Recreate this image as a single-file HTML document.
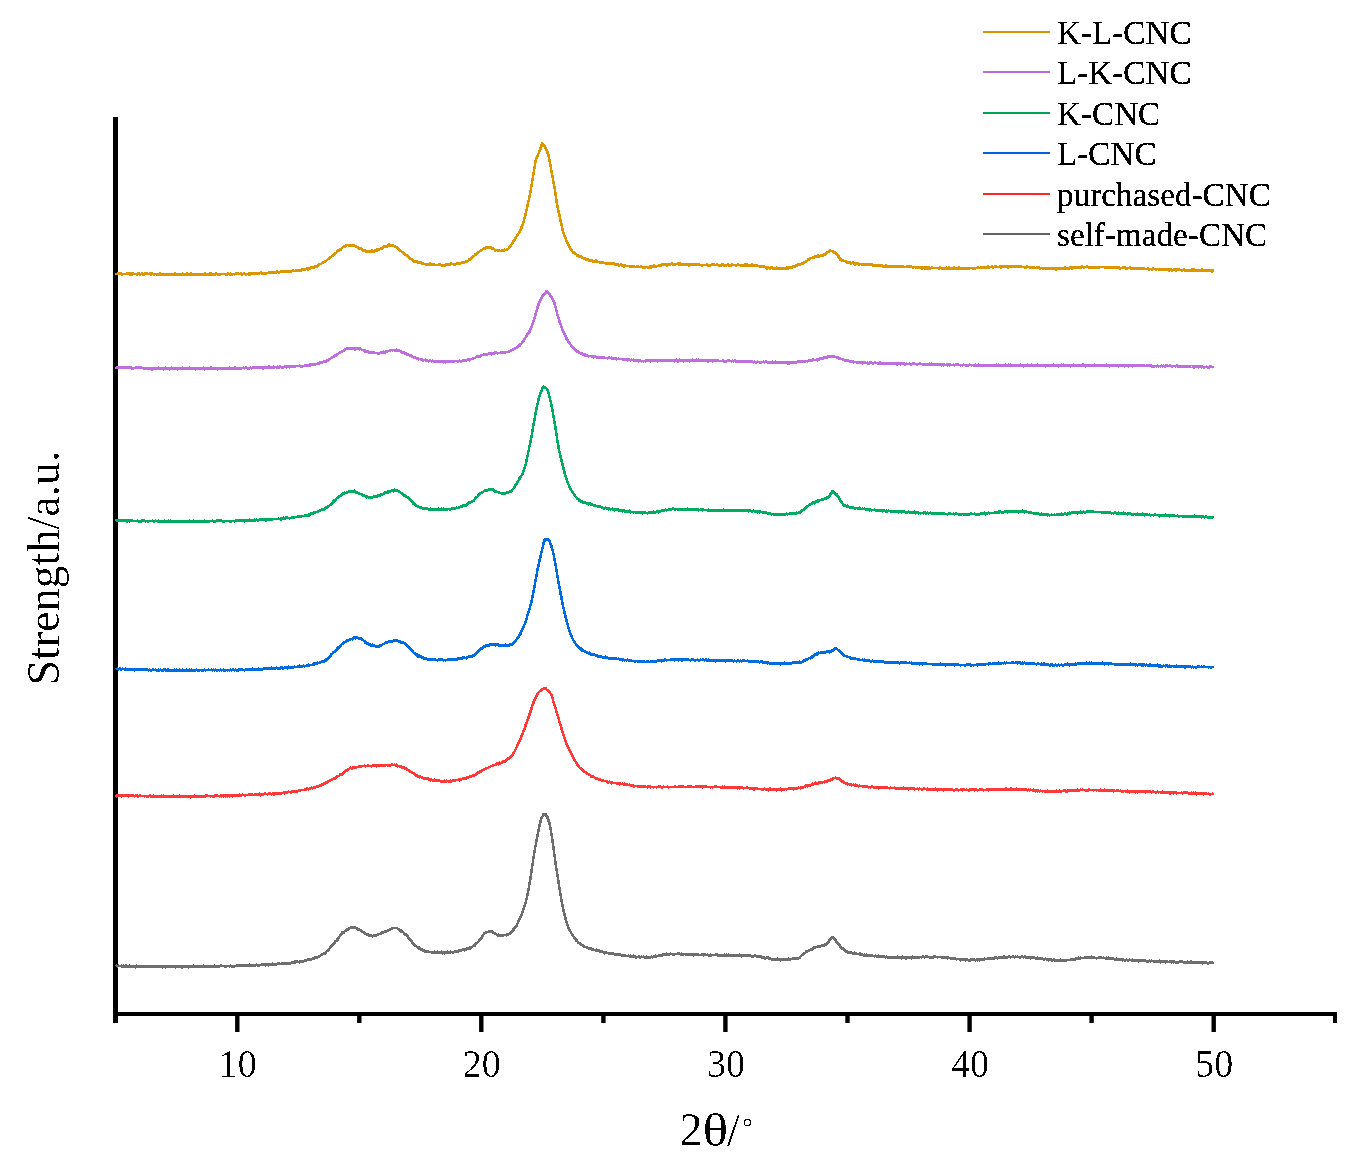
<!DOCTYPE html>
<html><head><meta charset="utf-8"><style>
html,body{margin:0;padding:0;background:#fff;}
svg{display:block;}
</style></head><body>
<svg width="1367" height="1174" viewBox="0 0 1367 1174">
<style>
text { font-family: "Liberation Serif", serif; fill:#000; }
.tl { font-size: 39.5px; }
.lg { font-size: 33.2px; }
.ax { font-size: 46px; }
</style>
<defs><filter id="crisp" x="-5%" y="-5%" width="110%" height="110%"><feComponentTransfer><feFuncA type="discrete" tableValues="0 1 1"/></feComponentTransfer></filter><filter id="crisp2" x="-5%" y="-5%" width="110%" height="110%"><feComponentTransfer><feFuncA type="discrete" tableValues="0 0 1"/></feComponentTransfer></filter></defs>
<rect width="1367" height="1174" fill="#fff"/>
<rect x="113" y="117" width="5" height="906" fill="#000"/><rect x="113" y="1012" width="1224" height="4" fill="#000"/><rect x="235.1" y="1014" width="4.4" height="18" fill="#000"/><rect x="479.1" y="1014" width="4.4" height="18" fill="#000"/><rect x="723.2" y="1014" width="4.4" height="18" fill="#000"/><rect x="967.4" y="1014" width="4.4" height="18" fill="#000"/><rect x="1211.5" y="1014" width="4.4" height="18" fill="#000"/><rect x="357.1" y="1014" width="4.4" height="9" fill="#000"/><rect x="601.2" y="1014" width="4.4" height="9" fill="#000"/><rect x="845.3" y="1014" width="4.4" height="9" fill="#000"/><rect x="1089.4" y="1014" width="4.4" height="9" fill="#000"/><rect x="1333" y="1014" width="4" height="9" fill="#000"/>
<path d="M115.5 966.2 L117.5 966.2 L119.5 966.2 L121.5 966.3 L123.5 966.3 L125.5 966.3 L127.5 966.3 L129.5 966.3 L131.5 966.4 L133.5 966.4 L135.5 966.4 L137.5 966.4 L139.5 966.5 L141.5 966.5 L143.5 966.5 L145.5 966.5 L147.5 966.6 L149.5 966.6 L151.5 966.6 L153.5 966.6 L155.5 966.6 L157.5 966.6 L159.5 966.7 L161.5 966.7 L163.5 966.7 L165.5 966.7 L167.5 966.7 L169.5 966.7 L171.5 966.7 L173.5 966.7 L175.5 966.7 L177.5 966.7 L179.5 966.7 L181.5 966.7 L183.5 966.7 L185.5 966.7 L187.5 966.6 L189.5 966.6 L191.5 966.6 L193.5 966.6 L195.5 966.6 L197.5 966.6 L199.5 966.5 L201.5 966.5 L203.5 966.5 L205.5 966.5 L207.5 966.4 L209.5 966.4 L211.5 966.4 L213.5 966.4 L215.5 966.3 L217.5 966.3 L219.5 966.3 L221.5 966.2 L223.5 966.2 L225.5 966.2 L227.5 966.1 L229.5 966.1 L231.5 966.1 L233.5 966.0 L235.5 966.0 L237.5 965.9 L239.5 965.9 L241.5 965.8 L243.5 965.8 L245.5 965.7 L247.5 965.6 L249.5 965.6 L251.5 965.5 L253.5 965.4 L255.5 965.3 L257.5 965.2 L259.5 965.1 L261.5 965.0 L263.5 964.9 L265.5 964.8 L267.5 964.7 L269.5 964.5 L271.5 964.4 L273.5 964.3 L275.5 964.1 L277.5 964.0 L279.5 963.9 L281.5 963.7 L283.5 963.5 L285.5 963.4 L287.5 963.2 L289.5 963.0 L291.5 962.8 L293.5 962.5 L295.5 962.3 L297.5 962.0 L299.5 961.7 L301.5 961.3 L303.5 961.0 L305.5 960.6 L307.5 960.1 L309.5 959.7 L311.5 959.1 L313.5 958.5 L315.5 957.8 L317.5 956.9 L319.5 955.9 L321.5 954.9 L323.5 953.7 L325.5 952.4 L327.5 950.5 L329.5 948.4 L331.5 946.2 L333.5 943.9 L335.5 941.6 L337.5 939.0 L339.5 936.4 L341.5 934.0 L343.5 932.1 L345.5 930.7 L347.5 929.3 L349.5 928.2 L351.5 927.5 L353.5 927.5 L355.5 928.0 L357.5 928.9 L359.5 929.9 L361.5 930.8 L363.5 932.0 L365.5 933.5 L367.5 934.8 L369.5 935.8 L371.5 936.1 L373.5 935.9 L375.5 935.4 L377.5 934.7 L379.5 934.0 L381.5 933.2 L383.5 932.4 L385.5 931.6 L387.5 930.6 L389.5 929.5 L391.5 928.6 L393.5 928.0 L395.5 927.9 L397.5 928.5 L399.5 929.6 L401.5 931.0 L403.5 932.4 L405.5 934.2 L407.5 936.5 L409.5 939.1 L411.5 941.7 L413.5 944.1 L415.5 945.8 L417.5 947.1 L419.5 948.3 L421.5 949.4 L423.5 950.3 L425.5 951.2 L427.5 951.8 L429.5 952.2 L431.5 952.3 L433.5 952.4 L435.5 952.5 L437.5 952.5 L439.5 952.6 L441.5 952.6 L443.5 952.6 L445.5 952.6 L447.5 952.5 L449.5 952.4 L451.5 952.1 L453.5 951.8 L455.5 951.5 L457.5 951.1 L459.5 950.8 L461.5 950.4 L463.5 949.9 L465.5 949.4 L467.5 948.7 L469.5 948.0 L471.5 947.1 L473.5 945.9 L475.5 944.4 L477.5 942.6 L479.5 940.5 L481.5 938.2 L483.5 934.6 L485.5 932.7 L487.5 932.2 L489.5 931.9 L491.5 932.0 L493.5 932.8 L495.5 933.9 L497.5 935.0 L499.5 935.6 L501.5 935.5 L503.5 935.3 L505.5 934.9 L507.5 934.4 L509.5 933.6 L511.5 932.0 L513.5 929.8 L515.5 927.3 L517.5 923.7 L519.5 919.3 L521.5 914.6 L523.5 909.5 L525.5 903.3 L527.5 894.8 L529.5 884.1 L531.5 871.4 L533.5 857.6 L535.5 846.0 L537.5 835.6 L539.5 825.4 L541.5 817.7 L543.5 815.0 L545.5 814.5 L547.5 817.9 L549.5 823.5 L551.5 834.2 L553.5 848.1 L555.5 862.7 L557.5 875.6 L559.5 888.1 L561.5 900.6 L563.5 910.4 L565.5 918.6 L567.5 925.2 L569.5 929.8 L571.5 933.4 L573.5 936.3 L575.5 939.0 L577.5 941.4 L579.5 943.5 L581.5 945.0 L583.5 946.1 L585.5 947.0 L587.5 947.8 L589.5 948.6 L591.5 949.2 L593.5 949.8 L595.5 950.3 L597.5 950.8 L599.5 951.3 L601.5 951.8 L603.5 952.2 L605.5 952.7 L607.5 953.1 L609.5 953.4 L611.5 953.8 L613.5 954.2 L615.5 954.5 L617.5 954.8 L619.5 955.0 L621.5 955.3 L623.5 955.5 L625.5 955.7 L627.5 955.9 L629.5 956.1 L631.5 956.3 L633.5 956.5 L635.5 956.7 L637.5 956.9 L639.5 957.0 L641.5 957.1 L643.5 957.2 L645.5 957.3 L647.5 957.3 L649.5 957.3 L651.5 957.1 L653.5 956.9 L655.5 956.6 L657.5 956.2 L659.5 955.8 L661.5 955.4 L663.5 955.0 L665.5 954.7 L667.5 954.4 L669.5 954.1 L671.5 954.0 L673.5 954.0 L675.5 954.0 L677.5 954.0 L679.5 954.1 L681.5 954.1 L683.5 954.2 L685.5 954.3 L687.5 954.3 L689.5 954.4 L691.5 954.5 L693.5 954.6 L695.5 954.6 L697.5 954.7 L699.5 954.8 L701.5 954.9 L703.5 954.9 L705.5 955.0 L707.5 955.0 L709.5 955.1 L711.5 955.1 L713.5 955.2 L715.5 955.2 L717.5 955.2 L719.5 955.3 L721.5 955.3 L723.5 955.3 L725.5 955.3 L727.5 955.3 L729.5 955.4 L731.5 955.4 L733.5 955.4 L735.5 955.4 L737.5 955.5 L739.5 955.5 L741.5 955.5 L743.5 955.6 L745.5 955.6 L747.5 955.7 L749.5 955.7 L751.5 955.8 L753.5 956.0 L755.5 956.2 L757.5 956.5 L759.5 956.8 L761.5 957.1 L763.5 957.4 L765.5 957.8 L767.5 958.1 L769.5 958.5 L771.5 958.8 L773.5 959.1 L775.5 959.3 L777.5 959.5 L779.5 959.6 L781.5 959.7 L783.5 959.7 L785.5 959.6 L787.5 959.5 L789.5 959.4 L791.5 959.2 L793.5 959.0 L795.5 958.7 L797.5 958.4 L799.5 957.4 L801.5 955.7 L803.5 953.9 L805.5 952.6 L807.5 951.4 L809.5 950.2 L811.5 949.2 L813.5 948.2 L815.5 947.4 L817.5 946.8 L819.5 946.3 L821.5 945.9 L823.5 945.3 L825.5 944.5 L827.5 943.0 L829.5 940.2 L831.5 937.9 L833.5 937.8 L835.5 940.0 L837.5 943.0 L839.5 945.4 L841.5 948.0 L843.5 949.7 L845.5 950.7 L847.5 951.5 L849.5 952.2 L851.5 952.8 L853.5 953.3 L855.5 953.7 L857.5 954.0 L859.5 954.3 L861.5 954.6 L863.5 954.8 L865.5 955.1 L867.5 955.3 L869.5 955.5 L871.5 955.8 L873.5 956.0 L875.5 956.2 L877.5 956.4 L879.5 956.6 L881.5 956.7 L883.5 956.9 L885.5 957.0 L887.5 957.1 L889.5 957.2 L891.5 957.3 L893.5 957.4 L895.5 957.5 L897.5 957.5 L899.5 957.5 L901.5 957.5 L903.5 957.5 L905.5 957.5 L907.5 957.5 L909.5 957.4 L911.5 957.4 L913.5 957.4 L915.5 957.3 L917.5 957.3 L919.5 957.3 L921.5 957.2 L923.5 957.2 L925.5 957.2 L927.5 957.1 L929.5 957.1 L931.5 957.1 L933.5 957.1 L935.5 957.1 L937.5 957.1 L939.5 957.2 L941.5 957.3 L943.5 957.5 L945.5 957.7 L947.5 957.9 L949.5 958.1 L951.5 958.4 L953.5 958.6 L955.5 958.8 L957.5 959.1 L959.5 959.3 L961.5 959.5 L963.5 959.6 L965.5 959.8 L967.5 959.9 L969.5 959.9 L971.5 959.9 L973.5 959.9 L975.5 959.8 L977.5 959.7 L979.5 959.6 L981.5 959.5 L983.5 959.3 L985.5 959.1 L987.5 959.0 L989.5 958.8 L991.5 958.6 L993.5 958.4 L995.5 958.2 L997.5 958.0 L999.5 957.8 L1001.5 957.7 L1003.5 957.5 L1005.5 957.4 L1007.5 957.2 L1009.5 957.1 L1011.5 957.0 L1013.5 956.9 L1015.5 956.9 L1017.5 956.9 L1019.5 956.9 L1021.5 957.0 L1023.5 957.1 L1025.5 957.2 L1027.5 957.3 L1029.5 957.5 L1031.5 957.7 L1033.5 957.9 L1035.5 958.1 L1037.5 958.3 L1039.5 958.5 L1041.5 958.8 L1043.5 959.0 L1045.5 959.2 L1047.5 959.4 L1049.5 959.6 L1051.5 959.8 L1053.5 960.0 L1055.5 960.1 L1057.5 960.2 L1059.5 960.3 L1061.5 960.4 L1063.5 960.4 L1065.5 960.4 L1067.5 960.2 L1069.5 960.0 L1071.5 959.7 L1073.5 959.4 L1075.5 959.0 L1077.5 958.7 L1079.5 958.3 L1081.5 958.0 L1083.5 957.8 L1085.5 957.6 L1087.5 957.6 L1089.5 957.6 L1091.5 957.6 L1093.5 957.7 L1095.5 957.8 L1097.5 957.9 L1099.5 958.0 L1101.5 958.1 L1103.5 958.2 L1105.5 958.3 L1107.5 958.5 L1109.5 958.6 L1111.5 958.8 L1113.5 958.9 L1115.5 959.1 L1117.5 959.3 L1119.5 959.4 L1121.5 959.6 L1123.5 959.7 L1125.5 959.9 L1127.5 960.0 L1129.5 960.1 L1131.5 960.3 L1133.5 960.4 L1135.5 960.5 L1137.5 960.6 L1139.5 960.6 L1141.5 960.7 L1143.5 960.8 L1145.5 960.9 L1147.5 961.0 L1149.5 961.1 L1151.5 961.2 L1153.5 961.3 L1155.5 961.3 L1157.5 961.4 L1159.5 961.5 L1161.5 961.6 L1163.5 961.6 L1165.5 961.7 L1167.5 961.8 L1169.5 961.9 L1171.5 961.9 L1173.5 962.0 L1175.5 962.0 L1177.5 962.1 L1179.5 962.2 L1181.5 962.2 L1183.5 962.3 L1185.5 962.3 L1187.5 962.4 L1189.5 962.4 L1191.5 962.5 L1193.5 962.5 L1195.5 962.5 L1197.5 962.6 L1199.5 962.6 L1201.5 962.7 L1203.5 962.7 L1205.5 962.7 L1207.5 962.8 L1209.5 962.8 L1211.5 962.9 L1213.5 962.9" fill="none" stroke="#6E6E6E" stroke-width="2.5" stroke-linejoin="round" shape-rendering="crispEdges"/><path d="M115.5 965.8 L116.5 965.5 L117.5 966.5 L118.5 965.4 L119.5 966.3 L120.5 966.0 L121.5 965.4 L122.5 966.3 L123.5 965.4 L124.5 966.2 L125.5 965.4 L126.5 965.5 L127.5 966.2 L128.5 967.0 L129.5 965.6 L130.5 965.8 L131.5 966.6 L132.5 967.3 L133.5 966.5 L134.5 966.2 L135.5 967.4 L136.5 965.5 L137.5 967.2 L138.5 966.0 L139.5 965.8 L140.5 965.7 L141.5 966.1 L142.5 967.1 L143.5 965.9 L144.5 966.7 L145.5 966.8 L146.5 966.3 L147.5 966.6 L148.5 965.7 L149.5 965.7 L150.5 966.0 L151.5 967.0 L152.5 966.5 L153.5 966.2 L154.5 966.8 L155.5 966.5 L156.5 966.2 L157.5 967.2 L158.5 967.0 L159.5 966.1 L160.5 966.8 L161.5 966.7 L162.5 967.4 L163.5 967.1 L164.5 966.3 L165.5 967.6 L166.5 965.9 L167.5 966.5 L168.5 967.2 L169.5 966.0 L170.5 966.7 L171.5 965.8 L172.5 967.0 L173.5 967.2 L174.5 966.8 L175.5 967.4 L176.5 966.3 L177.5 967.1 L178.5 966.9 L179.5 966.8 L180.5 966.6 L181.5 967.4 L182.5 967.6 L183.5 966.6 L184.5 967.0 L185.5 965.8 L186.5 967.1 L187.5 966.9 L188.5 967.6 L189.5 967.3 L190.5 966.2 L191.5 966.4 L192.5 966.9 L193.5 965.6 L194.5 966.5 L195.5 965.9 L196.5 965.8 L197.5 965.7 L198.5 967.1 L199.5 965.8 L200.5 966.0 L201.5 966.3 L202.5 967.2 L203.5 965.7 L204.5 966.4 L205.5 966.6 L206.5 967.2 L207.5 967.1 L208.5 967.2 L209.5 966.0 L210.5 966.2 L211.5 966.1 L212.5 967.1 L213.5 967.3 L214.5 965.6 L215.5 965.7 L216.5 965.8 L217.5 965.8 L218.5 966.2 L219.5 966.4 L220.5 965.8 L221.5 965.2 L222.5 966.1 L223.5 965.9 L224.5 966.3 L225.5 967.1 L226.5 966.5 L227.5 966.2 L228.5 966.3 L229.5 966.4 L230.5 965.2 L231.5 966.9 L232.5 966.6 L233.5 966.8 L234.5 966.6 L235.5 965.8 L236.5 965.8 L237.5 965.1 L238.5 966.2 L239.5 965.0 L240.5 965.0 L241.5 965.2 L242.5 965.1 L243.5 965.5 L244.5 964.8 L245.5 964.7 L246.5 965.0 L247.5 964.8 L248.5 965.3 L249.5 964.6 L250.5 966.3 L251.5 965.7 L252.5 964.7 L253.5 964.9 L254.5 965.0 L255.5 965.0 L256.5 964.5 L257.5 965.9 L258.5 966.1 L259.5 965.0 L260.5 965.0 L261.5 964.2 L262.5 964.2 L263.5 964.6 L264.5 964.4 L265.5 965.4 L266.5 964.0 L267.5 963.7 L268.5 965.5 L269.5 964.6 L270.5 963.8 L271.5 964.5 L272.5 963.4 L273.5 964.3 L274.5 965.2 L275.5 964.9 L276.5 964.5 L277.5 963.5 L278.5 963.7 L279.5 963.2 L280.5 964.3 L281.5 963.8 L282.5 964.2 L283.5 963.2 L284.5 962.9 L285.5 964.0 L286.5 964.3 L287.5 963.9 L288.5 963.7 L289.5 963.6 L290.5 963.4 L291.5 962.2 L292.5 962.7 L293.5 962.2 L294.5 961.5 L295.5 961.3 L296.5 961.7 L297.5 961.5 L298.5 962.2 L299.5 962.6 L300.5 961.4 L301.5 962.2 L302.5 962.1 L303.5 961.9 L304.5 960.5 L305.5 960.0 L306.5 959.8 L307.5 959.5 L308.5 959.3 L309.5 959.9 L310.5 960.2 L311.5 959.8 L312.5 958.8 L313.5 958.8 L314.5 958.7 L315.5 956.9 L316.5 957.7 L317.5 957.7 L318.5 957.0 L319.5 956.4 L320.5 955.4 L321.5 954.3 L322.5 954.9 L323.5 953.4 L324.5 953.7 L325.5 953.3 L326.5 951.3 L327.5 950.3 L328.5 950.4 L329.5 948.9 L330.5 946.6 L331.5 945.4 L332.5 944.3 L333.5 944.7 L334.5 943.4 L335.5 940.9 L336.5 941.0 L337.5 940.0 L338.5 938.0 L339.5 936.1 L340.5 935.2 L341.5 933.3 L342.5 932.0 L343.5 933.1 L344.5 931.7 L345.5 930.7 L346.5 930.8 L347.5 929.1 L348.5 929.4 L349.5 928.8 L350.5 927.2 L351.5 927.0 L352.5 927.0 L353.5 927.0 L354.5 927.9 L355.5 927.5 L356.5 928.2 L357.5 928.1 L358.5 930.2 L359.5 929.6 L360.5 930.3 L361.5 931.0 L362.5 932.2 L363.5 931.9 L364.5 933.6 L365.5 933.5 L366.5 934.3 L367.5 934.9 L368.5 934.4 L369.5 935.7 L370.5 935.4 L371.5 935.1 L372.5 936.6 L373.5 935.2 L374.5 935.6 L375.5 935.8 L376.5 935.2 L377.5 934.4 L378.5 934.4 L379.5 934.1 L380.5 934.1 L381.5 932.4 L382.5 932.9 L383.5 931.9 L384.5 931.6 L385.5 932.2 L386.5 931.1 L387.5 930.7 L388.5 930.6 L389.5 930.3 L390.5 928.9 L391.5 928.8 L392.5 928.3 L393.5 928.0 L394.5 928.3 L395.5 927.9 L396.5 928.2 L397.5 928.5 L398.5 929.9 L399.5 930.0 L400.5 931.0 L401.5 931.9 L402.5 931.2 L403.5 932.5 L404.5 934.1 L405.5 934.8 L406.5 934.5 L407.5 935.7 L408.5 937.7 L409.5 938.2 L410.5 939.9 L411.5 940.9 L412.5 943.3 L413.5 944.6 L414.5 945.8 L415.5 945.1 L416.5 946.9 L417.5 947.4 L418.5 947.0 L419.5 949.0 L420.5 949.8 L421.5 948.8 L422.5 950.8 L423.5 950.1 L424.5 950.7 L425.5 952.1 L426.5 952.2 L427.5 951.1 L428.5 951.9 L429.5 952.2 L430.5 952.0 L431.5 951.7 L432.5 952.0 L433.5 952.8 L434.5 951.5 L435.5 952.6 L436.5 952.4 L437.5 951.5 L438.5 952.2 L439.5 952.8 L440.5 952.6 L441.5 951.7 L442.5 953.6 L443.5 953.2 L444.5 953.5 L445.5 951.8 L446.5 952.1 L447.5 951.6 L448.5 953.0 L449.5 951.9 L450.5 951.5 L451.5 952.0 L452.5 952.8 L453.5 952.5 L454.5 951.2 L455.5 950.8 L456.5 952.2 L457.5 951.3 L458.5 951.4 L459.5 949.9 L460.5 949.7 L461.5 950.8 L462.5 950.0 L463.5 949.1 L464.5 950.5 L465.5 949.6 L466.5 949.7 L467.5 947.9 L468.5 949.1 L469.5 947.1 L470.5 948.3 L471.5 947.0 L472.5 946.2 L473.5 946.0 L474.5 946.1 L475.5 944.0 L476.5 942.8 L477.5 942.6 L478.5 941.1 L479.5 939.8 L480.5 938.8 L481.5 937.3 L482.5 935.8 L483.5 934.2 L484.5 932.8 L485.5 933.3 L486.5 932.0 L487.5 932.2 L488.5 931.4 L489.5 931.6 L490.5 930.9 L491.5 931.5 L492.5 931.4 L493.5 933.3 L494.5 933.5 L495.5 933.3 L496.5 934.4 L497.5 935.8 L498.5 934.6 L499.5 936.2 L500.5 935.5 L501.5 935.5 L502.5 936.1 L503.5 935.1 L504.5 935.1 L505.5 935.3 L506.5 935.6 L507.5 934.1 L508.5 934.7 L509.5 934.0 L510.5 933.1 L511.5 931.8 L512.5 930.6 L513.5 928.9 L514.5 927.9 L515.5 926.4 L516.5 926.1 L517.5 923.2 L518.5 920.9 L519.5 918.5 L520.5 917.7 L521.5 915.4 L522.5 912.5 L523.5 909.0 L524.5 906.0 L525.5 902.8 L526.5 899.4 L527.5 894.1 L528.5 889.5 L529.5 883.6 L530.5 879.1 L531.5 872.4 L532.5 864.5 L533.5 857.1 L534.5 852.5 L535.5 845.6 L536.5 840.4 L537.5 834.6 L538.5 830.5 L539.5 825.3 L540.5 820.6 L541.5 817.1 L542.5 816.2 L543.5 814.0 L544.5 813.9 L545.5 813.7 L546.5 815.6 L547.5 816.9 L548.5 819.5 L549.5 823.1 L550.5 827.8 L551.5 834.4 L552.5 840.7 L553.5 848.6 L554.5 856.0 L555.5 863.1 L556.5 870.0 L557.5 875.4 L558.5 881.5 L559.5 889.1 L560.5 893.8 L561.5 901.0 L562.5 906.1 L563.5 909.5 L564.5 915.3 L565.5 919.4 L566.5 922.4 L567.5 925.6 L568.5 928.3 L569.5 929.1 L570.5 931.7 L571.5 933.4 L572.5 935.6 L573.5 936.9 L574.5 938.3 L575.5 939.1 L576.5 941.0 L577.5 941.8 L578.5 942.9 L579.5 942.9 L580.5 943.4 L581.5 944.2 L582.5 945.3 L583.5 945.3 L584.5 947.2 L585.5 947.1 L586.5 947.7 L587.5 948.1 L588.5 948.6 L589.5 948.5 L590.5 947.9 L591.5 949.8 L592.5 950.0 L593.5 949.8 L594.5 950.1 L595.5 950.6 L596.5 949.7 L597.5 951.3 L598.5 950.6 L599.5 950.4 L600.5 951.1 L601.5 952.2 L602.5 951.4 L603.5 952.7 L604.5 953.4 L605.5 952.6 L606.5 952.6 L607.5 953.0 L608.5 953.6 L609.5 954.0 L610.5 953.9 L611.5 954.1 L612.5 953.1 L613.5 953.4 L614.5 953.8 L615.5 955.0 L616.5 954.2 L617.5 954.9 L618.5 953.9 L619.5 954.1 L620.5 954.7 L621.5 955.6 L622.5 955.7 L623.5 955.8 L624.5 955.2 L625.5 955.7 L626.5 955.7 L627.5 955.8 L628.5 955.3 L629.5 956.9 L630.5 955.6 L631.5 957.3 L632.5 957.3 L633.5 955.5 L634.5 956.5 L635.5 957.3 L636.5 957.7 L637.5 956.8 L638.5 956.5 L639.5 956.4 L640.5 957.9 L641.5 956.5 L642.5 957.3 L643.5 956.5 L644.5 957.3 L645.5 958.2 L646.5 956.6 L647.5 957.9 L648.5 957.3 L649.5 958.0 L650.5 957.6 L651.5 956.6 L652.5 957.8 L653.5 956.9 L654.5 955.8 L655.5 955.6 L656.5 956.4 L657.5 956.1 L658.5 955.6 L659.5 955.1 L660.5 955.3 L661.5 955.0 L662.5 955.9 L663.5 954.0 L664.5 955.3 L665.5 955.3 L666.5 953.7 L667.5 955.2 L668.5 954.7 L669.5 954.9 L670.5 953.6 L671.5 953.8 L672.5 953.8 L673.5 955.0 L674.5 954.2 L675.5 953.7 L676.5 953.9 L677.5 953.6 L678.5 953.2 L679.5 953.3 L680.5 954.8 L681.5 953.7 L682.5 955.0 L683.5 953.7 L684.5 953.8 L685.5 954.3 L686.5 953.7 L687.5 954.1 L688.5 955.3 L689.5 955.2 L690.5 955.1 L691.5 954.7 L692.5 955.3 L693.5 955.4 L694.5 954.7 L695.5 955.1 L696.5 953.8 L697.5 955.2 L698.5 954.7 L699.5 955.3 L700.5 955.1 L701.5 954.4 L702.5 954.0 L703.5 955.8 L704.5 954.2 L705.5 954.9 L706.5 954.7 L707.5 954.6 L708.5 955.6 L709.5 956.0 L710.5 954.6 L711.5 955.4 L712.5 954.8 L713.5 955.3 L714.5 955.0 L715.5 954.5 L716.5 954.5 L717.5 954.6 L718.5 956.1 L719.5 955.2 L720.5 954.7 L721.5 956.1 L722.5 956.3 L723.5 955.2 L724.5 954.6 L725.5 954.7 L726.5 954.5 L727.5 955.0 L728.5 954.5 L729.5 954.8 L730.5 954.9 L731.5 955.5 L732.5 956.2 L733.5 955.9 L734.5 955.2 L735.5 955.3 L736.5 955.5 L737.5 955.2 L738.5 955.2 L739.5 954.6 L740.5 955.1 L741.5 956.5 L742.5 954.8 L743.5 955.6 L744.5 955.8 L745.5 956.3 L746.5 955.1 L747.5 955.2 L748.5 955.2 L749.5 955.5 L750.5 955.6 L751.5 956.7 L752.5 956.6 L753.5 956.7 L754.5 955.1 L755.5 955.3 L756.5 956.7 L757.5 957.3 L758.5 956.6 L759.5 956.9 L760.5 955.9 L761.5 956.9 L762.5 958.1 L763.5 958.1 L764.5 958.3 L765.5 958.7 L766.5 957.5 L767.5 957.4 L768.5 957.6 L769.5 958.5 L770.5 959.0 L771.5 959.7 L772.5 959.4 L773.5 959.4 L774.5 959.7 L775.5 959.2 L776.5 959.5 L777.5 958.6 L778.5 960.1 L779.5 959.1 L780.5 960.5 L781.5 960.0 L782.5 959.3 L783.5 958.9 L784.5 959.2 L785.5 959.9 L786.5 960.0 L787.5 958.8 L788.5 958.6 L789.5 959.5 L790.5 959.5 L791.5 959.0 L792.5 958.6 L793.5 959.2 L794.5 957.9 L795.5 958.3 L796.5 958.5 L797.5 959.3 L798.5 958.3 L799.5 958.2 L800.5 956.6 L801.5 955.2 L802.5 954.3 L803.5 954.8 L804.5 953.7 L805.5 952.2 L806.5 951.0 L807.5 951.4 L808.5 951.2 L809.5 950.1 L810.5 949.2 L811.5 949.5 L812.5 949.5 L813.5 947.7 L814.5 946.9 L815.5 947.1 L816.5 946.9 L817.5 947.2 L818.5 945.9 L819.5 946.9 L820.5 946.6 L821.5 945.9 L822.5 945.0 L823.5 946.2 L824.5 944.6 L825.5 945.2 L826.5 943.4 L827.5 942.4 L828.5 942.2 L829.5 939.8 L830.5 939.8 L831.5 937.9 L832.5 936.9 L833.5 937.3 L834.5 938.6 L835.5 940.4 L836.5 942.4 L837.5 942.3 L838.5 944.0 L839.5 944.8 L840.5 947.7 L841.5 947.2 L842.5 948.1 L843.5 948.9 L844.5 950.0 L845.5 951.5 L846.5 951.9 L847.5 952.0 L848.5 952.9 L849.5 953.1 L850.5 952.1 L851.5 952.1 L852.5 953.9 L853.5 953.7 L854.5 952.5 L855.5 954.0 L856.5 953.6 L857.5 953.7 L858.5 953.8 L859.5 953.6 L860.5 953.4 L861.5 954.1 L862.5 954.4 L863.5 955.7 L864.5 954.2 L865.5 956.0 L866.5 954.6 L867.5 955.0 L868.5 956.1 L869.5 956.2 L870.5 955.5 L871.5 954.9 L872.5 955.8 L873.5 955.7 L874.5 956.9 L875.5 955.6 L876.5 956.0 L877.5 957.2 L878.5 955.5 L879.5 956.4 L880.5 957.3 L881.5 957.3 L882.5 955.9 L883.5 955.9 L884.5 956.1 L885.5 957.9 L886.5 956.6 L887.5 957.6 L888.5 958.0 L889.5 956.9 L890.5 956.8 L891.5 958.2 L892.5 957.6 L893.5 956.9 L894.5 957.9 L895.5 957.1 L896.5 957.0 L897.5 956.5 L898.5 958.0 L899.5 958.3 L900.5 957.8 L901.5 958.4 L902.5 956.5 L903.5 957.0 L904.5 957.4 L905.5 958.4 L906.5 958.4 L907.5 957.2 L908.5 956.9 L909.5 957.3 L910.5 957.4 L911.5 958.3 L912.5 956.7 L913.5 958.0 L914.5 957.8 L915.5 958.0 L916.5 957.9 L917.5 957.5 L918.5 956.9 L919.5 956.9 L920.5 957.0 L921.5 957.8 L922.5 956.4 L923.5 956.6 L924.5 957.7 L925.5 956.7 L926.5 956.3 L927.5 956.2 L928.5 957.2 L929.5 956.8 L930.5 958.1 L931.5 957.9 L932.5 958.1 L933.5 956.6 L934.5 956.3 L935.5 956.3 L936.5 957.1 L937.5 957.6 L938.5 957.1 L939.5 956.7 L940.5 957.1 L941.5 957.6 L942.5 957.8 L943.5 958.0 L944.5 958.3 L945.5 958.0 L946.5 957.0 L947.5 958.6 L948.5 957.6 L949.5 958.3 L950.5 958.0 L951.5 958.8 L952.5 957.9 L953.5 958.1 L954.5 958.2 L955.5 958.1 L956.5 959.7 L957.5 959.2 L958.5 958.8 L959.5 959.1 L960.5 960.4 L961.5 959.5 L962.5 959.0 L963.5 960.2 L964.5 960.0 L965.5 960.7 L966.5 959.0 L967.5 959.8 L968.5 960.5 L969.5 960.6 L970.5 960.7 L971.5 959.0 L972.5 959.5 L973.5 959.1 L974.5 959.2 L975.5 960.7 L976.5 959.9 L977.5 960.6 L978.5 959.4 L979.5 960.3 L980.5 959.4 L981.5 959.0 L982.5 959.9 L983.5 960.2 L984.5 958.4 L985.5 959.3 L986.5 959.3 L987.5 958.4 L988.5 958.6 L989.5 958.1 L990.5 958.1 L991.5 958.1 L992.5 958.7 L993.5 958.7 L994.5 957.7 L995.5 957.2 L996.5 957.8 L997.5 958.4 L998.5 957.3 L999.5 957.5 L1000.5 957.2 L1001.5 958.3 L1002.5 957.7 L1003.5 956.6 L1004.5 956.6 L1005.5 957.1 L1006.5 957.4 L1007.5 957.5 L1008.5 956.3 L1009.5 956.4 L1010.5 957.4 L1011.5 956.8 L1012.5 956.5 L1013.5 956.6 L1014.5 957.8 L1015.5 956.5 L1016.5 957.0 L1017.5 956.6 L1018.5 956.7 L1019.5 957.7 L1020.5 957.9 L1021.5 956.7 L1022.5 956.4 L1023.5 957.5 L1024.5 956.5 L1025.5 956.2 L1026.5 958.1 L1027.5 957.2 L1028.5 958.1 L1029.5 957.3 L1030.5 958.4 L1031.5 957.6 L1032.5 957.1 L1033.5 956.9 L1034.5 958.1 L1035.5 958.4 L1036.5 959.0 L1037.5 957.5 L1038.5 958.7 L1039.5 958.3 L1040.5 958.7 L1041.5 958.1 L1042.5 958.4 L1043.5 959.0 L1044.5 959.9 L1045.5 958.4 L1046.5 959.3 L1047.5 960.0 L1048.5 960.4 L1049.5 959.0 L1050.5 959.0 L1051.5 960.7 L1052.5 960.8 L1053.5 959.9 L1054.5 959.1 L1055.5 961.0 L1056.5 959.9 L1057.5 961.0 L1058.5 960.5 L1059.5 961.0 L1060.5 959.7 L1061.5 960.9 L1062.5 959.8 L1063.5 960.2 L1064.5 961.1 L1065.5 961.0 L1066.5 959.7 L1067.5 959.7 L1068.5 959.9 L1069.5 960.0 L1070.5 959.6 L1071.5 959.0 L1072.5 959.0 L1073.5 959.8 L1074.5 960.0 L1075.5 958.1 L1076.5 959.0 L1077.5 959.2 L1078.5 957.6 L1079.5 959.0 L1080.5 957.4 L1081.5 958.2 L1082.5 958.0 L1083.5 958.1 L1084.5 957.3 L1085.5 957.5 L1086.5 957.8 L1087.5 957.5 L1088.5 957.9 L1089.5 957.5 L1090.5 957.5 L1091.5 956.7 L1092.5 957.9 L1093.5 957.7 L1094.5 957.2 L1095.5 958.3 L1096.5 958.4 L1097.5 957.8 L1098.5 957.3 L1099.5 957.9 L1100.5 957.2 L1101.5 957.3 L1102.5 958.0 L1103.5 957.4 L1104.5 958.2 L1105.5 958.4 L1106.5 957.5 L1107.5 958.8 L1108.5 957.7 L1109.5 959.1 L1110.5 959.3 L1111.5 958.8 L1112.5 958.0 L1113.5 959.0 L1114.5 958.8 L1115.5 960.0 L1116.5 958.5 L1117.5 960.0 L1118.5 960.3 L1119.5 959.9 L1120.5 960.1 L1121.5 959.0 L1122.5 960.6 L1123.5 959.7 L1124.5 960.7 L1125.5 960.7 L1126.5 959.3 L1127.5 960.6 L1128.5 960.9 L1129.5 959.3 L1130.5 959.9 L1131.5 960.8 L1132.5 959.6 L1133.5 961.2 L1134.5 960.0 L1135.5 961.1 L1136.5 959.8 L1137.5 960.6 L1138.5 961.4 L1139.5 960.1 L1140.5 960.2 L1141.5 960.8 L1142.5 960.4 L1143.5 959.9 L1144.5 960.2 L1145.5 960.2 L1146.5 961.8 L1147.5 961.4 L1148.5 961.8 L1149.5 960.4 L1150.5 961.7 L1151.5 960.4 L1152.5 961.3 L1153.5 961.5 L1154.5 961.0 L1155.5 962.1 L1156.5 961.5 L1157.5 961.6 L1158.5 962.2 L1159.5 960.7 L1160.5 962.5 L1161.5 961.8 L1162.5 961.4 L1163.5 962.2 L1164.5 961.2 L1165.5 962.7 L1166.5 961.9 L1167.5 961.5 L1168.5 962.3 L1169.5 961.7 L1170.5 961.2 L1171.5 962.4 L1172.5 961.0 L1173.5 962.6 L1174.5 961.5 L1175.5 962.3 L1176.5 963.0 L1177.5 962.3 L1178.5 962.5 L1179.5 961.8 L1180.5 961.2 L1181.5 961.3 L1182.5 961.5 L1183.5 962.5 L1184.5 962.2 L1185.5 962.3 L1186.5 963.1 L1187.5 961.6 L1188.5 961.8 L1189.5 962.7 L1190.5 961.5 L1191.5 961.5 L1192.5 962.2 L1193.5 961.7 L1194.5 962.2 L1195.5 962.0 L1196.5 962.7 L1197.5 962.8 L1198.5 962.0 L1199.5 962.9 L1200.5 962.6 L1201.5 961.9 L1202.5 963.6 L1203.5 962.2 L1204.5 962.0 L1205.5 961.9 L1206.5 963.0 L1207.5 963.5 L1208.5 963.4 L1209.5 962.6 L1210.5 962.4 L1211.5 961.9 L1212.5 963.2 L1213.5 963.0" fill="none" stroke="#6E6E6E" stroke-width="2.3" stroke-linejoin="round" shape-rendering="crispEdges"/><path d="M115.5 795.5 L117.5 795.5 L119.5 795.6 L121.5 795.6 L123.5 795.6 L125.5 795.7 L127.5 795.7 L129.5 795.7 L131.5 795.8 L133.5 795.8 L135.5 795.8 L137.5 795.9 L139.5 795.9 L141.5 796.0 L143.5 796.0 L145.5 796.0 L147.5 796.1 L149.5 796.1 L151.5 796.2 L153.5 796.2 L155.5 796.2 L157.5 796.3 L159.5 796.3 L161.5 796.3 L163.5 796.3 L165.5 796.4 L167.5 796.4 L169.5 796.4 L171.5 796.4 L173.5 796.5 L175.5 796.5 L177.5 796.5 L179.5 796.5 L181.5 796.5 L183.5 796.5 L185.5 796.5 L187.5 796.5 L189.5 796.5 L191.5 796.5 L193.5 796.5 L195.5 796.4 L197.5 796.4 L199.5 796.4 L201.5 796.3 L203.5 796.3 L205.5 796.3 L207.5 796.2 L209.5 796.2 L211.5 796.1 L213.5 796.1 L215.5 796.0 L217.5 796.0 L219.5 795.9 L221.5 795.9 L223.5 795.8 L225.5 795.8 L227.5 795.7 L229.5 795.6 L231.5 795.6 L233.5 795.5 L235.5 795.5 L237.5 795.4 L239.5 795.3 L241.5 795.3 L243.5 795.2 L245.5 795.1 L247.5 795.1 L249.5 795.0 L251.5 794.9 L253.5 794.8 L255.5 794.7 L257.5 794.6 L259.5 794.5 L261.5 794.4 L263.5 794.3 L265.5 794.2 L267.5 794.1 L269.5 793.9 L271.5 793.8 L273.5 793.7 L275.5 793.5 L277.5 793.3 L279.5 793.1 L281.5 792.9 L283.5 792.7 L285.5 792.5 L287.5 792.2 L289.5 792.0 L291.5 791.7 L293.5 791.4 L295.5 791.1 L297.5 790.8 L299.5 790.5 L301.5 790.2 L303.5 789.8 L305.5 789.5 L307.5 789.1 L309.5 788.6 L311.5 788.1 L313.5 787.6 L315.5 787.1 L317.5 786.4 L319.5 785.7 L321.5 784.8 L323.5 783.8 L325.5 782.8 L327.5 781.8 L329.5 780.8 L331.5 779.7 L333.5 778.7 L335.5 777.7 L337.5 776.6 L339.5 775.4 L341.5 774.3 L343.5 772.9 L345.5 771.3 L347.5 769.8 L349.5 768.5 L351.5 767.8 L353.5 767.4 L355.5 767.1 L357.5 766.8 L359.5 766.5 L361.5 766.3 L363.5 766.2 L365.5 766.1 L367.5 766.0 L369.5 766.0 L371.5 765.9 L373.5 765.9 L375.5 765.8 L377.5 765.7 L379.5 765.7 L381.5 765.5 L383.5 765.3 L385.5 765.2 L387.5 765.0 L389.5 764.9 L391.5 764.9 L393.5 765.0 L395.5 765.3 L397.5 765.7 L399.5 766.2 L401.5 766.8 L403.5 767.4 L405.5 768.2 L407.5 769.4 L409.5 770.8 L411.5 772.2 L413.5 773.6 L415.5 774.7 L417.5 775.6 L419.5 776.5 L421.5 777.3 L423.5 778.0 L425.5 778.7 L427.5 779.1 L429.5 779.5 L431.5 779.9 L433.5 780.2 L435.5 780.5 L437.5 780.7 L439.5 780.9 L441.5 781.1 L443.5 781.2 L445.5 781.2 L447.5 781.1 L449.5 781.0 L451.5 780.8 L453.5 780.6 L455.5 780.3 L457.5 780.0 L459.5 779.7 L461.5 779.4 L463.5 778.9 L465.5 778.4 L467.5 777.7 L469.5 777.0 L471.5 776.3 L473.5 775.4 L475.5 774.4 L477.5 773.2 L479.5 772.0 L481.5 770.8 L483.5 769.8 L485.5 768.8 L487.5 767.9 L489.5 766.9 L491.5 766.1 L493.5 765.3 L495.5 764.6 L497.5 763.9 L499.5 763.3 L501.5 762.6 L503.5 761.8 L505.5 760.8 L507.5 759.7 L509.5 758.1 L511.5 755.8 L513.5 753.0 L515.5 749.6 L517.5 745.5 L519.5 741.1 L521.5 736.3 L523.5 731.1 L525.5 725.8 L527.5 720.2 L529.5 714.5 L531.5 708.4 L533.5 702.7 L535.5 697.9 L537.5 693.8 L539.5 691.5 L541.5 690.0 L543.5 689.0 L545.5 688.9 L547.5 690.0 L549.5 692.0 L551.5 695.1 L553.5 701.5 L555.5 708.2 L557.5 715.1 L559.5 721.8 L561.5 728.4 L563.5 734.8 L565.5 741.1 L567.5 746.0 L569.5 749.9 L571.5 753.6 L573.5 757.5 L575.5 761.5 L577.5 764.8 L579.5 767.3 L581.5 769.3 L583.5 771.0 L585.5 772.5 L587.5 773.8 L589.5 775.0 L591.5 776.1 L593.5 777.1 L595.5 778.0 L597.5 778.8 L599.5 779.5 L601.5 780.2 L603.5 780.7 L605.5 781.2 L607.5 781.6 L609.5 782.1 L611.5 782.5 L613.5 782.8 L615.5 783.2 L617.5 783.5 L619.5 783.8 L621.5 784.0 L623.5 784.3 L625.5 784.6 L627.5 784.9 L629.5 785.2 L631.5 785.4 L633.5 785.7 L635.5 785.9 L637.5 786.2 L639.5 786.4 L641.5 786.5 L643.5 786.7 L645.5 786.8 L647.5 786.8 L649.5 786.8 L651.5 786.8 L653.5 786.8 L655.5 786.8 L657.5 786.8 L659.5 786.8 L661.5 786.8 L663.5 786.8 L665.5 786.8 L667.5 786.8 L669.5 786.8 L671.5 786.8 L673.5 786.8 L675.5 786.8 L677.5 786.8 L679.5 786.8 L681.5 786.8 L683.5 786.8 L685.5 786.8 L687.5 786.8 L689.5 786.8 L691.5 786.8 L693.5 786.8 L695.5 786.8 L697.5 786.8 L699.5 786.9 L701.5 786.9 L703.5 786.9 L705.5 786.9 L707.5 786.9 L709.5 787.0 L711.5 787.0 L713.5 787.0 L715.5 787.1 L717.5 787.1 L719.5 787.2 L721.5 787.2 L723.5 787.2 L725.5 787.3 L727.5 787.3 L729.5 787.4 L731.5 787.4 L733.5 787.4 L735.5 787.5 L737.5 787.6 L739.5 787.7 L741.5 787.8 L743.5 787.9 L745.5 788.1 L747.5 788.2 L749.5 788.3 L751.5 788.5 L753.5 788.6 L755.5 788.7 L757.5 788.9 L759.5 789.0 L761.5 789.1 L763.5 789.2 L765.5 789.3 L767.5 789.4 L769.5 789.5 L771.5 789.6 L773.5 789.6 L775.5 789.6 L777.5 789.6 L779.5 789.5 L781.5 789.5 L783.5 789.4 L785.5 789.2 L787.5 789.1 L789.5 788.9 L791.5 788.7 L793.5 788.5 L795.5 788.3 L797.5 788.1 L799.5 787.8 L801.5 787.4 L803.5 786.9 L805.5 786.4 L807.5 785.8 L809.5 785.2 L811.5 784.6 L813.5 784.1 L815.5 783.6 L817.5 783.2 L819.5 782.8 L821.5 782.4 L823.5 782.0 L825.5 781.5 L827.5 781.0 L829.5 780.3 L831.5 779.2 L833.5 778.2 L835.5 777.6 L837.5 778.0 L839.5 779.5 L841.5 781.1 L843.5 782.4 L845.5 783.0 L847.5 783.7 L849.5 784.2 L851.5 784.7 L853.5 785.1 L855.5 785.4 L857.5 785.7 L859.5 786.0 L861.5 786.2 L863.5 786.4 L865.5 786.5 L867.5 786.7 L869.5 786.9 L871.5 787.0 L873.5 787.2 L875.5 787.3 L877.5 787.4 L879.5 787.5 L881.5 787.6 L883.5 787.7 L885.5 787.8 L887.5 787.9 L889.5 788.0 L891.5 788.1 L893.5 788.2 L895.5 788.2 L897.5 788.3 L899.5 788.4 L901.5 788.4 L903.5 788.5 L905.5 788.6 L907.5 788.6 L909.5 788.7 L911.5 788.8 L913.5 788.8 L915.5 788.9 L917.5 789.0 L919.5 789.0 L921.5 789.1 L923.5 789.1 L925.5 789.2 L927.5 789.2 L929.5 789.3 L931.5 789.4 L933.5 789.4 L935.5 789.4 L937.5 789.5 L939.5 789.5 L941.5 789.6 L943.5 789.6 L945.5 789.7 L947.5 789.7 L949.5 789.7 L951.5 789.8 L953.5 789.8 L955.5 789.8 L957.5 789.8 L959.5 789.9 L961.5 789.9 L963.5 789.9 L965.5 789.9 L967.5 789.9 L969.5 789.9 L971.5 789.9 L973.5 789.9 L975.5 789.9 L977.5 789.9 L979.5 789.8 L981.5 789.8 L983.5 789.8 L985.5 789.8 L987.5 789.7 L989.5 789.7 L991.5 789.7 L993.5 789.7 L995.5 789.6 L997.5 789.6 L999.5 789.6 L1001.5 789.5 L1003.5 789.5 L1005.5 789.5 L1007.5 789.5 L1009.5 789.4 L1011.5 789.4 L1013.5 789.4 L1015.5 789.4 L1017.5 789.4 L1019.5 789.4 L1021.5 789.5 L1023.5 789.6 L1025.5 789.7 L1027.5 789.8 L1029.5 790.0 L1031.5 790.2 L1033.5 790.4 L1035.5 790.5 L1037.5 790.7 L1039.5 790.9 L1041.5 791.0 L1043.5 791.2 L1045.5 791.3 L1047.5 791.4 L1049.5 791.5 L1051.5 791.5 L1053.5 791.5 L1055.5 791.5 L1057.5 791.4 L1059.5 791.3 L1061.5 791.3 L1063.5 791.2 L1065.5 791.0 L1067.5 790.9 L1069.5 790.8 L1071.5 790.7 L1073.5 790.6 L1075.5 790.5 L1077.5 790.4 L1079.5 790.3 L1081.5 790.2 L1083.5 790.1 L1085.5 790.1 L1087.5 790.1 L1089.5 790.1 L1091.5 790.1 L1093.5 790.1 L1095.5 790.2 L1097.5 790.2 L1099.5 790.3 L1101.5 790.3 L1103.5 790.4 L1105.5 790.4 L1107.5 790.5 L1109.5 790.6 L1111.5 790.7 L1113.5 790.7 L1115.5 790.8 L1117.5 790.9 L1119.5 791.0 L1121.5 791.0 L1123.5 791.1 L1125.5 791.2 L1127.5 791.3 L1129.5 791.4 L1131.5 791.4 L1133.5 791.5 L1135.5 791.5 L1137.5 791.6 L1139.5 791.7 L1141.5 791.7 L1143.5 791.8 L1145.5 791.8 L1147.5 791.9 L1149.5 791.9 L1151.5 792.0 L1153.5 792.1 L1155.5 792.1 L1157.5 792.2 L1159.5 792.2 L1161.5 792.3 L1163.5 792.4 L1165.5 792.4 L1167.5 792.5 L1169.5 792.5 L1171.5 792.6 L1173.5 792.7 L1175.5 792.7 L1177.5 792.8 L1179.5 792.9 L1181.5 792.9 L1183.5 793.0 L1185.5 793.1 L1187.5 793.1 L1189.5 793.2 L1191.5 793.3 L1193.5 793.3 L1195.5 793.4 L1197.5 793.5 L1199.5 793.6 L1201.5 793.6 L1203.5 793.7 L1205.5 793.8 L1207.5 793.9 L1209.5 794.0 L1211.5 794.0 L1213.5 794.1" fill="none" stroke="#FF3838" stroke-width="2.5" stroke-linejoin="round" shape-rendering="crispEdges"/><path d="M115.5 795.0 L116.5 796.4 L117.5 794.8 L118.5 796.0 L119.5 794.7 L120.5 795.1 L121.5 796.6 L122.5 795.0 L123.5 795.9 L124.5 795.6 L125.5 795.6 L126.5 795.7 L127.5 795.1 L128.5 796.4 L129.5 794.9 L130.5 795.2 L131.5 794.8 L132.5 795.3 L133.5 795.6 L134.5 796.6 L135.5 795.6 L136.5 795.1 L137.5 795.4 L138.5 796.9 L139.5 795.1 L140.5 796.2 L141.5 795.7 L142.5 796.3 L143.5 795.7 L144.5 796.4 L145.5 796.0 L146.5 796.4 L147.5 796.9 L148.5 796.3 L149.5 795.4 L150.5 795.3 L151.5 797.0 L152.5 796.1 L153.5 795.6 L154.5 797.1 L155.5 796.4 L156.5 796.7 L157.5 797.0 L158.5 795.8 L159.5 796.0 L160.5 797.1 L161.5 795.6 L162.5 796.9 L163.5 795.5 L164.5 796.7 L165.5 796.8 L166.5 797.3 L167.5 797.1 L168.5 796.4 L169.5 795.8 L170.5 795.7 L171.5 796.5 L172.5 796.5 L173.5 795.6 L174.5 797.3 L175.5 796.5 L176.5 796.9 L177.5 795.9 L178.5 796.0 L179.5 795.5 L180.5 796.2 L181.5 796.0 L182.5 796.3 L183.5 796.3 L184.5 797.2 L185.5 797.3 L186.5 795.8 L187.5 796.3 L188.5 795.8 L189.5 796.8 L190.5 797.4 L191.5 795.9 L192.5 797.0 L193.5 796.1 L194.5 795.5 L195.5 797.0 L196.5 796.1 L197.5 795.7 L198.5 796.3 L199.5 795.8 L200.5 796.2 L201.5 796.2 L202.5 796.2 L203.5 796.5 L204.5 795.9 L205.5 795.5 L206.5 795.4 L207.5 795.4 L208.5 796.2 L209.5 795.9 L210.5 796.8 L211.5 796.1 L212.5 796.5 L213.5 797.0 L214.5 795.2 L215.5 795.1 L216.5 795.3 L217.5 795.7 L218.5 796.1 L219.5 796.4 L220.5 795.6 L221.5 796.8 L222.5 794.8 L223.5 796.5 L224.5 795.2 L225.5 796.5 L226.5 794.8 L227.5 796.6 L228.5 796.2 L229.5 796.6 L230.5 795.8 L231.5 794.9 L232.5 796.5 L233.5 795.4 L234.5 794.7 L235.5 795.7 L236.5 795.4 L237.5 795.4 L238.5 794.7 L239.5 794.6 L240.5 795.5 L241.5 795.2 L242.5 794.5 L243.5 795.1 L244.5 795.6 L245.5 795.6 L246.5 795.0 L247.5 794.8 L248.5 794.7 L249.5 794.4 L250.5 794.3 L251.5 794.8 L252.5 794.1 L253.5 795.3 L254.5 795.2 L255.5 794.9 L256.5 793.7 L257.5 794.3 L258.5 794.4 L259.5 793.7 L260.5 795.4 L261.5 794.9 L262.5 794.4 L263.5 794.7 L264.5 793.6 L265.5 793.6 L266.5 794.2 L267.5 794.6 L268.5 794.3 L269.5 793.0 L270.5 794.1 L271.5 794.6 L272.5 794.2 L273.5 794.5 L274.5 794.6 L275.5 793.0 L276.5 793.0 L277.5 793.4 L278.5 794.2 L279.5 792.9 L280.5 793.9 L281.5 793.6 L282.5 792.9 L283.5 793.0 L284.5 793.5 L285.5 793.1 L286.5 792.0 L287.5 792.9 L288.5 791.5 L289.5 791.7 L290.5 792.8 L291.5 792.4 L292.5 791.2 L293.5 791.0 L294.5 791.5 L295.5 791.8 L296.5 791.4 L297.5 791.7 L298.5 791.2 L299.5 791.2 L300.5 790.6 L301.5 789.9 L302.5 789.9 L303.5 789.8 L304.5 789.7 L305.5 790.1 L306.5 788.8 L307.5 788.2 L308.5 789.3 L309.5 788.2 L310.5 788.2 L311.5 787.4 L312.5 788.5 L313.5 787.2 L314.5 786.9 L315.5 787.7 L316.5 786.8 L317.5 786.0 L318.5 786.9 L319.5 785.5 L320.5 785.0 L321.5 785.7 L322.5 784.9 L323.5 784.3 L324.5 782.8 L325.5 783.4 L326.5 782.5 L327.5 782.4 L328.5 781.0 L329.5 781.3 L330.5 780.8 L331.5 779.5 L332.5 779.5 L333.5 779.3 L334.5 779.2 L335.5 778.5 L336.5 777.7 L337.5 775.8 L338.5 776.2 L339.5 775.8 L340.5 774.0 L341.5 774.2 L342.5 774.4 L343.5 773.7 L344.5 772.9 L345.5 770.5 L346.5 770.7 L347.5 770.5 L348.5 769.4 L349.5 768.2 L350.5 767.2 L351.5 768.7 L352.5 768.3 L353.5 767.7 L354.5 767.0 L355.5 767.7 L356.5 767.5 L357.5 767.2 L358.5 766.8 L359.5 766.2 L360.5 766.0 L361.5 766.1 L362.5 765.9 L363.5 766.3 L364.5 765.4 L365.5 766.6 L366.5 765.8 L367.5 765.4 L368.5 765.5 L369.5 765.8 L370.5 765.8 L371.5 766.5 L372.5 765.1 L373.5 765.3 L374.5 765.4 L375.5 765.2 L376.5 766.3 L377.5 765.0 L378.5 764.8 L379.5 765.8 L380.5 766.1 L381.5 766.2 L382.5 765.5 L383.5 765.0 L384.5 766.0 L385.5 765.6 L386.5 765.1 L387.5 765.1 L388.5 765.8 L389.5 765.9 L390.5 765.8 L391.5 764.2 L392.5 764.6 L393.5 764.9 L394.5 764.5 L395.5 765.9 L396.5 764.6 L397.5 766.5 L398.5 766.1 L399.5 766.5 L400.5 766.3 L401.5 767.7 L402.5 767.3 L403.5 768.2 L404.5 768.6 L405.5 768.6 L406.5 769.7 L407.5 769.4 L408.5 769.8 L409.5 771.5 L410.5 771.6 L411.5 771.8 L412.5 773.3 L413.5 773.5 L414.5 773.4 L415.5 775.4 L416.5 775.2 L417.5 776.6 L418.5 776.1 L419.5 777.4 L420.5 776.5 L421.5 776.7 L422.5 777.7 L423.5 778.6 L424.5 779.0 L425.5 778.9 L426.5 778.2 L427.5 778.9 L428.5 778.4 L429.5 779.3 L430.5 780.6 L431.5 779.5 L432.5 780.4 L433.5 780.4 L434.5 779.6 L435.5 780.8 L436.5 779.8 L437.5 780.1 L438.5 781.0 L439.5 780.2 L440.5 781.9 L441.5 780.9 L442.5 781.4 L443.5 782.1 L444.5 780.4 L445.5 782.2 L446.5 780.3 L447.5 781.3 L448.5 781.4 L449.5 782.0 L450.5 780.6 L451.5 781.7 L452.5 781.0 L453.5 780.6 L454.5 779.8 L455.5 779.8 L456.5 779.9 L457.5 779.7 L458.5 779.6 L459.5 780.4 L460.5 779.3 L461.5 779.7 L462.5 778.3 L463.5 778.2 L464.5 779.1 L465.5 779.2 L466.5 777.7 L467.5 776.8 L468.5 776.8 L469.5 776.7 L470.5 776.4 L471.5 776.4 L472.5 775.5 L473.5 775.7 L474.5 775.5 L475.5 775.0 L476.5 774.3 L477.5 773.4 L478.5 772.1 L479.5 772.7 L480.5 771.0 L481.5 771.5 L482.5 770.2 L483.5 770.1 L484.5 769.3 L485.5 769.1 L486.5 768.0 L487.5 768.0 L488.5 767.9 L489.5 766.7 L490.5 766.7 L491.5 766.0 L492.5 765.6 L493.5 765.1 L494.5 765.0 L495.5 765.0 L496.5 763.6 L497.5 763.2 L498.5 764.3 L499.5 762.5 L500.5 763.5 L501.5 763.1 L502.5 761.6 L503.5 762.0 L504.5 760.8 L505.5 761.6 L506.5 759.7 L507.5 758.9 L508.5 758.1 L509.5 758.6 L510.5 756.5 L511.5 755.5 L512.5 755.4 L513.5 753.5 L514.5 751.9 L515.5 749.8 L516.5 747.9 L517.5 744.5 L518.5 743.9 L519.5 740.7 L520.5 739.4 L521.5 736.1 L522.5 734.5 L523.5 730.1 L524.5 729.4 L525.5 725.0 L526.5 723.0 L527.5 720.2 L528.5 718.3 L529.5 714.9 L530.5 712.5 L531.5 709.2 L532.5 705.2 L533.5 702.0 L534.5 699.6 L535.5 698.3 L536.5 696.6 L537.5 694.1 L538.5 692.1 L539.5 691.7 L540.5 691.0 L541.5 689.5 L542.5 689.8 L543.5 688.4 L544.5 687.9 L545.5 688.0 L546.5 689.3 L547.5 690.4 L548.5 690.4 L549.5 691.8 L550.5 693.7 L551.5 694.7 L552.5 698.1 L553.5 701.8 L554.5 704.8 L555.5 707.7 L556.5 712.0 L557.5 715.5 L558.5 717.9 L559.5 722.4 L560.5 725.4 L561.5 729.1 L562.5 732.2 L563.5 734.8 L564.5 738.5 L565.5 740.7 L566.5 744.0 L567.5 745.2 L568.5 747.7 L569.5 750.0 L570.5 752.6 L571.5 754.0 L572.5 756.4 L573.5 758.3 L574.5 760.5 L575.5 761.7 L576.5 763.5 L577.5 764.8 L578.5 765.6 L579.5 767.9 L580.5 768.5 L581.5 768.6 L582.5 769.7 L583.5 770.5 L584.5 772.2 L585.5 772.7 L586.5 772.6 L587.5 774.2 L588.5 774.5 L589.5 774.5 L590.5 775.4 L591.5 777.0 L592.5 775.9 L593.5 776.5 L594.5 777.7 L595.5 778.7 L596.5 779.2 L597.5 778.6 L598.5 779.7 L599.5 778.8 L600.5 779.6 L601.5 780.9 L602.5 780.8 L603.5 780.6 L604.5 781.1 L605.5 781.2 L606.5 781.5 L607.5 782.4 L608.5 782.8 L609.5 781.5 L610.5 782.8 L611.5 783.4 L612.5 782.9 L613.5 782.8 L614.5 782.7 L615.5 783.1 L616.5 783.5 L617.5 783.7 L618.5 782.8 L619.5 784.8 L620.5 783.5 L621.5 784.1 L622.5 783.6 L623.5 784.6 L624.5 783.6 L625.5 784.3 L626.5 784.5 L627.5 784.5 L628.5 785.0 L629.5 784.5 L630.5 785.3 L631.5 786.0 L632.5 785.8 L633.5 786.6 L634.5 786.7 L635.5 785.9 L636.5 786.0 L637.5 786.7 L638.5 787.0 L639.5 786.4 L640.5 786.8 L641.5 786.9 L642.5 786.6 L643.5 786.7 L644.5 786.5 L645.5 786.6 L646.5 786.7 L647.5 787.4 L648.5 786.1 L649.5 786.0 L650.5 787.6 L651.5 786.8 L652.5 787.2 L653.5 787.6 L654.5 787.3 L655.5 786.9 L656.5 787.7 L657.5 787.0 L658.5 786.7 L659.5 786.2 L660.5 786.1 L661.5 787.4 L662.5 787.6 L663.5 786.5 L664.5 786.9 L665.5 787.2 L666.5 787.0 L667.5 786.4 L668.5 787.6 L669.5 786.9 L670.5 787.2 L671.5 787.2 L672.5 786.7 L673.5 787.2 L674.5 786.2 L675.5 786.9 L676.5 787.1 L677.5 787.1 L678.5 786.4 L679.5 786.2 L680.5 786.0 L681.5 786.0 L682.5 786.2 L683.5 786.8 L684.5 786.9 L685.5 787.2 L686.5 786.7 L687.5 787.3 L688.5 785.9 L689.5 786.5 L690.5 786.0 L691.5 786.8 L692.5 787.0 L693.5 787.0 L694.5 786.7 L695.5 786.6 L696.5 786.5 L697.5 786.1 L698.5 786.2 L699.5 786.8 L700.5 787.0 L701.5 786.1 L702.5 787.6 L703.5 786.0 L704.5 786.2 L705.5 786.8 L706.5 786.6 L707.5 787.0 L708.5 787.3 L709.5 787.2 L710.5 787.6 L711.5 786.9 L712.5 787.4 L713.5 786.9 L714.5 786.3 L715.5 786.2 L716.5 786.5 L717.5 787.0 L718.5 786.7 L719.5 787.3 L720.5 787.5 L721.5 788.0 L722.5 786.5 L723.5 788.1 L724.5 786.3 L725.5 788.0 L726.5 788.3 L727.5 787.0 L728.5 787.9 L729.5 787.4 L730.5 787.5 L731.5 788.1 L732.5 788.3 L733.5 787.0 L734.5 786.9 L735.5 788.3 L736.5 787.7 L737.5 788.4 L738.5 787.1 L739.5 788.4 L740.5 787.1 L741.5 787.1 L742.5 787.4 L743.5 788.8 L744.5 787.8 L745.5 787.9 L746.5 787.7 L747.5 787.3 L748.5 788.1 L749.5 788.3 L750.5 788.1 L751.5 788.9 L752.5 788.2 L753.5 789.6 L754.5 789.5 L755.5 788.9 L756.5 788.0 L757.5 789.0 L758.5 789.2 L759.5 789.3 L760.5 788.9 L761.5 789.6 L762.5 790.2 L763.5 789.6 L764.5 788.4 L765.5 789.6 L766.5 789.6 L767.5 789.5 L768.5 790.3 L769.5 788.6 L770.5 788.6 L771.5 790.0 L772.5 788.8 L773.5 788.9 L774.5 790.2 L775.5 789.3 L776.5 790.4 L777.5 790.2 L778.5 789.9 L779.5 789.3 L780.5 788.7 L781.5 790.4 L782.5 790.2 L783.5 790.2 L784.5 789.3 L785.5 788.8 L786.5 789.4 L787.5 788.9 L788.5 788.4 L789.5 788.1 L790.5 788.6 L791.5 788.0 L792.5 788.2 L793.5 789.5 L794.5 789.3 L795.5 789.1 L796.5 788.2 L797.5 788.6 L798.5 787.3 L799.5 788.1 L800.5 788.6 L801.5 788.0 L802.5 788.2 L803.5 787.2 L804.5 786.3 L805.5 785.4 L806.5 785.6 L807.5 786.5 L808.5 785.6 L809.5 785.5 L810.5 785.5 L811.5 784.2 L812.5 783.6 L813.5 784.8 L814.5 784.0 L815.5 782.6 L816.5 783.8 L817.5 783.6 L818.5 783.5 L819.5 782.0 L820.5 782.1 L821.5 782.8 L822.5 782.5 L823.5 781.7 L824.5 782.7 L825.5 781.1 L826.5 782.1 L827.5 780.3 L828.5 780.6 L829.5 781.3 L830.5 780.2 L831.5 779.7 L832.5 779.4 L833.5 778.4 L834.5 777.9 L835.5 778.3 L836.5 777.7 L837.5 779.0 L838.5 779.2 L839.5 778.5 L840.5 779.9 L841.5 781.9 L842.5 781.1 L843.5 781.4 L844.5 782.9 L845.5 783.4 L846.5 784.3 L847.5 784.6 L848.5 784.2 L849.5 784.6 L850.5 784.5 L851.5 785.4 L852.5 785.3 L853.5 784.4 L854.5 785.5 L855.5 784.5 L856.5 785.3 L857.5 785.4 L858.5 786.7 L859.5 785.4 L860.5 785.8 L861.5 786.3 L862.5 785.7 L863.5 786.3 L864.5 786.0 L865.5 787.0 L866.5 787.2 L867.5 786.9 L868.5 787.5 L869.5 786.8 L870.5 787.4 L871.5 786.2 L872.5 786.9 L873.5 786.8 L874.5 788.0 L875.5 787.3 L876.5 787.1 L877.5 787.7 L878.5 788.4 L879.5 788.2 L880.5 788.2 L881.5 788.0 L882.5 788.3 L883.5 787.9 L884.5 787.6 L885.5 787.5 L886.5 787.4 L887.5 787.6 L888.5 788.0 L889.5 788.7 L890.5 787.5 L891.5 787.9 L892.5 787.7 L893.5 788.1 L894.5 787.3 L895.5 788.5 L896.5 789.0 L897.5 789.1 L898.5 788.1 L899.5 787.7 L900.5 788.9 L901.5 789.0 L902.5 787.9 L903.5 787.6 L904.5 788.9 L905.5 788.3 L906.5 788.7 L907.5 788.8 L908.5 789.4 L909.5 788.0 L910.5 788.3 L911.5 787.8 L912.5 789.2 L913.5 788.0 L914.5 789.6 L915.5 789.1 L916.5 789.0 L917.5 788.5 L918.5 789.7 L919.5 788.2 L920.5 789.2 L921.5 789.7 L922.5 789.4 L923.5 788.2 L924.5 788.4 L925.5 788.8 L926.5 789.7 L927.5 788.5 L928.5 790.2 L929.5 790.1 L930.5 789.5 L931.5 790.1 L932.5 789.6 L933.5 788.7 L934.5 789.2 L935.5 788.5 L936.5 789.3 L937.5 790.5 L938.5 789.3 L939.5 789.9 L940.5 789.3 L941.5 789.9 L942.5 789.3 L943.5 790.4 L944.5 789.5 L945.5 789.2 L946.5 789.5 L947.5 788.8 L948.5 789.4 L949.5 790.2 L950.5 789.6 L951.5 789.7 L952.5 789.2 L953.5 790.4 L954.5 790.6 L955.5 789.6 L956.5 788.8 L957.5 789.7 L958.5 790.6 L959.5 790.2 L960.5 789.3 L961.5 789.1 L962.5 790.6 L963.5 789.0 L964.5 790.1 L965.5 790.1 L966.5 789.3 L967.5 789.8 L968.5 790.6 L969.5 790.9 L970.5 789.0 L971.5 789.0 L972.5 789.4 L973.5 789.0 L974.5 790.7 L975.5 789.0 L976.5 789.6 L977.5 790.6 L978.5 789.8 L979.5 789.3 L980.5 789.0 L981.5 789.3 L982.5 789.4 L983.5 790.5 L984.5 789.7 L985.5 789.9 L986.5 789.3 L987.5 789.6 L988.5 790.6 L989.5 788.9 L990.5 790.1 L991.5 789.3 L992.5 789.5 L993.5 790.1 L994.5 789.3 L995.5 789.6 L996.5 789.6 L997.5 789.6 L998.5 788.7 L999.5 789.3 L1000.5 789.3 L1001.5 789.4 L1002.5 789.1 L1003.5 789.4 L1004.5 790.0 L1005.5 788.6 L1006.5 788.6 L1007.5 789.5 L1008.5 789.6 L1009.5 790.0 L1010.5 788.5 L1011.5 788.4 L1012.5 789.6 L1013.5 788.8 L1014.5 789.4 L1015.5 789.0 L1016.5 788.6 L1017.5 789.5 L1018.5 789.0 L1019.5 789.4 L1020.5 790.2 L1021.5 789.4 L1022.5 790.2 L1023.5 789.2 L1024.5 789.0 L1025.5 789.5 L1026.5 789.4 L1027.5 790.3 L1028.5 789.2 L1029.5 790.5 L1030.5 789.5 L1031.5 790.0 L1032.5 789.7 L1033.5 789.6 L1034.5 789.7 L1035.5 791.5 L1036.5 789.8 L1037.5 791.6 L1038.5 790.7 L1039.5 791.6 L1040.5 790.3 L1041.5 791.2 L1042.5 791.5 L1043.5 790.8 L1044.5 791.5 L1045.5 792.1 L1046.5 791.2 L1047.5 790.5 L1048.5 791.7 L1049.5 792.0 L1050.5 791.4 L1051.5 792.2 L1052.5 791.2 L1053.5 791.4 L1054.5 791.3 L1055.5 790.7 L1056.5 790.6 L1057.5 791.7 L1058.5 792.2 L1059.5 790.7 L1060.5 792.1 L1061.5 790.9 L1062.5 791.0 L1063.5 790.2 L1064.5 790.1 L1065.5 791.2 L1066.5 791.8 L1067.5 791.2 L1068.5 790.1 L1069.5 791.1 L1070.5 790.0 L1071.5 790.6 L1072.5 791.1 L1073.5 790.4 L1074.5 790.2 L1075.5 790.1 L1076.5 790.0 L1077.5 789.4 L1078.5 790.8 L1079.5 790.1 L1080.5 789.6 L1081.5 789.8 L1082.5 789.3 L1083.5 790.1 L1084.5 790.3 L1085.5 790.4 L1086.5 790.0 L1087.5 791.1 L1088.5 789.4 L1089.5 789.5 L1090.5 790.2 L1091.5 789.9 L1092.5 789.7 L1093.5 790.6 L1094.5 790.2 L1095.5 790.3 L1096.5 790.6 L1097.5 790.1 L1098.5 790.3 L1099.5 791.2 L1100.5 789.6 L1101.5 790.2 L1102.5 790.6 L1103.5 790.9 L1104.5 789.6 L1105.5 789.7 L1106.5 790.0 L1107.5 790.8 L1108.5 790.0 L1109.5 789.7 L1110.5 790.5 L1111.5 790.0 L1112.5 791.1 L1113.5 791.6 L1114.5 791.3 L1115.5 790.9 L1116.5 790.7 L1117.5 789.9 L1118.5 790.8 L1119.5 791.0 L1120.5 790.6 L1121.5 790.9 L1122.5 792.0 L1123.5 790.9 L1124.5 790.7 L1125.5 791.1 L1126.5 792.1 L1127.5 790.4 L1128.5 791.2 L1129.5 792.3 L1130.5 791.4 L1131.5 791.1 L1132.5 791.1 L1133.5 791.9 L1134.5 790.8 L1135.5 792.4 L1136.5 792.0 L1137.5 792.4 L1138.5 791.0 L1139.5 790.7 L1140.5 791.3 L1141.5 791.7 L1142.5 791.8 L1143.5 792.0 L1144.5 790.9 L1145.5 792.7 L1146.5 791.2 L1147.5 791.3 L1148.5 791.2 L1149.5 791.7 L1150.5 791.3 L1151.5 792.4 L1152.5 791.7 L1153.5 791.3 L1154.5 791.8 L1155.5 792.8 L1156.5 792.2 L1157.5 791.3 L1158.5 792.4 L1159.5 792.2 L1160.5 792.3 L1161.5 792.8 L1162.5 791.6 L1163.5 792.8 L1164.5 792.9 L1165.5 793.2 L1166.5 792.2 L1167.5 791.9 L1168.5 792.9 L1169.5 793.5 L1170.5 793.5 L1171.5 792.8 L1172.5 792.3 L1173.5 793.5 L1174.5 792.0 L1175.5 793.0 L1176.5 793.5 L1177.5 792.9 L1178.5 793.3 L1179.5 792.7 L1180.5 793.3 L1181.5 792.3 L1182.5 793.3 L1183.5 792.3 L1184.5 792.4 L1185.5 792.3 L1186.5 792.7 L1187.5 792.1 L1188.5 793.6 L1189.5 794.0 L1190.5 793.9 L1191.5 792.4 L1192.5 793.3 L1193.5 792.6 L1194.5 793.5 L1195.5 792.4 L1196.5 794.4 L1197.5 793.4 L1198.5 792.9 L1199.5 793.4 L1200.5 793.2 L1201.5 793.6 L1202.5 793.5 L1203.5 794.7 L1204.5 793.4 L1205.5 792.9 L1206.5 793.9 L1207.5 793.8 L1208.5 793.6 L1209.5 794.9 L1210.5 794.7 L1211.5 793.8 L1212.5 793.3 L1213.5 794.9" fill="none" stroke="#FF3838" stroke-width="2.3" stroke-linejoin="round" shape-rendering="crispEdges"/><path d="M115.5 669.0 L117.5 669.0 L119.5 669.1 L121.5 669.2 L123.5 669.2 L125.5 669.3 L127.5 669.3 L129.5 669.4 L131.5 669.4 L133.5 669.5 L135.5 669.6 L137.5 669.6 L139.5 669.7 L141.5 669.7 L143.5 669.8 L145.5 669.9 L147.5 669.9 L149.5 670.0 L151.5 670.0 L153.5 670.1 L155.5 670.1 L157.5 670.1 L159.5 670.2 L161.5 670.2 L163.5 670.2 L165.5 670.3 L167.5 670.3 L169.5 670.3 L171.5 670.3 L173.5 670.3 L175.5 670.3 L177.5 670.3 L179.5 670.3 L181.5 670.3 L183.5 670.3 L185.5 670.3 L187.5 670.3 L189.5 670.3 L191.5 670.3 L193.5 670.3 L195.5 670.3 L197.5 670.2 L199.5 670.2 L201.5 670.2 L203.5 670.2 L205.5 670.2 L207.5 670.2 L209.5 670.2 L211.5 670.2 L213.5 670.2 L215.5 670.1 L217.5 670.1 L219.5 670.1 L221.5 670.1 L223.5 670.1 L225.5 670.1 L227.5 670.1 L229.5 670.0 L231.5 670.0 L233.5 670.0 L235.5 670.0 L237.5 670.0 L239.5 669.9 L241.5 669.9 L243.5 669.8 L245.5 669.8 L247.5 669.7 L249.5 669.7 L251.5 669.6 L253.5 669.5 L255.5 669.4 L257.5 669.3 L259.5 669.2 L261.5 669.1 L263.5 669.0 L265.5 668.9 L267.5 668.8 L269.5 668.7 L271.5 668.6 L273.5 668.5 L275.5 668.3 L277.5 668.2 L279.5 668.1 L281.5 668.0 L283.5 667.8 L285.5 667.7 L287.5 667.6 L289.5 667.4 L291.5 667.3 L293.5 667.1 L295.5 666.9 L297.5 666.7 L299.5 666.5 L301.5 666.3 L303.5 666.1 L305.5 665.8 L307.5 665.5 L309.5 665.2 L311.5 664.9 L313.5 664.5 L315.5 664.0 L317.5 663.4 L319.5 662.8 L321.5 662.1 L323.5 661.3 L325.5 660.2 L327.5 658.6 L329.5 656.7 L331.5 654.6 L333.5 652.7 L335.5 650.8 L337.5 648.8 L339.5 646.7 L341.5 644.7 L343.5 642.9 L345.5 641.6 L347.5 640.7 L349.5 639.8 L351.5 639.1 L353.5 638.4 L355.5 638.0 L357.5 637.9 L359.5 638.3 L361.5 639.3 L363.5 640.6 L365.5 642.0 L367.5 643.2 L369.5 644.1 L371.5 645.0 L373.5 645.8 L375.5 646.4 L377.5 646.6 L379.5 646.1 L381.5 645.2 L383.5 644.0 L385.5 643.1 L387.5 642.4 L389.5 641.8 L391.5 641.3 L393.5 640.9 L395.5 640.7 L397.5 640.8 L399.5 641.3 L401.5 642.1 L403.5 642.9 L405.5 644.1 L407.5 645.8 L409.5 647.9 L411.5 650.2 L413.5 652.4 L415.5 654.3 L417.5 655.7 L419.5 656.5 L421.5 657.3 L423.5 658.0 L425.5 658.6 L427.5 659.1 L429.5 659.5 L431.5 659.7 L433.5 659.8 L435.5 659.8 L437.5 659.8 L439.5 659.8 L441.5 659.8 L443.5 659.8 L445.5 659.8 L447.5 659.8 L449.5 659.7 L451.5 659.6 L453.5 659.4 L455.5 659.2 L457.5 659.0 L459.5 658.7 L461.5 658.5 L463.5 658.2 L465.5 657.8 L467.5 657.4 L469.5 656.8 L471.5 656.0 L473.5 655.1 L475.5 653.8 L477.5 652.0 L479.5 650.0 L481.5 648.1 L483.5 646.8 L485.5 646.0 L487.5 645.2 L489.5 644.6 L491.5 644.3 L493.5 644.2 L495.5 644.5 L497.5 644.9 L499.5 645.3 L501.5 645.5 L503.5 645.5 L505.5 645.4 L507.5 645.2 L509.5 645.0 L511.5 644.7 L513.5 643.4 L515.5 640.9 L517.5 637.9 L519.5 634.8 L521.5 631.3 L523.5 627.0 L525.5 621.9 L527.5 615.5 L529.5 608.9 L531.5 601.7 L533.5 591.8 L535.5 580.5 L537.5 570.0 L539.5 560.6 L541.5 552.3 L543.5 543.6 L545.5 539.5 L547.5 539.5 L549.5 541.1 L551.5 546.3 L553.5 553.7 L555.5 564.3 L557.5 576.7 L559.5 587.9 L561.5 598.3 L563.5 607.9 L565.5 616.7 L567.5 624.4 L569.5 631.0 L571.5 636.5 L573.5 640.4 L575.5 643.7 L577.5 646.0 L579.5 647.9 L581.5 649.4 L583.5 650.7 L585.5 651.7 L587.5 652.6 L589.5 653.4 L591.5 654.2 L593.5 654.8 L595.5 655.4 L597.5 655.9 L599.5 656.3 L601.5 656.7 L603.5 657.1 L605.5 657.4 L607.5 657.8 L609.5 658.1 L611.5 658.4 L613.5 658.6 L615.5 658.9 L617.5 659.1 L619.5 659.3 L621.5 659.6 L623.5 659.8 L625.5 660.0 L627.5 660.2 L629.5 660.5 L631.5 660.7 L633.5 660.9 L635.5 661.1 L637.5 661.3 L639.5 661.4 L641.5 661.6 L643.5 661.7 L645.5 661.8 L647.5 661.8 L649.5 661.8 L651.5 661.7 L653.5 661.6 L655.5 661.4 L657.5 661.2 L659.5 660.9 L661.5 660.7 L663.5 660.4 L665.5 660.2 L667.5 660.0 L669.5 659.8 L671.5 659.7 L673.5 659.6 L675.5 659.6 L677.5 659.6 L679.5 659.6 L681.5 659.6 L683.5 659.7 L685.5 659.7 L687.5 659.8 L689.5 659.8 L691.5 659.8 L693.5 659.9 L695.5 659.9 L697.5 660.0 L699.5 660.0 L701.5 660.1 L703.5 660.2 L705.5 660.2 L707.5 660.3 L709.5 660.3 L711.5 660.3 L713.5 660.4 L715.5 660.4 L717.5 660.5 L719.5 660.5 L721.5 660.5 L723.5 660.6 L725.5 660.6 L727.5 660.6 L729.5 660.7 L731.5 660.7 L733.5 660.8 L735.5 660.8 L737.5 660.9 L739.5 660.9 L741.5 661.0 L743.5 661.0 L745.5 661.1 L747.5 661.1 L749.5 661.2 L751.5 661.3 L753.5 661.4 L755.5 661.6 L757.5 661.8 L759.5 662.0 L761.5 662.2 L763.5 662.4 L765.5 662.6 L767.5 662.8 L769.5 663.0 L771.5 663.2 L773.5 663.4 L775.5 663.5 L777.5 663.6 L779.5 663.6 L781.5 663.6 L783.5 663.6 L785.5 663.5 L787.5 663.5 L789.5 663.4 L791.5 663.3 L793.5 663.2 L795.5 663.0 L797.5 662.9 L799.5 662.6 L801.5 661.9 L803.5 661.1 L805.5 660.1 L807.5 659.0 L809.5 658.0 L811.5 657.0 L813.5 655.9 L815.5 654.7 L817.5 653.6 L819.5 653.0 L821.5 652.6 L823.5 652.4 L825.5 652.2 L827.5 652.0 L829.5 651.7 L831.5 651.0 L833.5 649.7 L835.5 648.7 L837.5 649.3 L839.5 651.2 L841.5 653.5 L843.5 655.2 L845.5 656.0 L847.5 656.8 L849.5 657.5 L851.5 658.1 L853.5 658.6 L855.5 659.0 L857.5 659.4 L859.5 659.7 L861.5 659.9 L863.5 660.2 L865.5 660.4 L867.5 660.6 L869.5 660.8 L871.5 661.0 L873.5 661.2 L875.5 661.4 L877.5 661.5 L879.5 661.7 L881.5 661.8 L883.5 661.9 L885.5 662.1 L887.5 662.2 L889.5 662.3 L891.5 662.4 L893.5 662.5 L895.5 662.6 L897.5 662.7 L899.5 662.8 L901.5 662.9 L903.5 663.0 L905.5 663.0 L907.5 663.1 L909.5 663.2 L911.5 663.3 L913.5 663.4 L915.5 663.5 L917.5 663.6 L919.5 663.7 L921.5 663.7 L923.5 663.8 L925.5 663.9 L927.5 664.0 L929.5 664.0 L931.5 664.1 L933.5 664.2 L935.5 664.3 L937.5 664.3 L939.5 664.4 L941.5 664.4 L943.5 664.5 L945.5 664.6 L947.5 664.6 L949.5 664.7 L951.5 664.7 L953.5 664.7 L955.5 664.8 L957.5 664.8 L959.5 664.8 L961.5 664.9 L963.5 664.9 L965.5 664.9 L967.5 664.9 L969.5 664.9 L971.5 664.9 L973.5 664.9 L975.5 664.8 L977.5 664.7 L979.5 664.6 L981.5 664.5 L983.5 664.4 L985.5 664.3 L987.5 664.1 L989.5 664.0 L991.5 663.8 L993.5 663.7 L995.5 663.5 L997.5 663.4 L999.5 663.3 L1001.5 663.1 L1003.5 663.0 L1005.5 663.0 L1007.5 662.9 L1009.5 662.8 L1011.5 662.8 L1013.5 662.8 L1015.5 662.8 L1017.5 662.9 L1019.5 662.9 L1021.5 663.0 L1023.5 663.1 L1025.5 663.2 L1027.5 663.4 L1029.5 663.5 L1031.5 663.6 L1033.5 663.8 L1035.5 663.9 L1037.5 664.1 L1039.5 664.2 L1041.5 664.4 L1043.5 664.5 L1045.5 664.6 L1047.5 664.7 L1049.5 664.8 L1051.5 664.9 L1053.5 665.0 L1055.5 665.1 L1057.5 665.1 L1059.5 665.1 L1061.5 665.1 L1063.5 665.0 L1065.5 664.9 L1067.5 664.7 L1069.5 664.6 L1071.5 664.4 L1073.5 664.2 L1075.5 664.0 L1077.5 663.8 L1079.5 663.6 L1081.5 663.5 L1083.5 663.4 L1085.5 663.3 L1087.5 663.3 L1089.5 663.3 L1091.5 663.3 L1093.5 663.3 L1095.5 663.4 L1097.5 663.4 L1099.5 663.5 L1101.5 663.5 L1103.5 663.6 L1105.5 663.6 L1107.5 663.7 L1109.5 663.8 L1111.5 663.8 L1113.5 663.9 L1115.5 664.0 L1117.5 664.1 L1119.5 664.1 L1121.5 664.2 L1123.5 664.3 L1125.5 664.4 L1127.5 664.5 L1129.5 664.5 L1131.5 664.6 L1133.5 664.7 L1135.5 664.7 L1137.5 664.8 L1139.5 664.9 L1141.5 665.0 L1143.5 665.0 L1145.5 665.1 L1147.5 665.2 L1149.5 665.3 L1151.5 665.4 L1153.5 665.5 L1155.5 665.6 L1157.5 665.6 L1159.5 665.7 L1161.5 665.8 L1163.5 665.9 L1165.5 666.0 L1167.5 666.0 L1169.5 666.1 L1171.5 666.2 L1173.5 666.3 L1175.5 666.3 L1177.5 666.4 L1179.5 666.5 L1181.5 666.5 L1183.5 666.6 L1185.5 666.6 L1187.5 666.7 L1189.5 666.7 L1191.5 666.8 L1193.5 666.8 L1195.5 666.8 L1197.5 666.9 L1199.5 666.9 L1201.5 667.0 L1203.5 667.0 L1205.5 667.0 L1207.5 667.1 L1209.5 667.1 L1211.5 667.2 L1213.5 667.2" fill="none" stroke="#006CE0" stroke-width="2.5" stroke-linejoin="round" shape-rendering="crispEdges"/><path d="M115.5 668.9 L116.5 668.8 L117.5 668.3 L118.5 669.8 L119.5 668.1 L120.5 669.1 L121.5 669.9 L122.5 668.3 L123.5 669.3 L124.5 669.5 L125.5 668.3 L126.5 669.0 L127.5 669.7 L128.5 669.3 L129.5 669.8 L130.5 668.7 L131.5 668.9 L132.5 668.7 L133.5 669.5 L134.5 670.4 L135.5 669.7 L136.5 670.1 L137.5 669.4 L138.5 670.1 L139.5 668.9 L140.5 669.3 L141.5 670.1 L142.5 670.2 L143.5 669.6 L144.5 669.0 L145.5 669.4 L146.5 669.3 L147.5 669.5 L148.5 670.6 L149.5 669.4 L150.5 670.8 L151.5 670.8 L152.5 669.2 L153.5 669.8 L154.5 670.1 L155.5 669.2 L156.5 670.0 L157.5 671.0 L158.5 669.4 L159.5 670.4 L160.5 669.4 L161.5 670.4 L162.5 671.0 L163.5 669.6 L164.5 669.3 L165.5 669.4 L166.5 670.4 L167.5 669.3 L168.5 669.5 L169.5 670.3 L170.5 671.1 L171.5 670.1 L172.5 670.1 L173.5 670.6 L174.5 669.5 L175.5 670.5 L176.5 669.6 L177.5 670.5 L178.5 671.2 L179.5 669.4 L180.5 670.4 L181.5 670.5 L182.5 669.6 L183.5 669.8 L184.5 671.3 L185.5 671.3 L186.5 669.5 L187.5 670.7 L188.5 671.2 L189.5 669.7 L190.5 670.5 L191.5 669.4 L192.5 670.0 L193.5 670.6 L194.5 670.4 L195.5 670.8 L196.5 669.4 L197.5 669.9 L198.5 671.0 L199.5 670.4 L200.5 670.1 L201.5 670.0 L202.5 671.2 L203.5 670.4 L204.5 669.3 L205.5 670.8 L206.5 669.9 L207.5 670.1 L208.5 669.6 L209.5 670.1 L210.5 669.8 L211.5 669.4 L212.5 670.4 L213.5 669.4 L214.5 670.7 L215.5 669.2 L216.5 670.7 L217.5 670.7 L218.5 670.1 L219.5 670.5 L220.5 669.6 L221.5 670.6 L222.5 669.9 L223.5 669.6 L224.5 671.0 L225.5 669.9 L226.5 669.8 L227.5 670.8 L228.5 669.8 L229.5 670.4 L230.5 669.4 L231.5 670.7 L232.5 669.5 L233.5 669.1 L234.5 670.9 L235.5 669.3 L236.5 670.9 L237.5 670.9 L238.5 670.2 L239.5 669.0 L240.5 669.0 L241.5 669.3 L242.5 669.6 L243.5 670.1 L244.5 670.7 L245.5 669.5 L246.5 669.0 L247.5 669.8 L248.5 669.0 L249.5 668.8 L250.5 669.7 L251.5 670.0 L252.5 668.7 L253.5 669.4 L254.5 669.9 L255.5 669.9 L256.5 669.1 L257.5 670.1 L258.5 668.6 L259.5 669.7 L260.5 669.7 L261.5 669.9 L262.5 669.1 L263.5 668.2 L264.5 668.1 L265.5 669.0 L266.5 668.2 L267.5 669.1 L268.5 667.9 L269.5 669.3 L270.5 668.1 L271.5 667.6 L272.5 667.9 L273.5 668.4 L274.5 668.5 L275.5 668.1 L276.5 667.6 L277.5 668.2 L278.5 669.0 L279.5 668.2 L280.5 668.9 L281.5 667.0 L282.5 668.9 L283.5 668.6 L284.5 667.9 L285.5 667.8 L286.5 667.7 L287.5 668.4 L288.5 666.6 L289.5 667.7 L290.5 667.4 L291.5 666.9 L292.5 667.6 L293.5 667.5 L294.5 666.2 L295.5 667.3 L296.5 666.7 L297.5 666.7 L298.5 666.9 L299.5 665.6 L300.5 666.6 L301.5 666.1 L302.5 666.9 L303.5 665.5 L304.5 666.6 L305.5 666.3 L306.5 665.9 L307.5 666.3 L308.5 664.4 L309.5 665.4 L310.5 665.3 L311.5 665.2 L312.5 664.5 L313.5 663.6 L314.5 663.6 L315.5 664.2 L316.5 663.1 L317.5 662.6 L318.5 662.8 L319.5 662.7 L320.5 662.5 L321.5 661.1 L322.5 662.2 L323.5 660.9 L324.5 661.4 L325.5 659.2 L326.5 660.3 L327.5 658.8 L328.5 658.6 L329.5 657.6 L330.5 656.3 L331.5 653.8 L332.5 653.3 L333.5 652.1 L334.5 652.3 L335.5 650.2 L336.5 649.2 L337.5 648.0 L338.5 646.9 L339.5 647.5 L340.5 646.6 L341.5 644.4 L342.5 644.3 L343.5 642.9 L344.5 642.3 L345.5 641.3 L346.5 641.4 L347.5 640.1 L348.5 639.7 L349.5 639.9 L350.5 638.8 L351.5 638.9 L352.5 639.6 L353.5 637.5 L354.5 637.4 L355.5 638.6 L356.5 637.0 L357.5 637.4 L358.5 638.7 L359.5 638.5 L360.5 638.2 L361.5 638.4 L362.5 639.5 L363.5 640.2 L364.5 641.9 L365.5 642.9 L366.5 643.2 L367.5 644.0 L368.5 644.5 L369.5 644.8 L370.5 645.4 L371.5 645.9 L372.5 644.6 L373.5 645.4 L374.5 645.6 L375.5 646.6 L376.5 646.5 L377.5 646.3 L378.5 647.1 L379.5 645.9 L380.5 645.1 L381.5 644.7 L382.5 644.5 L383.5 644.2 L384.5 643.6 L385.5 642.9 L386.5 642.1 L387.5 642.3 L388.5 641.8 L389.5 641.2 L390.5 641.7 L391.5 640.7 L392.5 641.5 L393.5 641.2 L394.5 640.1 L395.5 641.0 L396.5 640.4 L397.5 640.7 L398.5 641.3 L399.5 641.8 L400.5 642.4 L401.5 642.5 L402.5 641.9 L403.5 643.0 L404.5 643.1 L405.5 643.1 L406.5 645.0 L407.5 645.8 L408.5 647.6 L409.5 647.6 L410.5 649.7 L411.5 650.2 L412.5 650.5 L413.5 652.8 L414.5 652.9 L415.5 654.3 L416.5 654.2 L417.5 654.7 L418.5 657.0 L419.5 655.6 L420.5 656.2 L421.5 656.6 L422.5 656.8 L423.5 658.6 L424.5 659.3 L425.5 658.9 L426.5 658.6 L427.5 659.9 L428.5 659.3 L429.5 658.8 L430.5 660.0 L431.5 659.4 L432.5 659.3 L433.5 659.4 L434.5 659.6 L435.5 659.2 L436.5 660.0 L437.5 660.5 L438.5 659.9 L439.5 658.8 L440.5 660.2 L441.5 658.8 L442.5 659.8 L443.5 660.5 L444.5 660.2 L445.5 660.6 L446.5 660.3 L447.5 659.3 L448.5 659.0 L449.5 659.6 L450.5 660.0 L451.5 659.0 L452.5 659.2 L453.5 659.9 L454.5 659.0 L455.5 659.4 L456.5 659.2 L457.5 659.9 L458.5 657.9 L459.5 658.1 L460.5 659.2 L461.5 658.8 L462.5 657.5 L463.5 657.4 L464.5 657.4 L465.5 657.9 L466.5 658.5 L467.5 656.9 L468.5 656.6 L469.5 657.2 L470.5 656.3 L471.5 656.7 L472.5 656.5 L473.5 655.9 L474.5 655.0 L475.5 653.8 L476.5 652.1 L477.5 652.6 L478.5 650.8 L479.5 649.9 L480.5 649.2 L481.5 649.0 L482.5 647.5 L483.5 647.6 L484.5 647.3 L485.5 645.1 L486.5 645.3 L487.5 646.0 L488.5 645.4 L489.5 645.6 L490.5 643.8 L491.5 644.3 L492.5 645.1 L493.5 644.3 L494.5 644.7 L495.5 645.4 L496.5 644.0 L497.5 644.0 L498.5 645.8 L499.5 645.4 L500.5 644.8 L501.5 646.2 L502.5 645.1 L503.5 644.7 L504.5 645.0 L505.5 644.5 L506.5 645.1 L507.5 645.8 L508.5 645.0 L509.5 645.9 L510.5 644.0 L511.5 644.1 L512.5 643.5 L513.5 643.5 L514.5 641.6 L515.5 641.2 L516.5 639.5 L517.5 638.1 L518.5 637.0 L519.5 635.4 L520.5 634.0 L521.5 630.6 L522.5 629.0 L523.5 627.9 L524.5 624.4 L525.5 621.4 L526.5 618.8 L527.5 614.9 L528.5 612.9 L529.5 609.2 L530.5 604.6 L531.5 602.6 L532.5 597.3 L533.5 591.3 L534.5 586.2 L535.5 581.4 L536.5 574.9 L537.5 569.1 L538.5 564.6 L539.5 559.7 L540.5 556.4 L541.5 551.9 L542.5 548.7 L543.5 543.0 L544.5 539.5 L545.5 539.4 L546.5 538.7 L547.5 539.1 L548.5 539.1 L549.5 540.5 L550.5 543.7 L551.5 547.1 L552.5 549.1 L553.5 554.0 L554.5 558.3 L555.5 565.2 L556.5 570.8 L557.5 575.8 L558.5 582.9 L559.5 587.3 L560.5 592.3 L561.5 597.3 L562.5 603.9 L563.5 608.4 L564.5 612.1 L565.5 616.8 L566.5 621.1 L567.5 623.6 L568.5 628.2 L569.5 631.5 L570.5 634.8 L571.5 635.6 L572.5 638.7 L573.5 640.5 L574.5 642.8 L575.5 643.4 L576.5 645.3 L577.5 646.8 L578.5 646.7 L579.5 647.9 L580.5 649.4 L581.5 648.5 L582.5 651.0 L583.5 650.3 L584.5 651.1 L585.5 651.3 L586.5 652.8 L587.5 652.7 L588.5 653.5 L589.5 652.6 L590.5 654.6 L591.5 654.8 L592.5 654.9 L593.5 654.3 L594.5 654.6 L595.5 655.3 L596.5 654.8 L597.5 656.8 L598.5 655.9 L599.5 657.2 L600.5 655.9 L601.5 657.0 L602.5 657.5 L603.5 657.4 L604.5 657.1 L605.5 656.5 L606.5 657.5 L607.5 657.5 L608.5 658.8 L609.5 659.0 L610.5 659.1 L611.5 659.3 L612.5 657.8 L613.5 657.7 L614.5 658.3 L615.5 657.9 L616.5 658.2 L617.5 659.3 L618.5 658.6 L619.5 659.6 L620.5 659.2 L621.5 659.1 L622.5 660.6 L623.5 659.1 L624.5 660.7 L625.5 660.1 L626.5 660.4 L627.5 659.5 L628.5 660.8 L629.5 661.2 L630.5 660.0 L631.5 660.6 L632.5 661.1 L633.5 660.8 L634.5 661.5 L635.5 661.4 L636.5 660.8 L637.5 661.6 L638.5 661.9 L639.5 661.4 L640.5 661.7 L641.5 661.8 L642.5 661.6 L643.5 660.9 L644.5 661.5 L645.5 662.3 L646.5 662.2 L647.5 660.9 L648.5 661.8 L649.5 662.0 L650.5 661.8 L651.5 661.0 L652.5 661.9 L653.5 662.0 L654.5 661.6 L655.5 662.3 L656.5 661.4 L657.5 660.2 L658.5 660.6 L659.5 661.3 L660.5 660.0 L661.5 661.6 L662.5 661.0 L663.5 661.0 L664.5 659.7 L665.5 659.2 L666.5 660.8 L667.5 660.0 L668.5 659.8 L669.5 659.9 L670.5 660.3 L671.5 659.4 L672.5 660.2 L673.5 658.9 L674.5 660.6 L675.5 660.0 L676.5 659.2 L677.5 659.6 L678.5 660.4 L679.5 659.3 L680.5 660.0 L681.5 660.5 L682.5 660.6 L683.5 659.2 L684.5 660.3 L685.5 659.9 L686.5 660.3 L687.5 658.9 L688.5 659.6 L689.5 659.7 L690.5 660.4 L691.5 659.7 L692.5 658.9 L693.5 659.3 L694.5 660.6 L695.5 660.7 L696.5 660.1 L697.5 659.2 L698.5 660.6 L699.5 660.8 L700.5 659.6 L701.5 660.1 L702.5 659.7 L703.5 659.3 L704.5 660.6 L705.5 659.5 L706.5 659.4 L707.5 661.1 L708.5 659.5 L709.5 660.8 L710.5 660.9 L711.5 659.8 L712.5 660.1 L713.5 659.8 L714.5 660.8 L715.5 661.4 L716.5 660.9 L717.5 660.4 L718.5 660.5 L719.5 660.3 L720.5 660.9 L721.5 660.1 L722.5 660.0 L723.5 661.0 L724.5 660.1 L725.5 661.6 L726.5 661.1 L727.5 660.0 L728.5 659.7 L729.5 660.9 L730.5 660.0 L731.5 660.7 L732.5 660.9 L733.5 661.4 L734.5 660.6 L735.5 660.9 L736.5 661.5 L737.5 660.1 L738.5 660.5 L739.5 661.5 L740.5 660.6 L741.5 661.8 L742.5 660.2 L743.5 660.2 L744.5 660.8 L745.5 661.0 L746.5 660.8 L747.5 660.6 L748.5 661.1 L749.5 662.0 L750.5 662.1 L751.5 661.6 L752.5 660.9 L753.5 661.6 L754.5 660.8 L755.5 660.7 L756.5 662.3 L757.5 661.3 L758.5 661.2 L759.5 662.6 L760.5 661.3 L761.5 661.7 L762.5 661.6 L763.5 663.2 L764.5 662.9 L765.5 662.0 L766.5 661.9 L767.5 663.7 L768.5 662.2 L769.5 663.5 L770.5 663.5 L771.5 663.4 L772.5 663.3 L773.5 663.2 L774.5 663.0 L775.5 663.8 L776.5 662.8 L777.5 663.5 L778.5 663.1 L779.5 663.3 L780.5 664.4 L781.5 663.7 L782.5 663.9 L783.5 663.9 L784.5 662.6 L785.5 664.1 L786.5 664.2 L787.5 664.0 L788.5 663.5 L789.5 664.1 L790.5 664.2 L791.5 662.8 L792.5 662.6 L793.5 662.8 L794.5 662.1 L795.5 662.5 L796.5 662.1 L797.5 661.9 L798.5 662.6 L799.5 661.6 L800.5 662.2 L801.5 662.6 L802.5 662.0 L803.5 660.2 L804.5 661.0 L805.5 659.5 L806.5 660.2 L807.5 659.3 L808.5 658.6 L809.5 657.8 L810.5 658.5 L811.5 656.4 L812.5 657.3 L813.5 655.3 L814.5 654.5 L815.5 654.1 L816.5 653.2 L817.5 654.3 L818.5 652.6 L819.5 653.1 L820.5 652.3 L821.5 652.3 L822.5 653.1 L823.5 652.5 L824.5 651.8 L825.5 652.7 L826.5 651.4 L827.5 651.1 L828.5 652.2 L829.5 652.4 L830.5 652.0 L831.5 651.4 L832.5 651.3 L833.5 650.6 L834.5 649.2 L835.5 648.1 L836.5 649.0 L837.5 649.2 L838.5 650.6 L839.5 650.9 L840.5 651.5 L841.5 652.9 L842.5 653.8 L843.5 655.6 L844.5 656.0 L845.5 656.1 L846.5 656.1 L847.5 657.3 L848.5 657.0 L849.5 657.5 L850.5 657.2 L851.5 659.1 L852.5 658.2 L853.5 658.5 L854.5 658.2 L855.5 658.9 L856.5 659.2 L857.5 659.2 L858.5 660.0 L859.5 659.3 L860.5 660.1 L861.5 660.3 L862.5 659.3 L863.5 660.8 L864.5 659.4 L865.5 659.9 L866.5 661.2 L867.5 659.9 L868.5 660.3 L869.5 660.6 L870.5 661.8 L871.5 661.9 L872.5 660.5 L873.5 661.5 L874.5 661.9 L875.5 661.4 L876.5 661.1 L877.5 660.8 L878.5 660.7 L879.5 660.8 L880.5 660.8 L881.5 662.3 L882.5 662.1 L883.5 661.1 L884.5 662.9 L885.5 663.0 L886.5 661.9 L887.5 661.9 L888.5 663.0 L889.5 662.6 L890.5 662.8 L891.5 661.8 L892.5 662.9 L893.5 662.4 L894.5 661.7 L895.5 661.7 L896.5 662.2 L897.5 662.2 L898.5 662.3 L899.5 663.6 L900.5 662.6 L901.5 662.3 L902.5 662.1 L903.5 662.1 L904.5 662.8 L905.5 662.9 L906.5 662.2 L907.5 663.2 L908.5 662.9 L909.5 662.3 L910.5 663.2 L911.5 662.6 L912.5 662.7 L913.5 663.9 L914.5 663.3 L915.5 663.2 L916.5 663.6 L917.5 664.0 L918.5 663.9 L919.5 664.6 L920.5 664.1 L921.5 663.4 L922.5 664.7 L923.5 662.8 L924.5 663.2 L925.5 663.1 L926.5 663.7 L927.5 663.7 L928.5 663.8 L929.5 664.3 L930.5 663.8 L931.5 664.1 L932.5 664.5 L933.5 665.0 L934.5 665.1 L935.5 664.0 L936.5 664.1 L937.5 665.3 L938.5 665.0 L939.5 665.1 L940.5 663.6 L941.5 664.0 L942.5 664.3 L943.5 664.1 L944.5 664.5 L945.5 665.4 L946.5 664.4 L947.5 664.6 L948.5 664.3 L949.5 664.8 L950.5 664.8 L951.5 664.1 L952.5 663.8 L953.5 665.2 L954.5 665.4 L955.5 664.4 L956.5 664.2 L957.5 664.0 L958.5 665.1 L959.5 665.0 L960.5 665.7 L961.5 665.2 L962.5 665.0 L963.5 665.1 L964.5 665.7 L965.5 665.7 L966.5 664.2 L967.5 664.1 L968.5 664.2 L969.5 663.9 L970.5 665.6 L971.5 665.8 L972.5 664.9 L973.5 665.4 L974.5 665.2 L975.5 665.1 L976.5 664.6 L977.5 665.6 L978.5 664.3 L979.5 663.8 L980.5 663.7 L981.5 665.1 L982.5 665.0 L983.5 665.1 L984.5 664.9 L985.5 663.7 L986.5 663.9 L987.5 663.7 L988.5 664.8 L989.5 663.0 L990.5 663.5 L991.5 664.1 L992.5 664.0 L993.5 662.7 L994.5 662.8 L995.5 662.9 L996.5 662.9 L997.5 663.4 L998.5 662.4 L999.5 663.9 L1000.5 663.1 L1001.5 663.5 L1002.5 662.8 L1003.5 663.7 L1004.5 662.2 L1005.5 663.7 L1006.5 662.4 L1007.5 662.9 L1008.5 663.0 L1009.5 663.2 L1010.5 662.9 L1011.5 663.2 L1012.5 661.9 L1013.5 662.9 L1014.5 662.8 L1015.5 663.1 L1016.5 662.1 L1017.5 663.3 L1018.5 662.1 L1019.5 662.0 L1020.5 662.1 L1021.5 664.0 L1022.5 662.4 L1023.5 663.5 L1024.5 662.3 L1025.5 663.5 L1026.5 662.7 L1027.5 663.6 L1028.5 663.9 L1029.5 663.9 L1030.5 663.6 L1031.5 664.1 L1032.5 662.7 L1033.5 662.9 L1034.5 663.3 L1035.5 663.8 L1036.5 664.5 L1037.5 663.1 L1038.5 663.6 L1039.5 664.3 L1040.5 663.9 L1041.5 663.5 L1042.5 664.0 L1043.5 663.5 L1044.5 663.6 L1045.5 665.3 L1046.5 664.3 L1047.5 665.2 L1048.5 664.3 L1049.5 665.3 L1050.5 665.7 L1051.5 664.0 L1052.5 665.2 L1053.5 665.8 L1054.5 665.6 L1055.5 664.3 L1056.5 665.5 L1057.5 665.6 L1058.5 664.4 L1059.5 665.4 L1060.5 665.3 L1061.5 664.5 L1062.5 665.7 L1063.5 665.7 L1064.5 664.1 L1065.5 664.8 L1066.5 665.0 L1067.5 663.7 L1068.5 664.7 L1069.5 665.4 L1070.5 664.1 L1071.5 664.4 L1072.5 665.1 L1073.5 664.9 L1074.5 665.0 L1075.5 663.2 L1076.5 664.9 L1077.5 663.5 L1078.5 663.4 L1079.5 663.0 L1080.5 664.2 L1081.5 663.7 L1082.5 663.4 L1083.5 663.4 L1084.5 663.4 L1085.5 663.5 L1086.5 662.6 L1087.5 663.7 L1088.5 662.8 L1089.5 662.3 L1090.5 664.2 L1091.5 662.5 L1092.5 663.9 L1093.5 663.9 L1094.5 663.2 L1095.5 663.6 L1096.5 662.9 L1097.5 662.8 L1098.5 664.2 L1099.5 664.0 L1100.5 664.0 L1101.5 663.4 L1102.5 662.6 L1103.5 664.1 L1104.5 664.5 L1105.5 663.3 L1106.5 663.9 L1107.5 663.0 L1108.5 664.6 L1109.5 664.2 L1110.5 662.9 L1111.5 664.2 L1112.5 664.2 L1113.5 663.8 L1114.5 664.1 L1115.5 664.8 L1116.5 664.4 L1117.5 664.0 L1118.5 665.0 L1119.5 664.4 L1120.5 664.7 L1121.5 664.3 L1122.5 664.8 L1123.5 664.9 L1124.5 664.3 L1125.5 664.3 L1126.5 663.8 L1127.5 664.8 L1128.5 665.0 L1129.5 664.4 L1130.5 663.7 L1131.5 665.0 L1132.5 664.9 L1133.5 665.0 L1134.5 664.0 L1135.5 665.5 L1136.5 665.2 L1137.5 665.4 L1138.5 664.2 L1139.5 664.4 L1140.5 665.0 L1141.5 664.0 L1142.5 666.0 L1143.5 664.4 L1144.5 664.4 L1145.5 665.7 L1146.5 664.6 L1147.5 665.4 L1148.5 665.6 L1149.5 664.7 L1150.5 664.4 L1151.5 665.8 L1152.5 666.2 L1153.5 666.1 L1154.5 664.7 L1155.5 665.2 L1156.5 665.5 L1157.5 664.7 L1158.5 666.4 L1159.5 666.4 L1160.5 666.7 L1161.5 666.6 L1162.5 666.5 L1163.5 665.5 L1164.5 666.2 L1165.5 666.7 L1166.5 665.0 L1167.5 665.2 L1168.5 667.1 L1169.5 665.3 L1170.5 667.0 L1171.5 666.0 L1172.5 665.7 L1173.5 666.0 L1174.5 667.1 L1175.5 666.6 L1176.5 665.6 L1177.5 667.0 L1178.5 666.1 L1179.5 667.1 L1180.5 666.5 L1181.5 667.2 L1182.5 666.6 L1183.5 666.3 L1184.5 667.6 L1185.5 667.6 L1186.5 666.7 L1187.5 666.7 L1188.5 666.9 L1189.5 667.1 L1190.5 666.3 L1191.5 667.6 L1192.5 666.6 L1193.5 667.8 L1194.5 667.0 L1195.5 667.7 L1196.5 667.7 L1197.5 666.4 L1198.5 666.0 L1199.5 667.1 L1200.5 667.1 L1201.5 666.6 L1202.5 666.7 L1203.5 666.5 L1204.5 666.2 L1205.5 667.0 L1206.5 667.1 L1207.5 667.0 L1208.5 667.8 L1209.5 667.0 L1210.5 667.6 L1211.5 667.7 L1212.5 667.2 L1213.5 667.1" fill="none" stroke="#006CE0" stroke-width="2.3" stroke-linejoin="round" shape-rendering="crispEdges"/><path d="M115.5 520.5 L117.5 520.5 L119.5 520.6 L121.5 520.6 L123.5 520.6 L125.5 520.7 L127.5 520.7 L129.5 520.7 L131.5 520.8 L133.5 520.8 L135.5 520.8 L137.5 520.9 L139.5 520.9 L141.5 521.0 L143.5 521.0 L145.5 521.0 L147.5 521.1 L149.5 521.1 L151.5 521.2 L153.5 521.2 L155.5 521.2 L157.5 521.3 L159.5 521.3 L161.5 521.3 L163.5 521.3 L165.5 521.4 L167.5 521.4 L169.5 521.4 L171.5 521.4 L173.5 521.5 L175.5 521.5 L177.5 521.5 L179.5 521.5 L181.5 521.5 L183.5 521.5 L185.5 521.5 L187.5 521.5 L189.5 521.5 L191.5 521.5 L193.5 521.5 L195.5 521.5 L197.5 521.4 L199.5 521.4 L201.5 521.4 L203.5 521.4 L205.5 521.3 L207.5 521.3 L209.5 521.3 L211.5 521.2 L213.5 521.2 L215.5 521.2 L217.5 521.1 L219.5 521.1 L221.5 521.1 L223.5 521.0 L225.5 521.0 L227.5 520.9 L229.5 520.9 L231.5 520.9 L233.5 520.8 L235.5 520.8 L237.5 520.7 L239.5 520.7 L241.5 520.6 L243.5 520.6 L245.5 520.5 L247.5 520.4 L249.5 520.4 L251.5 520.3 L253.5 520.2 L255.5 520.1 L257.5 520.0 L259.5 519.9 L261.5 519.8 L263.5 519.7 L265.5 519.6 L267.5 519.5 L269.5 519.4 L271.5 519.3 L273.5 519.2 L275.5 519.1 L277.5 518.9 L279.5 518.8 L281.5 518.6 L283.5 518.5 L285.5 518.3 L287.5 518.1 L289.5 517.9 L291.5 517.7 L293.5 517.4 L295.5 517.2 L297.5 516.9 L299.5 516.6 L301.5 516.3 L303.5 515.9 L305.5 515.5 L307.5 515.0 L309.5 514.4 L311.5 513.8 L313.5 513.1 L315.5 512.4 L317.5 511.6 L319.5 510.9 L321.5 510.0 L323.5 509.1 L325.5 508.1 L327.5 506.9 L329.5 505.6 L331.5 503.9 L333.5 501.9 L335.5 499.8 L337.5 497.7 L339.5 496.0 L341.5 494.8 L343.5 493.8 L345.5 492.9 L347.5 492.2 L349.5 491.6 L351.5 491.2 L353.5 491.3 L355.5 491.9 L357.5 492.7 L359.5 493.7 L361.5 494.5 L363.5 495.3 L365.5 496.1 L367.5 496.8 L369.5 497.3 L371.5 497.4 L373.5 497.2 L375.5 496.6 L377.5 496.0 L379.5 495.2 L381.5 494.4 L383.5 493.7 L385.5 493.1 L387.5 492.3 L389.5 491.5 L391.5 490.9 L393.5 490.5 L395.5 490.4 L397.5 490.9 L399.5 491.8 L401.5 493.1 L403.5 494.4 L405.5 495.8 L407.5 497.2 L409.5 499.1 L411.5 501.2 L413.5 503.3 L415.5 505.1 L417.5 506.4 L419.5 507.2 L421.5 507.8 L423.5 508.3 L425.5 508.7 L427.5 509.1 L429.5 509.3 L431.5 509.3 L433.5 509.3 L435.5 509.3 L437.5 509.3 L439.5 509.3 L441.5 509.3 L443.5 509.3 L445.5 509.3 L447.5 509.2 L449.5 509.1 L451.5 508.8 L453.5 508.5 L455.5 508.2 L457.5 507.8 L459.5 507.4 L461.5 506.8 L463.5 506.1 L465.5 505.2 L467.5 504.1 L469.5 502.9 L471.5 501.7 L473.5 500.4 L475.5 498.6 L477.5 496.5 L479.5 494.4 L481.5 492.6 L483.5 491.5 L485.5 490.9 L487.5 490.3 L489.5 489.9 L491.5 489.8 L493.5 490.3 L495.5 491.2 L497.5 492.1 L499.5 492.7 L501.5 493.3 L503.5 493.5 L505.5 493.2 L507.5 492.6 L509.5 491.7 L511.5 490.6 L513.5 488.5 L515.5 485.3 L517.5 482.0 L519.5 478.9 L521.5 475.5 L523.5 471.2 L525.5 464.9 L527.5 456.1 L529.5 446.1 L531.5 436.5 L533.5 425.0 L535.5 413.4 L537.5 403.7 L539.5 396.2 L541.5 390.6 L543.5 386.7 L545.5 387.3 L547.5 389.8 L549.5 396.5 L551.5 405.5 L553.5 416.1 L555.5 427.8 L557.5 441.2 L559.5 452.3 L561.5 460.6 L563.5 468.5 L565.5 476.2 L567.5 482.0 L569.5 486.8 L571.5 490.6 L573.5 493.6 L575.5 496.3 L577.5 498.5 L579.5 500.0 L581.5 501.1 L583.5 502.1 L585.5 502.8 L587.5 503.5 L589.5 504.1 L591.5 504.7 L593.5 505.3 L595.5 505.9 L597.5 506.4 L599.5 506.9 L601.5 507.4 L603.5 507.8 L605.5 508.2 L607.5 508.5 L609.5 508.9 L611.5 509.2 L613.5 509.6 L615.5 509.9 L617.5 510.2 L619.5 510.4 L621.5 510.7 L623.5 510.9 L625.5 511.1 L627.5 511.3 L629.5 511.6 L631.5 511.8 L633.5 512.0 L635.5 512.2 L637.5 512.4 L639.5 512.5 L641.5 512.7 L643.5 512.8 L645.5 512.9 L647.5 512.9 L649.5 512.9 L651.5 512.7 L653.5 512.5 L655.5 512.2 L657.5 511.9 L659.5 511.5 L661.5 511.0 L663.5 510.6 L665.5 510.2 L667.5 509.9 L669.5 509.6 L671.5 509.3 L673.5 509.2 L675.5 509.2 L677.5 509.2 L679.5 509.2 L681.5 509.3 L683.5 509.3 L685.5 509.4 L687.5 509.4 L689.5 509.5 L691.5 509.5 L693.5 509.6 L695.5 509.7 L697.5 509.7 L699.5 509.8 L701.5 509.9 L703.5 509.9 L705.5 510.0 L707.5 510.1 L709.5 510.1 L711.5 510.1 L713.5 510.2 L715.5 510.2 L717.5 510.2 L719.5 510.2 L721.5 510.3 L723.5 510.3 L725.5 510.3 L727.5 510.3 L729.5 510.4 L731.5 510.4 L733.5 510.4 L735.5 510.4 L737.5 510.5 L739.5 510.5 L741.5 510.5 L743.5 510.6 L745.5 510.6 L747.5 510.7 L749.5 510.7 L751.5 510.8 L753.5 511.0 L755.5 511.2 L757.5 511.5 L759.5 511.8 L761.5 512.2 L763.5 512.5 L765.5 512.9 L767.5 513.2 L769.5 513.6 L771.5 513.8 L773.5 514.1 L775.5 514.3 L777.5 514.4 L779.5 514.5 L781.5 514.5 L783.5 514.4 L785.5 514.3 L787.5 514.2 L789.5 514.0 L791.5 513.8 L793.5 513.5 L795.5 513.2 L797.5 512.9 L799.5 512.2 L801.5 511.1 L803.5 509.6 L805.5 507.9 L807.5 506.2 L809.5 504.8 L811.5 503.7 L813.5 502.8 L815.5 501.9 L817.5 501.1 L819.5 500.4 L821.5 499.8 L823.5 499.3 L825.5 498.7 L827.5 498.0 L829.5 495.9 L831.5 492.3 L833.5 491.7 L835.5 493.6 L837.5 496.0 L839.5 499.2 L841.5 502.6 L843.5 504.8 L845.5 505.6 L847.5 506.3 L849.5 506.9 L851.5 507.3 L853.5 507.7 L855.5 508.0 L857.5 508.3 L859.5 508.6 L861.5 508.8 L863.5 509.1 L865.5 509.3 L867.5 509.5 L869.5 509.7 L871.5 509.9 L873.5 510.1 L875.5 510.3 L877.5 510.4 L879.5 510.6 L881.5 510.7 L883.5 510.9 L885.5 511.0 L887.5 511.1 L889.5 511.2 L891.5 511.4 L893.5 511.5 L895.5 511.6 L897.5 511.7 L899.5 511.8 L901.5 511.9 L903.5 512.0 L905.5 512.1 L907.5 512.2 L909.5 512.3 L911.5 512.4 L913.5 512.5 L915.5 512.6 L917.5 512.7 L919.5 512.8 L921.5 512.9 L923.5 512.9 L925.5 513.0 L927.5 513.1 L929.5 513.2 L931.5 513.3 L933.5 513.4 L935.5 513.5 L937.5 513.5 L939.5 513.6 L941.5 513.7 L943.5 513.7 L945.5 513.8 L947.5 513.9 L949.5 513.9 L951.5 514.0 L953.5 514.0 L955.5 514.0 L957.5 514.1 L959.5 514.1 L961.5 514.1 L963.5 514.2 L965.5 514.2 L967.5 514.2 L969.5 514.2 L971.5 514.2 L973.5 514.2 L975.5 514.1 L977.5 514.0 L979.5 513.9 L981.5 513.8 L983.5 513.7 L985.5 513.5 L987.5 513.3 L989.5 513.2 L991.5 513.0 L993.5 512.8 L995.5 512.6 L997.5 512.5 L999.5 512.3 L1001.5 512.1 L1003.5 512.0 L1005.5 511.8 L1007.5 511.7 L1009.5 511.6 L1011.5 511.5 L1013.5 511.4 L1015.5 511.4 L1017.5 511.4 L1019.5 511.5 L1021.5 511.6 L1023.5 511.7 L1025.5 511.9 L1027.5 512.1 L1029.5 512.4 L1031.5 512.7 L1033.5 513.0 L1035.5 513.3 L1037.5 513.6 L1039.5 513.9 L1041.5 514.1 L1043.5 514.4 L1045.5 514.6 L1047.5 514.7 L1049.5 514.8 L1051.5 514.9 L1053.5 514.9 L1055.5 514.8 L1057.5 514.7 L1059.5 514.6 L1061.5 514.4 L1063.5 514.2 L1065.5 513.9 L1067.5 513.7 L1069.5 513.4 L1071.5 513.2 L1073.5 512.9 L1075.5 512.7 L1077.5 512.5 L1079.5 512.3 L1081.5 512.1 L1083.5 512.0 L1085.5 511.9 L1087.5 511.9 L1089.5 511.9 L1091.5 511.9 L1093.5 512.0 L1095.5 512.0 L1097.5 512.1 L1099.5 512.2 L1101.5 512.3 L1103.5 512.4 L1105.5 512.5 L1107.5 512.6 L1109.5 512.7 L1111.5 512.8 L1113.5 513.0 L1115.5 513.1 L1117.5 513.2 L1119.5 513.4 L1121.5 513.5 L1123.5 513.6 L1125.5 513.7 L1127.5 513.9 L1129.5 514.0 L1131.5 514.1 L1133.5 514.2 L1135.5 514.3 L1137.5 514.4 L1139.5 514.4 L1141.5 514.5 L1143.5 514.6 L1145.5 514.7 L1147.5 514.8 L1149.5 514.9 L1151.5 514.9 L1153.5 515.0 L1155.5 515.1 L1157.5 515.2 L1159.5 515.3 L1161.5 515.4 L1163.5 515.4 L1165.5 515.5 L1167.5 515.6 L1169.5 515.7 L1171.5 515.7 L1173.5 515.8 L1175.5 515.9 L1177.5 516.0 L1179.5 516.0 L1181.5 516.1 L1183.5 516.2 L1185.5 516.3 L1187.5 516.3 L1189.5 516.4 L1191.5 516.5 L1193.5 516.5 L1195.5 516.6 L1197.5 516.7 L1199.5 516.7 L1201.5 516.8 L1203.5 516.9 L1205.5 516.9 L1207.5 517.0 L1209.5 517.1 L1211.5 517.1 L1213.5 517.2" fill="none" stroke="#00AC60" stroke-width="2.5" stroke-linejoin="round" shape-rendering="crispEdges"/><path d="M115.5 520.6 L116.5 520.4 L117.5 520.7 L118.5 520.0 L119.5 521.2 L120.5 521.2 L121.5 520.9 L122.5 519.9 L123.5 520.7 L124.5 520.3 L125.5 520.2 L126.5 521.6 L127.5 521.7 L128.5 519.8 L129.5 521.5 L130.5 521.0 L131.5 520.5 L132.5 520.4 L133.5 521.2 L134.5 520.7 L135.5 521.2 L136.5 521.2 L137.5 520.2 L138.5 521.4 L139.5 521.9 L140.5 521.9 L141.5 521.2 L142.5 520.1 L143.5 520.0 L144.5 520.3 L145.5 521.9 L146.5 520.7 L147.5 520.8 L148.5 521.9 L149.5 520.7 L150.5 521.2 L151.5 521.0 L152.5 520.3 L153.5 521.4 L154.5 521.9 L155.5 520.5 L156.5 520.7 L157.5 521.1 L158.5 520.3 L159.5 521.3 L160.5 521.9 L161.5 521.6 L162.5 521.4 L163.5 522.1 L164.5 520.7 L165.5 521.5 L166.5 521.1 L167.5 521.6 L168.5 520.6 L169.5 522.0 L170.5 520.6 L171.5 520.8 L172.5 522.1 L173.5 522.3 L174.5 521.3 L175.5 521.3 L176.5 521.0 L177.5 521.0 L178.5 521.7 L179.5 520.8 L180.5 520.7 L181.5 521.4 L182.5 520.8 L183.5 521.8 L184.5 522.1 L185.5 522.1 L186.5 521.5 L187.5 521.2 L188.5 521.4 L189.5 520.5 L190.5 521.9 L191.5 521.1 L192.5 521.1 L193.5 520.6 L194.5 521.4 L195.5 521.6 L196.5 521.2 L197.5 522.2 L198.5 521.8 L199.5 520.9 L200.5 521.5 L201.5 522.2 L202.5 521.4 L203.5 521.6 L204.5 520.5 L205.5 521.3 L206.5 521.3 L207.5 521.1 L208.5 521.1 L209.5 521.5 L210.5 521.3 L211.5 521.2 L212.5 520.6 L213.5 521.1 L214.5 522.1 L215.5 521.0 L216.5 520.2 L217.5 520.1 L218.5 521.2 L219.5 520.2 L220.5 520.3 L221.5 520.3 L222.5 521.0 L223.5 522.0 L224.5 521.0 L225.5 520.9 L226.5 520.8 L227.5 520.9 L228.5 520.8 L229.5 521.4 L230.5 521.7 L231.5 521.3 L232.5 520.7 L233.5 521.1 L234.5 521.6 L235.5 520.1 L236.5 520.2 L237.5 521.0 L238.5 521.1 L239.5 521.0 L240.5 520.8 L241.5 521.3 L242.5 520.5 L243.5 521.2 L244.5 521.5 L245.5 520.4 L246.5 521.2 L247.5 520.9 L248.5 521.2 L249.5 519.5 L250.5 521.1 L251.5 520.8 L252.5 521.2 L253.5 521.2 L254.5 519.7 L255.5 520.5 L256.5 519.4 L257.5 520.2 L258.5 520.8 L259.5 519.3 L260.5 519.6 L261.5 519.0 L262.5 519.2 L263.5 519.2 L264.5 518.9 L265.5 520.6 L266.5 520.4 L267.5 519.5 L268.5 520.0 L269.5 519.8 L270.5 519.4 L271.5 519.2 L272.5 519.6 L273.5 519.3 L274.5 518.7 L275.5 518.8 L276.5 519.3 L277.5 519.2 L278.5 518.3 L279.5 519.0 L280.5 519.5 L281.5 519.4 L282.5 518.8 L283.5 517.6 L284.5 518.2 L285.5 517.5 L286.5 517.3 L287.5 517.6 L288.5 517.9 L289.5 518.4 L290.5 518.0 L291.5 517.2 L292.5 517.9 L293.5 517.4 L294.5 517.3 L295.5 516.7 L296.5 516.9 L297.5 516.6 L298.5 517.2 L299.5 516.6 L300.5 516.3 L301.5 516.3 L302.5 516.1 L303.5 516.3 L304.5 516.2 L305.5 516.1 L306.5 515.1 L307.5 515.6 L308.5 515.6 L309.5 515.4 L310.5 514.5 L311.5 512.9 L312.5 514.1 L313.5 513.8 L314.5 511.8 L315.5 512.0 L316.5 511.7 L317.5 512.1 L318.5 511.5 L319.5 510.4 L320.5 509.8 L321.5 509.4 L322.5 508.8 L323.5 509.7 L324.5 509.5 L325.5 507.5 L326.5 508.0 L327.5 507.8 L328.5 505.7 L329.5 505.8 L330.5 504.7 L331.5 504.9 L332.5 503.7 L333.5 500.9 L334.5 500.2 L335.5 500.5 L336.5 498.9 L337.5 497.8 L338.5 497.4 L339.5 496.5 L340.5 496.2 L341.5 494.5 L342.5 493.4 L343.5 494.2 L344.5 492.5 L345.5 493.1 L346.5 493.3 L347.5 492.0 L348.5 492.0 L349.5 490.9 L350.5 490.7 L351.5 491.5 L352.5 491.9 L353.5 492.3 L354.5 490.6 L355.5 492.7 L356.5 492.3 L357.5 492.4 L358.5 493.0 L359.5 493.9 L360.5 493.8 L361.5 493.8 L362.5 495.6 L363.5 495.7 L364.5 495.9 L365.5 496.5 L366.5 497.4 L367.5 496.1 L368.5 497.7 L369.5 497.9 L370.5 497.1 L371.5 497.5 L372.5 497.2 L373.5 496.5 L374.5 496.8 L375.5 495.9 L376.5 497.2 L377.5 495.3 L378.5 495.8 L379.5 495.3 L380.5 495.7 L381.5 495.0 L382.5 493.8 L383.5 493.5 L384.5 492.5 L385.5 492.2 L386.5 492.3 L387.5 493.2 L388.5 491.0 L389.5 490.9 L390.5 491.5 L391.5 490.6 L392.5 490.0 L393.5 491.4 L394.5 489.5 L395.5 490.6 L396.5 490.5 L397.5 490.6 L398.5 490.7 L399.5 491.2 L400.5 492.2 L401.5 493.6 L402.5 493.7 L403.5 495.0 L404.5 495.9 L405.5 495.1 L406.5 497.2 L407.5 497.4 L408.5 498.0 L409.5 499.1 L410.5 500.9 L411.5 501.0 L412.5 501.4 L413.5 504.2 L414.5 503.5 L415.5 504.3 L416.5 506.3 L417.5 506.0 L418.5 506.4 L419.5 507.5 L420.5 508.2 L421.5 507.5 L422.5 508.9 L423.5 508.5 L424.5 508.8 L425.5 508.8 L426.5 507.9 L427.5 508.4 L428.5 509.5 L429.5 509.7 L430.5 508.5 L431.5 509.6 L432.5 509.2 L433.5 509.5 L434.5 509.1 L435.5 508.7 L436.5 509.0 L437.5 510.2 L438.5 508.7 L439.5 510.0 L440.5 509.4 L441.5 508.4 L442.5 509.9 L443.5 508.3 L444.5 510.0 L445.5 509.0 L446.5 510.1 L447.5 509.7 L448.5 508.9 L449.5 509.3 L450.5 509.9 L451.5 508.2 L452.5 508.1 L453.5 508.1 L454.5 509.0 L455.5 507.7 L456.5 507.5 L457.5 508.0 L458.5 507.7 L459.5 507.2 L460.5 507.2 L461.5 505.9 L462.5 505.5 L463.5 505.2 L464.5 504.8 L465.5 505.7 L466.5 505.6 L467.5 503.4 L468.5 503.3 L469.5 502.0 L470.5 502.2 L471.5 502.0 L472.5 501.3 L473.5 501.2 L474.5 499.7 L475.5 497.7 L476.5 497.3 L477.5 496.4 L478.5 495.1 L479.5 493.5 L480.5 493.7 L481.5 492.6 L482.5 492.4 L483.5 491.2 L484.5 490.3 L485.5 490.4 L486.5 489.9 L487.5 490.2 L488.5 489.4 L489.5 489.1 L490.5 489.9 L491.5 489.1 L492.5 489.1 L493.5 489.5 L494.5 491.1 L495.5 491.8 L496.5 492.3 L497.5 492.2 L498.5 492.7 L499.5 493.2 L500.5 492.9 L501.5 493.3 L502.5 493.9 L503.5 493.8 L504.5 493.6 L505.5 493.5 L506.5 493.0 L507.5 492.0 L508.5 491.8 L509.5 492.1 L510.5 491.1 L511.5 491.4 L512.5 489.5 L513.5 488.8 L514.5 486.2 L515.5 484.9 L516.5 484.4 L517.5 481.4 L518.5 480.7 L519.5 478.0 L520.5 477.5 L521.5 475.4 L522.5 474.3 L523.5 471.8 L524.5 468.8 L525.5 464.5 L526.5 461.2 L527.5 455.4 L528.5 451.1 L529.5 445.9 L530.5 441.3 L531.5 436.1 L532.5 430.6 L533.5 425.0 L534.5 419.1 L535.5 413.5 L536.5 409.2 L537.5 403.8 L538.5 399.1 L539.5 396.5 L540.5 392.7 L541.5 391.5 L542.5 387.6 L543.5 386.7 L544.5 386.9 L545.5 388.2 L546.5 388.4 L547.5 389.6 L548.5 393.1 L549.5 397.1 L550.5 401.7 L551.5 405.9 L552.5 410.0 L553.5 417.1 L554.5 422.7 L555.5 427.7 L556.5 434.6 L557.5 441.9 L558.5 448.2 L559.5 452.7 L560.5 455.8 L561.5 459.7 L562.5 464.2 L563.5 468.4 L564.5 472.1 L565.5 476.7 L566.5 479.8 L567.5 481.8 L568.5 484.9 L569.5 486.2 L570.5 489.7 L571.5 490.1 L572.5 491.4 L573.5 493.4 L574.5 495.7 L575.5 496.5 L576.5 497.8 L577.5 499.1 L578.5 499.1 L579.5 501.0 L580.5 501.6 L581.5 501.2 L582.5 502.1 L583.5 502.8 L584.5 502.7 L585.5 502.1 L586.5 503.5 L587.5 503.4 L588.5 504.5 L589.5 503.5 L590.5 503.5 L591.5 504.1 L592.5 504.4 L593.5 505.1 L594.5 505.0 L595.5 505.6 L596.5 506.3 L597.5 505.7 L598.5 506.6 L599.5 506.6 L600.5 506.1 L601.5 507.7 L602.5 507.6 L603.5 508.3 L604.5 508.7 L605.5 507.3 L606.5 508.8 L607.5 508.5 L608.5 509.5 L609.5 508.1 L610.5 509.8 L611.5 509.1 L612.5 508.6 L613.5 509.5 L614.5 510.5 L615.5 509.0 L616.5 509.8 L617.5 509.3 L618.5 509.3 L619.5 511.1 L620.5 510.6 L621.5 510.8 L622.5 511.6 L623.5 510.0 L624.5 511.9 L625.5 511.6 L626.5 511.9 L627.5 512.0 L628.5 511.2 L629.5 510.6 L630.5 512.7 L631.5 512.1 L632.5 512.3 L633.5 512.4 L634.5 511.7 L635.5 512.5 L636.5 512.2 L637.5 511.8 L638.5 512.5 L639.5 512.5 L640.5 512.2 L641.5 513.2 L642.5 513.6 L643.5 513.0 L644.5 511.9 L645.5 512.9 L646.5 513.1 L647.5 513.5 L648.5 512.5 L649.5 512.3 L650.5 512.6 L651.5 512.1 L652.5 513.2 L653.5 511.6 L654.5 512.5 L655.5 512.9 L656.5 511.1 L657.5 511.2 L658.5 512.6 L659.5 511.1 L660.5 511.8 L661.5 510.1 L662.5 510.8 L663.5 509.7 L664.5 509.9 L665.5 509.3 L666.5 510.4 L667.5 509.8 L668.5 509.4 L669.5 509.4 L670.5 509.8 L671.5 508.9 L672.5 508.6 L673.5 508.3 L674.5 509.5 L675.5 509.5 L676.5 508.7 L677.5 509.2 L678.5 510.2 L679.5 509.2 L680.5 509.8 L681.5 509.0 L682.5 509.4 L683.5 509.9 L684.5 509.7 L685.5 509.6 L686.5 509.0 L687.5 508.5 L688.5 509.4 L689.5 509.9 L690.5 509.2 L691.5 510.0 L692.5 509.5 L693.5 508.8 L694.5 509.8 L695.5 509.8 L696.5 509.4 L697.5 509.1 L698.5 510.8 L699.5 510.0 L700.5 510.3 L701.5 509.0 L702.5 510.4 L703.5 509.3 L704.5 509.9 L705.5 509.8 L706.5 509.8 L707.5 510.6 L708.5 509.5 L709.5 511.0 L710.5 510.8 L711.5 510.1 L712.5 510.9 L713.5 510.3 L714.5 511.0 L715.5 510.2 L716.5 511.2 L717.5 510.7 L718.5 510.6 L719.5 511.2 L720.5 510.7 L721.5 509.8 L722.5 510.6 L723.5 509.6 L724.5 510.1 L725.5 510.7 L726.5 509.7 L727.5 510.2 L728.5 509.8 L729.5 510.2 L730.5 509.8 L731.5 510.8 L732.5 511.1 L733.5 510.4 L734.5 510.8 L735.5 510.9 L736.5 511.1 L737.5 511.1 L738.5 510.8 L739.5 511.0 L740.5 511.0 L741.5 510.6 L742.5 511.1 L743.5 509.9 L744.5 511.0 L745.5 510.9 L746.5 510.7 L747.5 510.9 L748.5 511.5 L749.5 511.3 L750.5 511.1 L751.5 511.6 L752.5 511.6 L753.5 510.6 L754.5 511.8 L755.5 512.0 L756.5 511.5 L757.5 512.4 L758.5 511.0 L759.5 512.4 L760.5 511.5 L761.5 512.0 L762.5 512.4 L763.5 512.4 L764.5 512.7 L765.5 512.1 L766.5 512.2 L767.5 513.7 L768.5 512.9 L769.5 513.1 L770.5 514.1 L771.5 514.4 L772.5 514.1 L773.5 514.7 L774.5 513.9 L775.5 515.1 L776.5 514.7 L777.5 515.1 L778.5 515.1 L779.5 514.9 L780.5 515.3 L781.5 515.0 L782.5 514.4 L783.5 513.7 L784.5 514.2 L785.5 514.5 L786.5 513.3 L787.5 514.4 L788.5 513.9 L789.5 513.9 L790.5 513.0 L791.5 512.9 L792.5 513.9 L793.5 513.0 L794.5 512.7 L795.5 514.0 L796.5 512.2 L797.5 513.3 L798.5 513.3 L799.5 513.0 L800.5 512.0 L801.5 510.2 L802.5 510.2 L803.5 510.3 L804.5 508.6 L805.5 508.0 L806.5 507.5 L807.5 506.4 L808.5 505.2 L809.5 505.0 L810.5 504.1 L811.5 503.4 L812.5 502.4 L813.5 502.3 L814.5 503.3 L815.5 501.5 L816.5 501.2 L817.5 502.1 L818.5 499.9 L819.5 499.9 L820.5 499.8 L821.5 499.7 L822.5 499.3 L823.5 498.8 L824.5 498.3 L825.5 498.9 L826.5 497.7 L827.5 497.0 L828.5 497.9 L829.5 496.5 L830.5 493.7 L831.5 493.0 L832.5 490.7 L833.5 492.5 L834.5 492.8 L835.5 494.0 L836.5 493.9 L837.5 496.5 L838.5 496.8 L839.5 499.3 L840.5 501.1 L841.5 501.7 L842.5 503.5 L843.5 505.6 L844.5 505.7 L845.5 505.2 L846.5 506.9 L847.5 505.4 L848.5 506.9 L849.5 507.5 L850.5 507.8 L851.5 507.6 L852.5 508.0 L853.5 507.2 L854.5 508.4 L855.5 508.4 L856.5 508.3 L857.5 507.8 L858.5 508.8 L859.5 507.7 L860.5 508.7 L861.5 509.1 L862.5 508.6 L863.5 509.3 L864.5 508.3 L865.5 509.0 L866.5 509.4 L867.5 510.2 L868.5 509.7 L869.5 510.6 L870.5 509.6 L871.5 510.7 L872.5 510.2 L873.5 510.0 L874.5 509.5 L875.5 510.9 L876.5 510.9 L877.5 510.2 L878.5 510.1 L879.5 510.1 L880.5 510.3 L881.5 509.9 L882.5 511.5 L883.5 510.7 L884.5 510.3 L885.5 511.4 L886.5 510.4 L887.5 511.9 L888.5 510.2 L889.5 511.3 L890.5 511.6 L891.5 511.0 L892.5 510.8 L893.5 512.3 L894.5 511.7 L895.5 512.0 L896.5 511.0 L897.5 510.7 L898.5 512.5 L899.5 511.2 L900.5 510.9 L901.5 512.4 L902.5 512.1 L903.5 511.0 L904.5 512.1 L905.5 512.1 L906.5 513.0 L907.5 512.4 L908.5 511.5 L909.5 512.5 L910.5 512.9 L911.5 513.3 L912.5 512.0 L913.5 512.6 L914.5 511.6 L915.5 513.5 L916.5 511.9 L917.5 513.0 L918.5 513.4 L919.5 512.7 L920.5 513.8 L921.5 512.7 L922.5 513.0 L923.5 513.6 L924.5 512.0 L925.5 513.8 L926.5 513.8 L927.5 512.5 L928.5 513.6 L929.5 512.8 L930.5 512.6 L931.5 513.3 L932.5 513.8 L933.5 513.1 L934.5 513.1 L935.5 512.9 L936.5 513.6 L937.5 513.7 L938.5 514.3 L939.5 514.3 L940.5 512.7 L941.5 513.0 L942.5 513.0 L943.5 513.3 L944.5 514.3 L945.5 513.8 L946.5 514.3 L947.5 514.5 L948.5 513.6 L949.5 512.9 L950.5 513.4 L951.5 514.2 L952.5 514.1 L953.5 513.4 L954.5 514.5 L955.5 513.1 L956.5 513.4 L957.5 514.1 L958.5 514.3 L959.5 515.0 L960.5 513.9 L961.5 514.8 L962.5 514.1 L963.5 513.8 L964.5 515.1 L965.5 514.2 L966.5 514.6 L967.5 513.8 L968.5 515.0 L969.5 514.2 L970.5 513.3 L971.5 513.3 L972.5 513.9 L973.5 514.0 L974.5 513.4 L975.5 514.8 L976.5 514.2 L977.5 514.9 L978.5 514.3 L979.5 514.5 L980.5 513.2 L981.5 512.9 L982.5 513.2 L983.5 513.5 L984.5 512.7 L985.5 514.4 L986.5 513.0 L987.5 513.9 L988.5 512.3 L989.5 513.9 L990.5 512.7 L991.5 513.0 L992.5 513.1 L993.5 513.0 L994.5 512.3 L995.5 512.1 L996.5 512.3 L997.5 512.6 L998.5 511.4 L999.5 511.7 L1000.5 511.3 L1001.5 512.8 L1002.5 512.4 L1003.5 512.6 L1004.5 512.2 L1005.5 510.9 L1006.5 511.4 L1007.5 512.5 L1008.5 511.6 L1009.5 511.2 L1010.5 510.9 L1011.5 512.3 L1012.5 510.7 L1013.5 511.2 L1014.5 511.1 L1015.5 511.7 L1016.5 512.2 L1017.5 511.9 L1018.5 512.4 L1019.5 511.0 L1020.5 512.0 L1021.5 512.0 L1022.5 510.7 L1023.5 511.9 L1024.5 512.6 L1025.5 511.0 L1026.5 511.5 L1027.5 512.2 L1028.5 512.5 L1029.5 512.5 L1030.5 513.3 L1031.5 512.5 L1032.5 513.2 L1033.5 513.1 L1034.5 513.8 L1035.5 513.1 L1036.5 514.3 L1037.5 514.3 L1038.5 514.2 L1039.5 514.7 L1040.5 514.3 L1041.5 513.7 L1042.5 515.2 L1043.5 514.1 L1044.5 514.2 L1045.5 514.8 L1046.5 514.7 L1047.5 515.7 L1048.5 514.6 L1049.5 515.7 L1050.5 514.8 L1051.5 514.3 L1052.5 515.0 L1053.5 515.2 L1054.5 514.5 L1055.5 515.0 L1056.5 514.6 L1057.5 513.8 L1058.5 513.8 L1059.5 514.3 L1060.5 514.9 L1061.5 513.7 L1062.5 515.2 L1063.5 513.9 L1064.5 513.3 L1065.5 513.3 L1066.5 514.7 L1067.5 514.4 L1068.5 513.9 L1069.5 512.5 L1070.5 513.6 L1071.5 512.2 L1072.5 512.5 L1073.5 512.1 L1074.5 513.1 L1075.5 513.3 L1076.5 512.1 L1077.5 513.5 L1078.5 512.5 L1079.5 513.0 L1080.5 511.6 L1081.5 512.7 L1082.5 512.3 L1083.5 511.2 L1084.5 512.5 L1085.5 512.5 L1086.5 511.7 L1087.5 511.4 L1088.5 511.1 L1089.5 512.1 L1090.5 511.5 L1091.5 511.4 L1092.5 511.9 L1093.5 511.2 L1094.5 512.3 L1095.5 511.7 L1096.5 511.7 L1097.5 512.0 L1098.5 512.0 L1099.5 512.1 L1100.5 511.7 L1101.5 512.8 L1102.5 513.1 L1103.5 512.5 L1104.5 512.9 L1105.5 513.1 L1106.5 512.1 L1107.5 513.3 L1108.5 512.8 L1109.5 513.0 L1110.5 512.9 L1111.5 513.6 L1112.5 512.9 L1113.5 513.4 L1114.5 512.6 L1115.5 512.4 L1116.5 513.2 L1117.5 513.9 L1118.5 512.6 L1119.5 513.8 L1120.5 513.0 L1121.5 512.7 L1122.5 514.2 L1123.5 512.7 L1124.5 513.5 L1125.5 514.1 L1126.5 514.2 L1127.5 514.4 L1128.5 513.1 L1129.5 513.2 L1130.5 513.6 L1131.5 514.8 L1132.5 514.9 L1133.5 514.0 L1134.5 513.8 L1135.5 514.5 L1136.5 514.2 L1137.5 513.4 L1138.5 514.6 L1139.5 515.3 L1140.5 514.8 L1141.5 515.0 L1142.5 513.7 L1143.5 514.8 L1144.5 515.5 L1145.5 514.2 L1146.5 514.4 L1147.5 514.3 L1148.5 515.0 L1149.5 514.6 L1150.5 515.6 L1151.5 515.3 L1152.5 515.1 L1153.5 515.6 L1154.5 514.5 L1155.5 514.6 L1156.5 515.0 L1157.5 515.0 L1158.5 515.1 L1159.5 516.3 L1160.5 515.0 L1161.5 516.1 L1162.5 516.1 L1163.5 515.1 L1164.5 515.3 L1165.5 514.6 L1166.5 515.9 L1167.5 515.6 L1168.5 515.0 L1169.5 516.5 L1170.5 515.6 L1171.5 515.2 L1172.5 515.7 L1173.5 515.2 L1174.5 515.3 L1175.5 516.2 L1176.5 516.2 L1177.5 515.2 L1178.5 516.5 L1179.5 516.6 L1180.5 516.2 L1181.5 516.3 L1182.5 516.4 L1183.5 516.7 L1184.5 516.7 L1185.5 516.8 L1186.5 516.3 L1187.5 516.3 L1188.5 515.7 L1189.5 516.7 L1190.5 516.7 L1191.5 517.0 L1192.5 516.8 L1193.5 516.5 L1194.5 515.7 L1195.5 516.9 L1196.5 517.0 L1197.5 515.9 L1198.5 516.2 L1199.5 516.7 L1200.5 516.0 L1201.5 517.8 L1202.5 516.0 L1203.5 517.3 L1204.5 517.6 L1205.5 516.1 L1206.5 516.9 L1207.5 516.9 L1208.5 518.0 L1209.5 518.0 L1210.5 517.3 L1211.5 517.6 L1212.5 517.9 L1213.5 516.4" fill="none" stroke="#00AC60" stroke-width="2.3" stroke-linejoin="round" shape-rendering="crispEdges"/><path d="M115.5 367.3 L117.5 367.4 L119.5 367.4 L121.5 367.5 L123.5 367.5 L125.5 367.6 L127.5 367.7 L129.5 367.8 L131.5 367.8 L133.5 367.9 L135.5 368.0 L137.5 368.0 L139.5 368.1 L141.5 368.2 L143.5 368.2 L145.5 368.3 L147.5 368.3 L149.5 368.4 L151.5 368.4 L153.5 368.5 L155.5 368.5 L157.5 368.5 L159.5 368.5 L161.5 368.5 L163.5 368.5 L165.5 368.5 L167.5 368.5 L169.5 368.5 L171.5 368.5 L173.5 368.5 L175.5 368.5 L177.5 368.5 L179.5 368.5 L181.5 368.5 L183.5 368.5 L185.5 368.5 L187.5 368.5 L189.5 368.5 L191.5 368.5 L193.5 368.5 L195.5 368.5 L197.5 368.4 L199.5 368.4 L201.5 368.4 L203.5 368.4 L205.5 368.4 L207.5 368.4 L209.5 368.4 L211.5 368.4 L213.5 368.4 L215.5 368.4 L217.5 368.4 L219.5 368.4 L221.5 368.4 L223.5 368.4 L225.5 368.3 L227.5 368.3 L229.5 368.3 L231.5 368.3 L233.5 368.3 L235.5 368.3 L237.5 368.3 L239.5 368.3 L241.5 368.2 L243.5 368.2 L245.5 368.2 L247.5 368.1 L249.5 368.1 L251.5 368.0 L253.5 368.0 L255.5 367.9 L257.5 367.8 L259.5 367.8 L261.5 367.7 L263.5 367.6 L265.5 367.6 L267.5 367.5 L269.5 367.4 L271.5 367.3 L273.5 367.2 L275.5 367.2 L277.5 367.1 L279.5 367.0 L281.5 366.9 L283.5 366.8 L285.5 366.7 L287.5 366.7 L289.5 366.6 L291.5 366.5 L293.5 366.4 L295.5 366.3 L297.5 366.2 L299.5 366.1 L301.5 365.9 L303.5 365.8 L305.5 365.6 L307.5 365.4 L309.5 365.2 L311.5 365.0 L313.5 364.6 L315.5 364.2 L317.5 363.7 L319.5 363.2 L321.5 362.6 L323.5 361.9 L325.5 361.2 L327.5 360.2 L329.5 359.0 L331.5 357.8 L333.5 356.5 L335.5 355.3 L337.5 354.2 L339.5 352.9 L341.5 351.6 L343.5 350.4 L345.5 349.4 L347.5 348.8 L349.5 348.7 L351.5 348.7 L353.5 348.7 L355.5 348.7 L357.5 348.7 L359.5 348.8 L361.5 349.4 L363.5 350.4 L365.5 351.4 L367.5 352.2 L369.5 352.5 L371.5 352.6 L373.5 352.7 L375.5 352.8 L377.5 352.9 L379.5 352.9 L381.5 352.9 L383.5 352.6 L385.5 352.0 L387.5 351.3 L389.5 350.6 L391.5 350.1 L393.5 349.9 L395.5 350.1 L397.5 350.5 L399.5 351.1 L401.5 351.7 L403.5 352.4 L405.5 353.1 L407.5 354.1 L409.5 355.1 L411.5 356.1 L413.5 357.0 L415.5 357.8 L417.5 358.4 L419.5 358.9 L421.5 359.5 L423.5 360.0 L425.5 360.4 L427.5 360.7 L429.5 361.0 L431.5 361.1 L433.5 361.3 L435.5 361.4 L437.5 361.4 L439.5 361.5 L441.5 361.6 L443.5 361.6 L445.5 361.6 L447.5 361.6 L449.5 361.5 L451.5 361.5 L453.5 361.4 L455.5 361.2 L457.5 361.1 L459.5 360.9 L461.5 360.8 L463.5 360.6 L465.5 360.4 L467.5 360.1 L469.5 359.7 L471.5 359.0 L473.5 358.3 L475.5 357.5 L477.5 356.7 L479.5 356.0 L481.5 355.4 L483.5 355.0 L485.5 354.6 L487.5 354.2 L489.5 353.9 L491.5 353.6 L493.5 353.4 L495.5 353.2 L497.5 353.1 L499.5 353.0 L501.5 352.9 L503.5 352.7 L505.5 352.4 L507.5 352.0 L509.5 351.3 L511.5 350.4 L513.5 349.4 L515.5 348.3 L517.5 346.9 L519.5 345.3 L521.5 343.3 L523.5 340.7 L525.5 337.6 L527.5 334.4 L529.5 331.3 L531.5 327.3 L533.5 321.2 L535.5 314.4 L537.5 307.4 L539.5 302.3 L541.5 298.2 L543.5 294.6 L545.5 292.4 L547.5 291.6 L549.5 294.0 L551.5 297.2 L553.5 301.0 L555.5 306.9 L557.5 315.2 L559.5 321.6 L561.5 327.1 L563.5 331.9 L565.5 336.1 L567.5 339.9 L569.5 343.3 L571.5 345.9 L573.5 348.1 L575.5 350.0 L577.5 351.4 L579.5 352.7 L581.5 353.8 L583.5 354.7 L585.5 355.2 L587.5 355.6 L589.5 356.0 L591.5 356.3 L593.5 356.5 L595.5 356.7 L597.5 356.9 L599.5 357.2 L601.5 357.4 L603.5 357.6 L605.5 357.8 L607.5 358.0 L609.5 358.1 L611.5 358.3 L613.5 358.5 L615.5 358.6 L617.5 358.8 L619.5 359.0 L621.5 359.1 L623.5 359.3 L625.5 359.5 L627.5 359.7 L629.5 359.9 L631.5 360.1 L633.5 360.3 L635.5 360.4 L637.5 360.6 L639.5 360.7 L641.5 360.8 L643.5 360.8 L645.5 360.8 L647.5 360.8 L649.5 360.8 L651.5 360.8 L653.5 360.8 L655.5 360.8 L657.5 360.7 L659.5 360.7 L661.5 360.7 L663.5 360.7 L665.5 360.7 L667.5 360.6 L669.5 360.6 L671.5 360.6 L673.5 360.6 L675.5 360.6 L677.5 360.5 L679.5 360.5 L681.5 360.5 L683.5 360.5 L685.5 360.5 L687.5 360.4 L689.5 360.4 L691.5 360.4 L693.5 360.4 L695.5 360.4 L697.5 360.4 L699.5 360.4 L701.5 360.4 L703.5 360.4 L705.5 360.4 L707.5 360.5 L709.5 360.5 L711.5 360.6 L713.5 360.6 L715.5 360.7 L717.5 360.7 L719.5 360.8 L721.5 360.8 L723.5 360.9 L725.5 361.0 L727.5 361.0 L729.5 361.1 L731.5 361.2 L733.5 361.2 L735.5 361.3 L737.5 361.4 L739.5 361.4 L741.5 361.5 L743.5 361.5 L745.5 361.6 L747.5 361.6 L749.5 361.7 L751.5 361.8 L753.5 361.8 L755.5 361.9 L757.5 362.0 L759.5 362.0 L761.5 362.1 L763.5 362.2 L765.5 362.2 L767.5 362.3 L769.5 362.3 L771.5 362.4 L773.5 362.4 L775.5 362.5 L777.5 362.5 L779.5 362.5 L781.5 362.6 L783.5 362.6 L785.5 362.6 L787.5 362.6 L789.5 362.5 L791.5 362.5 L793.5 362.3 L795.5 362.2 L797.5 362.0 L799.5 361.8 L801.5 361.6 L803.5 361.4 L805.5 361.1 L807.5 360.9 L809.5 360.7 L811.5 360.4 L813.5 360.1 L815.5 359.8 L817.5 359.4 L819.5 359.1 L821.5 358.7 L823.5 358.2 L825.5 357.6 L827.5 357.2 L829.5 356.8 L831.5 356.5 L833.5 356.5 L835.5 356.9 L837.5 357.4 L839.5 358.1 L841.5 358.9 L843.5 359.6 L845.5 360.1 L847.5 360.5 L849.5 360.9 L851.5 361.3 L853.5 361.7 L855.5 362.0 L857.5 362.3 L859.5 362.5 L861.5 362.7 L863.5 362.8 L865.5 362.9 L867.5 363.0 L869.5 363.0 L871.5 363.1 L873.5 363.2 L875.5 363.2 L877.5 363.3 L879.5 363.3 L881.5 363.4 L883.5 363.4 L885.5 363.4 L887.5 363.5 L889.5 363.5 L891.5 363.5 L893.5 363.6 L895.5 363.6 L897.5 363.6 L899.5 363.7 L901.5 363.7 L903.5 363.8 L905.5 363.8 L907.5 363.9 L909.5 363.9 L911.5 364.0 L913.5 364.0 L915.5 364.1 L917.5 364.1 L919.5 364.2 L921.5 364.2 L923.5 364.2 L925.5 364.3 L927.5 364.3 L929.5 364.4 L931.5 364.4 L933.5 364.5 L935.5 364.5 L937.5 364.6 L939.5 364.6 L941.5 364.7 L943.5 364.7 L945.5 364.8 L947.5 364.8 L949.5 364.9 L951.5 364.9 L953.5 364.9 L955.5 365.0 L957.5 365.0 L959.5 365.1 L961.5 365.1 L963.5 365.1 L965.5 365.2 L967.5 365.2 L969.5 365.2 L971.5 365.2 L973.5 365.3 L975.5 365.3 L977.5 365.3 L979.5 365.3 L981.5 365.4 L983.5 365.4 L985.5 365.4 L987.5 365.4 L989.5 365.4 L991.5 365.4 L993.5 365.4 L995.5 365.4 L997.5 365.4 L999.5 365.4 L1001.5 365.4 L1003.5 365.4 L1005.5 365.4 L1007.5 365.4 L1009.5 365.4 L1011.5 365.4 L1013.5 365.4 L1015.5 365.4 L1017.5 365.4 L1019.5 365.4 L1021.5 365.4 L1023.5 365.4 L1025.5 365.4 L1027.5 365.4 L1029.5 365.4 L1031.5 365.4 L1033.5 365.4 L1035.5 365.4 L1037.5 365.4 L1039.5 365.4 L1041.5 365.4 L1043.5 365.4 L1045.5 365.4 L1047.5 365.4 L1049.5 365.4 L1051.5 365.4 L1053.5 365.4 L1055.5 365.4 L1057.5 365.4 L1059.5 365.4 L1061.5 365.4 L1063.5 365.4 L1065.5 365.4 L1067.5 365.4 L1069.5 365.4 L1071.5 365.4 L1073.5 365.4 L1075.5 365.4 L1077.5 365.4 L1079.5 365.4 L1081.5 365.4 L1083.5 365.4 L1085.5 365.4 L1087.5 365.4 L1089.5 365.4 L1091.5 365.4 L1093.5 365.4 L1095.5 365.4 L1097.5 365.4 L1099.5 365.4 L1101.5 365.4 L1103.5 365.4 L1105.5 365.4 L1107.5 365.5 L1109.5 365.5 L1111.5 365.5 L1113.5 365.5 L1115.5 365.5 L1117.5 365.5 L1119.5 365.5 L1121.5 365.5 L1123.5 365.6 L1125.5 365.6 L1127.5 365.6 L1129.5 365.6 L1131.5 365.6 L1133.5 365.7 L1135.5 365.7 L1137.5 365.7 L1139.5 365.7 L1141.5 365.7 L1143.5 365.8 L1145.5 365.8 L1147.5 365.8 L1149.5 365.8 L1151.5 365.8 L1153.5 365.9 L1155.5 365.9 L1157.5 365.9 L1159.5 365.9 L1161.5 365.9 L1163.5 366.0 L1165.5 366.0 L1167.5 366.0 L1169.5 366.1 L1171.5 366.1 L1173.5 366.2 L1175.5 366.2 L1177.5 366.2 L1179.5 366.3 L1181.5 366.3 L1183.5 366.4 L1185.5 366.4 L1187.5 366.5 L1189.5 366.5 L1191.5 366.6 L1193.5 366.6 L1195.5 366.7 L1197.5 366.7 L1199.5 366.8 L1201.5 366.8 L1203.5 366.9 L1205.5 366.9 L1207.5 367.0 L1209.5 367.0 L1211.5 367.1 L1213.5 367.1" fill="none" stroke="#BE6EDE" stroke-width="2.5" stroke-linejoin="round" shape-rendering="crispEdges"/><path d="M115.5 367.2 L116.5 367.4 L117.5 368.2 L118.5 367.3 L119.5 367.4 L120.5 367.6 L121.5 366.9 L122.5 367.5 L123.5 367.8 L124.5 368.2 L125.5 366.8 L126.5 367.3 L127.5 366.9 L128.5 368.3 L129.5 368.1 L130.5 366.9 L131.5 368.8 L132.5 368.8 L133.5 368.2 L134.5 368.2 L135.5 367.3 L136.5 367.0 L137.5 368.1 L138.5 367.2 L139.5 367.5 L140.5 367.6 L141.5 367.2 L142.5 368.1 L143.5 368.1 L144.5 368.9 L145.5 368.3 L146.5 368.6 L147.5 368.3 L148.5 368.7 L149.5 368.3 L150.5 368.0 L151.5 369.4 L152.5 369.4 L153.5 369.1 L154.5 368.9 L155.5 368.1 L156.5 367.9 L157.5 368.1 L158.5 367.6 L159.5 369.0 L160.5 368.3 L161.5 369.2 L162.5 368.3 L163.5 369.4 L164.5 369.2 L165.5 367.5 L166.5 367.9 L167.5 369.3 L168.5 368.4 L169.5 369.5 L170.5 368.3 L171.5 367.6 L172.5 368.8 L173.5 369.0 L174.5 368.0 L175.5 367.7 L176.5 368.2 L177.5 369.4 L178.5 369.0 L179.5 367.7 L180.5 368.0 L181.5 367.7 L182.5 367.6 L183.5 369.1 L184.5 367.8 L185.5 368.6 L186.5 368.4 L187.5 367.9 L188.5 368.9 L189.5 367.7 L190.5 368.8 L191.5 367.7 L192.5 368.3 L193.5 367.9 L194.5 368.0 L195.5 369.4 L196.5 369.1 L197.5 368.1 L198.5 369.2 L199.5 367.9 L200.5 368.2 L201.5 369.1 L202.5 368.7 L203.5 367.6 L204.5 369.4 L205.5 367.8 L206.5 367.9 L207.5 369.0 L208.5 368.1 L209.5 368.0 L210.5 367.6 L211.5 367.6 L212.5 368.6 L213.5 367.9 L214.5 368.6 L215.5 368.1 L216.5 368.3 L217.5 369.3 L218.5 368.3 L219.5 368.5 L220.5 369.1 L221.5 367.7 L222.5 367.7 L223.5 369.2 L224.5 369.0 L225.5 367.8 L226.5 367.7 L227.5 368.8 L228.5 369.2 L229.5 367.7 L230.5 369.2 L231.5 369.1 L232.5 368.5 L233.5 368.1 L234.5 367.5 L235.5 367.4 L236.5 369.2 L237.5 367.8 L238.5 368.7 L239.5 367.8 L240.5 368.9 L241.5 368.4 L242.5 367.8 L243.5 367.5 L244.5 368.6 L245.5 367.3 L246.5 367.6 L247.5 368.2 L248.5 368.8 L249.5 368.3 L250.5 367.6 L251.5 368.8 L252.5 367.4 L253.5 367.0 L254.5 367.5 L255.5 367.8 L256.5 367.0 L257.5 367.2 L258.5 367.5 L259.5 367.9 L260.5 367.0 L261.5 367.4 L262.5 368.4 L263.5 368.6 L264.5 367.9 L265.5 367.9 L266.5 367.7 L267.5 366.8 L268.5 366.5 L269.5 366.4 L270.5 368.2 L271.5 367.7 L272.5 368.2 L273.5 366.3 L274.5 367.5 L275.5 367.1 L276.5 367.6 L277.5 366.7 L278.5 368.0 L279.5 366.1 L280.5 367.0 L281.5 367.4 L282.5 367.7 L283.5 367.3 L284.5 367.2 L285.5 367.3 L286.5 367.5 L287.5 366.4 L288.5 367.0 L289.5 367.4 L290.5 367.3 L291.5 366.3 L292.5 367.0 L293.5 367.1 L294.5 366.5 L295.5 366.5 L296.5 366.0 L297.5 366.3 L298.5 366.3 L299.5 365.2 L300.5 366.3 L301.5 366.9 L302.5 366.6 L303.5 366.2 L304.5 365.5 L305.5 366.1 L306.5 365.7 L307.5 365.3 L308.5 366.0 L309.5 364.4 L310.5 365.6 L311.5 364.0 L312.5 365.0 L313.5 364.6 L314.5 363.9 L315.5 364.6 L316.5 364.0 L317.5 363.9 L318.5 364.3 L319.5 362.7 L320.5 361.9 L321.5 362.2 L322.5 362.6 L323.5 361.3 L324.5 360.9 L325.5 362.0 L326.5 361.0 L327.5 360.1 L328.5 360.4 L329.5 358.7 L330.5 358.7 L331.5 357.2 L332.5 357.0 L333.5 357.1 L334.5 356.7 L335.5 356.1 L336.5 354.6 L337.5 354.4 L338.5 353.2 L339.5 352.2 L340.5 352.3 L341.5 352.3 L342.5 351.7 L343.5 350.8 L344.5 350.8 L345.5 349.0 L346.5 348.4 L347.5 348.7 L348.5 348.3 L349.5 348.1 L350.5 348.5 L351.5 349.0 L352.5 348.7 L353.5 348.3 L354.5 349.4 L355.5 349.7 L356.5 348.6 L357.5 347.8 L358.5 347.8 L359.5 349.5 L360.5 348.1 L361.5 349.8 L362.5 350.0 L363.5 350.0 L364.5 351.5 L365.5 350.5 L366.5 351.1 L367.5 352.1 L368.5 351.4 L369.5 353.1 L370.5 352.0 L371.5 351.9 L372.5 351.7 L373.5 353.0 L374.5 352.6 L375.5 353.1 L376.5 353.1 L377.5 353.5 L378.5 353.8 L379.5 353.3 L380.5 352.3 L381.5 352.8 L382.5 352.2 L383.5 351.6 L384.5 352.3 L385.5 352.5 L386.5 351.0 L387.5 350.9 L388.5 350.7 L389.5 351.0 L390.5 350.4 L391.5 350.3 L392.5 350.5 L393.5 349.7 L394.5 350.5 L395.5 350.9 L396.5 349.4 L397.5 351.3 L398.5 351.2 L399.5 350.3 L400.5 351.3 L401.5 352.0 L402.5 352.9 L403.5 352.2 L404.5 352.9 L405.5 353.9 L406.5 354.2 L407.5 355.0 L408.5 354.5 L409.5 355.4 L410.5 355.0 L411.5 356.5 L412.5 357.2 L413.5 357.3 L414.5 357.9 L415.5 357.2 L416.5 358.9 L417.5 359.3 L418.5 359.6 L419.5 359.0 L420.5 359.8 L421.5 359.1 L422.5 360.5 L423.5 360.7 L424.5 359.9 L425.5 359.6 L426.5 360.5 L427.5 360.8 L428.5 361.4 L429.5 361.0 L430.5 360.1 L431.5 361.8 L432.5 360.3 L433.5 361.9 L434.5 360.7 L435.5 361.0 L436.5 362.0 L437.5 360.7 L438.5 360.8 L439.5 361.5 L440.5 362.0 L441.5 362.2 L442.5 362.0 L443.5 362.5 L444.5 361.6 L445.5 362.5 L446.5 360.8 L447.5 361.0 L448.5 361.6 L449.5 361.1 L450.5 362.0 L451.5 361.7 L452.5 361.5 L453.5 362.0 L454.5 361.4 L455.5 360.9 L456.5 360.9 L457.5 361.8 L458.5 361.8 L459.5 360.4 L460.5 361.6 L461.5 361.7 L462.5 360.7 L463.5 360.7 L464.5 359.9 L465.5 360.5 L466.5 360.3 L467.5 360.3 L468.5 359.0 L469.5 360.6 L470.5 359.4 L471.5 358.8 L472.5 359.3 L473.5 358.4 L474.5 357.9 L475.5 357.9 L476.5 356.2 L477.5 356.8 L478.5 356.2 L479.5 356.9 L480.5 356.6 L481.5 355.0 L482.5 355.2 L483.5 354.3 L484.5 354.7 L485.5 355.2 L486.5 355.2 L487.5 354.2 L488.5 353.7 L489.5 353.3 L490.5 354.0 L491.5 354.5 L492.5 352.8 L493.5 354.0 L494.5 352.4 L495.5 352.6 L496.5 352.6 L497.5 353.5 L498.5 352.7 L499.5 352.7 L500.5 353.2 L501.5 352.1 L502.5 353.2 L503.5 351.9 L504.5 352.6 L505.5 351.9 L506.5 351.7 L507.5 352.1 L508.5 351.6 L509.5 351.1 L510.5 350.7 L511.5 350.5 L512.5 349.2 L513.5 348.8 L514.5 349.1 L515.5 348.5 L516.5 347.7 L517.5 347.6 L518.5 346.4 L519.5 346.0 L520.5 343.8 L521.5 343.8 L522.5 342.8 L523.5 341.5 L524.5 338.8 L525.5 337.2 L526.5 336.8 L527.5 333.8 L528.5 333.9 L529.5 332.1 L530.5 328.8 L531.5 326.8 L532.5 324.9 L533.5 320.8 L534.5 317.1 L535.5 315.1 L536.5 310.5 L537.5 308.0 L538.5 304.0 L539.5 302.1 L540.5 300.5 L541.5 297.3 L542.5 295.8 L543.5 295.0 L544.5 294.1 L545.5 293.3 L546.5 291.0 L547.5 291.6 L548.5 293.0 L549.5 294.0 L550.5 296.0 L551.5 296.6 L552.5 298.1 L553.5 300.2 L554.5 302.5 L555.5 307.0 L556.5 311.4 L557.5 315.4 L558.5 317.8 L559.5 321.0 L560.5 323.9 L561.5 327.8 L562.5 330.6 L563.5 332.8 L564.5 333.3 L565.5 335.2 L566.5 339.0 L567.5 339.8 L568.5 342.2 L569.5 342.9 L570.5 344.6 L571.5 345.9 L572.5 346.9 L573.5 348.3 L574.5 348.1 L575.5 350.4 L576.5 351.4 L577.5 350.8 L578.5 352.0 L579.5 353.2 L580.5 353.1 L581.5 353.2 L582.5 353.6 L583.5 354.7 L584.5 354.0 L585.5 356.0 L586.5 356.1 L587.5 356.1 L588.5 356.5 L589.5 356.2 L590.5 355.9 L591.5 356.5 L592.5 356.4 L593.5 357.5 L594.5 357.2 L595.5 356.2 L596.5 357.7 L597.5 357.4 L598.5 357.6 L599.5 357.8 L600.5 357.1 L601.5 358.2 L602.5 358.2 L603.5 358.0 L604.5 358.2 L605.5 358.3 L606.5 357.7 L607.5 358.4 L608.5 357.2 L609.5 357.8 L610.5 358.2 L611.5 357.3 L612.5 358.1 L613.5 358.7 L614.5 358.8 L615.5 358.1 L616.5 359.6 L617.5 359.1 L618.5 358.6 L619.5 359.3 L620.5 359.2 L621.5 359.2 L622.5 359.0 L623.5 360.3 L624.5 359.7 L625.5 359.9 L626.5 360.1 L627.5 360.7 L628.5 358.9 L629.5 360.1 L630.5 360.5 L631.5 359.6 L632.5 360.0 L633.5 359.4 L634.5 359.8 L635.5 360.2 L636.5 359.7 L637.5 360.1 L638.5 361.5 L639.5 360.8 L640.5 360.8 L641.5 361.7 L642.5 360.9 L643.5 361.8 L644.5 361.1 L645.5 361.4 L646.5 359.9 L647.5 361.0 L648.5 361.3 L649.5 359.9 L650.5 361.6 L651.5 360.1 L652.5 360.7 L653.5 360.1 L654.5 360.8 L655.5 361.0 L656.5 359.9 L657.5 361.6 L658.5 360.6 L659.5 360.8 L660.5 360.9 L661.5 360.4 L662.5 360.3 L663.5 361.0 L664.5 360.8 L665.5 360.2 L666.5 361.1 L667.5 360.2 L668.5 359.7 L669.5 360.1 L670.5 359.7 L671.5 359.9 L672.5 361.1 L673.5 360.4 L674.5 361.4 L675.5 361.1 L676.5 359.6 L677.5 361.5 L678.5 361.4 L679.5 359.7 L680.5 361.3 L681.5 360.4 L682.5 360.4 L683.5 361.4 L684.5 360.0 L685.5 360.5 L686.5 361.3 L687.5 360.9 L688.5 360.4 L689.5 361.4 L690.5 361.1 L691.5 360.6 L692.5 359.6 L693.5 360.7 L694.5 360.3 L695.5 359.8 L696.5 359.5 L697.5 360.5 L698.5 359.6 L699.5 360.3 L700.5 360.7 L701.5 360.3 L702.5 359.9 L703.5 360.6 L704.5 360.3 L705.5 361.0 L706.5 360.5 L707.5 361.5 L708.5 361.4 L709.5 361.0 L710.5 360.0 L711.5 359.8 L712.5 361.4 L713.5 361.2 L714.5 360.9 L715.5 360.4 L716.5 360.2 L717.5 361.1 L718.5 360.9 L719.5 361.0 L720.5 361.1 L721.5 361.3 L722.5 360.3 L723.5 360.4 L724.5 361.9 L725.5 361.8 L726.5 361.8 L727.5 360.1 L728.5 360.2 L729.5 360.6 L730.5 361.0 L731.5 361.4 L732.5 360.4 L733.5 361.3 L734.5 360.4 L735.5 360.5 L736.5 361.7 L737.5 361.5 L738.5 361.7 L739.5 361.2 L740.5 361.4 L741.5 360.9 L742.5 361.2 L743.5 362.0 L744.5 362.2 L745.5 360.7 L746.5 360.8 L747.5 362.3 L748.5 361.9 L749.5 362.2 L750.5 361.2 L751.5 361.6 L752.5 361.3 L753.5 362.4 L754.5 361.6 L755.5 362.2 L756.5 362.9 L757.5 361.6 L758.5 362.1 L759.5 362.5 L760.5 362.9 L761.5 361.9 L762.5 361.9 L763.5 361.3 L764.5 362.9 L765.5 361.4 L766.5 361.4 L767.5 362.4 L768.5 362.3 L769.5 362.7 L770.5 362.0 L771.5 362.9 L772.5 361.6 L773.5 361.9 L774.5 362.8 L775.5 361.6 L776.5 362.1 L777.5 363.0 L778.5 362.9 L779.5 362.1 L780.5 361.8 L781.5 362.3 L782.5 363.0 L783.5 362.3 L784.5 361.8 L785.5 363.0 L786.5 362.7 L787.5 363.4 L788.5 363.5 L789.5 363.4 L790.5 362.4 L791.5 363.1 L792.5 362.0 L793.5 362.0 L794.5 362.1 L795.5 363.1 L796.5 362.9 L797.5 361.5 L798.5 361.6 L799.5 361.5 L800.5 361.4 L801.5 361.4 L802.5 361.3 L803.5 360.8 L804.5 361.4 L805.5 361.7 L806.5 361.1 L807.5 361.6 L808.5 360.9 L809.5 360.0 L810.5 361.1 L811.5 361.2 L812.5 359.8 L813.5 359.2 L814.5 360.0 L815.5 359.9 L816.5 359.7 L817.5 360.4 L818.5 359.6 L819.5 359.7 L820.5 358.0 L821.5 358.8 L822.5 359.0 L823.5 357.3 L824.5 357.1 L825.5 358.1 L826.5 358.2 L827.5 356.3 L828.5 357.2 L829.5 356.1 L830.5 357.1 L831.5 356.8 L832.5 356.0 L833.5 356.0 L834.5 357.2 L835.5 356.9 L836.5 357.6 L837.5 357.2 L838.5 357.4 L839.5 359.1 L840.5 358.9 L841.5 358.9 L842.5 359.3 L843.5 360.0 L844.5 360.3 L845.5 361.0 L846.5 360.2 L847.5 361.2 L848.5 361.1 L849.5 361.6 L850.5 361.7 L851.5 362.0 L852.5 362.3 L853.5 362.6 L854.5 362.1 L855.5 362.0 L856.5 362.5 L857.5 362.9 L858.5 362.2 L859.5 362.3 L860.5 361.9 L861.5 363.2 L862.5 363.7 L863.5 362.6 L864.5 362.2 L865.5 362.3 L866.5 362.8 L867.5 362.6 L868.5 364.0 L869.5 362.2 L870.5 362.7 L871.5 362.3 L872.5 363.4 L873.5 363.7 L874.5 362.6 L875.5 362.3 L876.5 363.2 L877.5 363.4 L878.5 364.1 L879.5 362.4 L880.5 362.6 L881.5 362.7 L882.5 362.8 L883.5 362.9 L884.5 363.9 L885.5 363.6 L886.5 362.9 L887.5 362.8 L888.5 363.1 L889.5 362.9 L890.5 364.0 L891.5 363.2 L892.5 363.7 L893.5 364.2 L894.5 363.6 L895.5 363.1 L896.5 364.4 L897.5 364.5 L898.5 363.4 L899.5 363.8 L900.5 364.6 L901.5 363.7 L902.5 363.2 L903.5 362.9 L904.5 364.7 L905.5 364.4 L906.5 363.6 L907.5 363.9 L908.5 363.9 L909.5 363.5 L910.5 364.9 L911.5 364.3 L912.5 363.5 L913.5 363.0 L914.5 364.0 L915.5 363.8 L916.5 364.7 L917.5 364.5 L918.5 364.3 L919.5 363.5 L920.5 363.5 L921.5 363.8 L922.5 363.7 L923.5 365.0 L924.5 364.3 L925.5 364.6 L926.5 365.3 L927.5 363.9 L928.5 364.4 L929.5 363.7 L930.5 365.0 L931.5 363.4 L932.5 365.1 L933.5 365.2 L934.5 365.2 L935.5 363.7 L936.5 364.1 L937.5 365.0 L938.5 363.8 L939.5 364.6 L940.5 364.6 L941.5 365.6 L942.5 364.9 L943.5 365.4 L944.5 364.4 L945.5 365.3 L946.5 364.6 L947.5 365.6 L948.5 364.0 L949.5 365.5 L950.5 364.3 L951.5 365.0 L952.5 365.0 L953.5 364.3 L954.5 365.6 L955.5 364.6 L956.5 364.6 L957.5 364.2 L958.5 364.6 L959.5 365.0 L960.5 365.5 L961.5 364.8 L962.5 365.5 L963.5 364.3 L964.5 364.9 L965.5 365.1 L966.5 366.1 L967.5 365.8 L968.5 365.5 L969.5 364.2 L970.5 365.0 L971.5 365.7 L972.5 364.7 L973.5 365.4 L974.5 365.2 L975.5 364.3 L976.5 366.3 L977.5 365.9 L978.5 364.7 L979.5 365.6 L980.5 364.9 L981.5 365.1 L982.5 365.4 L983.5 365.0 L984.5 365.0 L985.5 365.2 L986.5 365.7 L987.5 364.9 L988.5 364.8 L989.5 365.9 L990.5 365.1 L991.5 366.3 L992.5 365.5 L993.5 365.8 L994.5 365.1 L995.5 366.1 L996.5 364.6 L997.5 364.7 L998.5 364.6 L999.5 365.8 L1000.5 365.8 L1001.5 364.8 L1002.5 365.2 L1003.5 366.1 L1004.5 365.6 L1005.5 364.6 L1006.5 364.9 L1007.5 364.7 L1008.5 364.6 L1009.5 365.2 L1010.5 364.5 L1011.5 366.2 L1012.5 365.3 L1013.5 365.4 L1014.5 365.7 L1015.5 365.9 L1016.5 366.0 L1017.5 365.2 L1018.5 365.1 L1019.5 365.2 L1020.5 364.4 L1021.5 365.2 L1022.5 365.8 L1023.5 366.4 L1024.5 366.0 L1025.5 365.7 L1026.5 365.6 L1027.5 364.4 L1028.5 365.1 L1029.5 365.1 L1030.5 365.7 L1031.5 364.6 L1032.5 365.2 L1033.5 365.4 L1034.5 366.0 L1035.5 366.1 L1036.5 365.6 L1037.5 364.7 L1038.5 365.9 L1039.5 366.2 L1040.5 365.5 L1041.5 365.1 L1042.5 365.4 L1043.5 364.7 L1044.5 365.8 L1045.5 366.4 L1046.5 365.4 L1047.5 365.8 L1048.5 366.1 L1049.5 364.8 L1050.5 366.3 L1051.5 365.7 L1052.5 364.8 L1053.5 364.6 L1054.5 364.9 L1055.5 365.6 L1056.5 365.8 L1057.5 365.1 L1058.5 366.3 L1059.5 365.1 L1060.5 365.3 L1061.5 364.6 L1062.5 366.3 L1063.5 364.7 L1064.5 366.2 L1065.5 365.5 L1066.5 365.5 L1067.5 365.5 L1068.5 364.9 L1069.5 366.2 L1070.5 366.4 L1071.5 366.0 L1072.5 365.6 L1073.5 364.6 L1074.5 366.0 L1075.5 365.0 L1076.5 366.2 L1077.5 364.9 L1078.5 365.5 L1079.5 366.1 L1080.5 364.8 L1081.5 365.5 L1082.5 364.6 L1083.5 364.5 L1084.5 364.8 L1085.5 366.4 L1086.5 366.3 L1087.5 365.7 L1088.5 365.0 L1089.5 365.7 L1090.5 365.9 L1091.5 365.2 L1092.5 365.6 L1093.5 366.0 L1094.5 364.4 L1095.5 364.8 L1096.5 365.3 L1097.5 364.7 L1098.5 365.2 L1099.5 365.6 L1100.5 364.8 L1101.5 365.5 L1102.5 365.0 L1103.5 365.6 L1104.5 365.1 L1105.5 365.7 L1106.5 364.5 L1107.5 365.8 L1108.5 364.8 L1109.5 366.4 L1110.5 365.7 L1111.5 365.4 L1112.5 365.3 L1113.5 365.7 L1114.5 365.9 L1115.5 366.0 L1116.5 366.0 L1117.5 365.5 L1118.5 366.5 L1119.5 366.2 L1120.5 366.2 L1121.5 365.4 L1122.5 365.4 L1123.5 365.7 L1124.5 366.4 L1125.5 365.6 L1126.5 365.6 L1127.5 365.5 L1128.5 366.4 L1129.5 365.3 L1130.5 364.7 L1131.5 366.1 L1132.5 366.4 L1133.5 366.1 L1134.5 365.9 L1135.5 366.2 L1136.5 365.3 L1137.5 365.9 L1138.5 364.8 L1139.5 365.0 L1140.5 365.6 L1141.5 365.7 L1142.5 365.5 L1143.5 364.9 L1144.5 366.2 L1145.5 365.8 L1146.5 365.3 L1147.5 365.4 L1148.5 365.6 L1149.5 365.3 L1150.5 365.0 L1151.5 366.7 L1152.5 366.8 L1153.5 366.2 L1154.5 366.6 L1155.5 365.7 L1156.5 366.5 L1157.5 365.3 L1158.5 366.4 L1159.5 366.1 L1160.5 366.7 L1161.5 365.1 L1162.5 366.5 L1163.5 365.2 L1164.5 366.1 L1165.5 366.9 L1166.5 365.0 L1167.5 365.5 L1168.5 365.7 L1169.5 365.7 L1170.5 365.2 L1171.5 366.9 L1172.5 366.8 L1173.5 366.0 L1174.5 365.9 L1175.5 366.4 L1176.5 365.3 L1177.5 365.3 L1178.5 367.1 L1179.5 365.9 L1180.5 366.3 L1181.5 367.2 L1182.5 367.3 L1183.5 366.3 L1184.5 365.8 L1185.5 366.0 L1186.5 367.3 L1187.5 367.3 L1188.5 365.9 L1189.5 367.2 L1190.5 366.3 L1191.5 366.5 L1192.5 365.9 L1193.5 367.4 L1194.5 367.6 L1195.5 366.1 L1196.5 367.0 L1197.5 366.1 L1198.5 367.5 L1199.5 365.9 L1200.5 366.0 L1201.5 367.3 L1202.5 366.5 L1203.5 367.7 L1204.5 367.6 L1205.5 367.3 L1206.5 366.2 L1207.5 367.4 L1208.5 367.9 L1209.5 366.9 L1210.5 366.2 L1211.5 366.5 L1212.5 366.7 L1213.5 367.5" fill="none" stroke="#BE6EDE" stroke-width="2.3" stroke-linejoin="round" shape-rendering="crispEdges"/><path d="M115.0 273.9 L117.0 273.9 L119.0 273.9 L121.0 273.9 L123.0 274.0 L125.0 274.0 L127.0 274.0 L129.0 274.0 L131.0 274.0 L133.0 274.0 L135.0 274.1 L137.0 274.1 L139.0 274.1 L141.0 274.1 L143.0 274.1 L145.0 274.2 L147.0 274.2 L149.0 274.2 L151.0 274.2 L153.0 274.2 L155.0 274.2 L157.0 274.3 L159.0 274.3 L161.0 274.3 L163.0 274.3 L165.0 274.3 L167.0 274.3 L169.0 274.3 L171.0 274.4 L173.0 274.4 L175.0 274.4 L177.0 274.4 L179.0 274.4 L181.0 274.4 L183.0 274.4 L185.0 274.4 L187.0 274.4 L189.0 274.4 L191.0 274.4 L193.0 274.4 L195.0 274.4 L197.0 274.4 L199.0 274.4 L201.0 274.4 L203.0 274.4 L205.0 274.3 L207.0 274.3 L209.0 274.3 L211.0 274.3 L213.0 274.3 L215.0 274.3 L217.0 274.2 L219.0 274.2 L221.0 274.2 L223.0 274.2 L225.0 274.2 L227.0 274.1 L229.0 274.1 L231.0 274.1 L233.0 274.0 L235.0 274.0 L237.0 274.0 L239.0 274.0 L241.0 273.9 L243.0 273.9 L245.0 273.9 L247.0 273.8 L249.0 273.7 L251.0 273.7 L253.0 273.6 L255.0 273.5 L257.0 273.4 L259.0 273.3 L261.0 273.2 L263.0 273.0 L265.0 272.9 L267.0 272.8 L269.0 272.7 L271.0 272.5 L273.0 272.4 L275.0 272.3 L277.0 272.2 L279.0 272.1 L281.0 271.9 L283.0 271.8 L285.0 271.8 L287.0 271.7 L289.0 271.5 L291.0 271.4 L293.0 271.2 L295.0 271.0 L297.0 270.8 L299.0 270.5 L301.0 270.2 L303.0 269.9 L305.0 269.5 L307.0 269.1 L309.0 268.5 L311.0 268.0 L313.0 267.3 L315.0 266.6 L317.0 265.8 L319.0 264.8 L321.0 263.7 L323.0 262.6 L325.0 261.4 L327.0 260.0 L329.0 258.5 L331.0 257.0 L333.0 255.5 L335.0 253.8 L337.0 252.1 L339.0 250.5 L341.0 248.8 L343.0 247.1 L345.0 246.0 L347.0 245.3 L349.0 244.9 L351.0 245.0 L353.0 245.5 L355.0 246.0 L357.0 247.0 L359.0 248.1 L361.0 249.1 L363.0 249.8 L365.0 250.5 L367.0 251.1 L369.0 251.4 L371.0 251.4 L373.0 251.2 L375.0 250.9 L377.0 250.5 L379.0 249.8 L381.0 248.7 L383.0 247.5 L385.0 246.6 L387.0 245.8 L389.0 245.3 L391.0 245.4 L393.0 245.6 L395.0 246.1 L397.0 247.6 L399.0 249.6 L401.0 251.1 L403.0 252.6 L405.0 254.1 L407.0 255.6 L409.0 257.2 L411.0 258.9 L413.0 260.4 L415.0 261.4 L417.0 262.1 L419.0 262.7 L421.0 263.2 L423.0 263.6 L425.0 263.9 L427.0 264.1 L429.0 264.3 L431.0 264.5 L433.0 264.6 L435.0 264.8 L437.0 264.9 L439.0 265.0 L441.0 265.0 L443.0 264.9 L445.0 264.8 L447.0 264.7 L449.0 264.5 L451.0 264.3 L453.0 264.1 L455.0 263.9 L457.0 263.7 L459.0 263.4 L461.0 263.0 L463.0 262.6 L465.0 262.1 L467.0 261.4 L469.0 260.2 L471.0 258.5 L473.0 256.8 L475.0 255.2 L477.0 253.6 L479.0 251.9 L481.0 250.5 L483.0 249.2 L485.0 248.1 L487.0 247.6 L489.0 247.8 L491.0 248.1 L493.0 248.8 L495.0 249.7 L497.0 250.3 L499.0 250.8 L501.0 250.9 L503.0 250.6 L505.0 250.1 L507.0 249.3 L509.0 248.1 L511.0 245.2 L513.0 242.1 L515.0 239.0 L517.0 235.7 L519.0 232.5 L521.0 228.7 L523.0 223.6 L525.0 216.6 L527.0 208.2 L529.0 198.7 L531.0 188.8 L533.0 176.5 L535.0 164.3 L537.0 156.4 L539.0 152.3 L541.0 146.5 L543.0 144.2 L545.0 146.6 L547.0 150.9 L549.0 157.8 L551.0 168.2 L553.0 179.3 L555.0 190.4 L557.0 204.0 L559.0 213.5 L561.0 222.4 L563.0 231.2 L565.0 237.3 L567.0 241.8 L569.0 245.9 L571.0 249.6 L573.0 251.9 L575.0 253.6 L577.0 255.0 L579.0 256.2 L581.0 257.2 L583.0 258.1 L585.0 258.8 L587.0 259.4 L589.0 259.9 L591.0 260.4 L593.0 260.8 L595.0 261.2 L597.0 261.5 L599.0 261.9 L601.0 262.2 L603.0 262.6 L605.0 262.9 L607.0 263.2 L609.0 263.5 L611.0 263.8 L613.0 264.1 L615.0 264.4 L617.0 264.6 L619.0 264.9 L621.0 265.1 L623.0 265.4 L625.0 265.6 L627.0 265.9 L629.0 266.1 L631.0 266.4 L633.0 266.6 L635.0 266.8 L637.0 267.0 L639.0 267.1 L641.0 267.2 L643.0 267.3 L645.0 267.3 L647.0 267.2 L649.0 267.0 L651.0 266.8 L653.0 266.6 L655.0 266.3 L657.0 265.9 L659.0 265.6 L661.0 265.3 L663.0 265.0 L665.0 264.7 L667.0 264.5 L669.0 264.3 L671.0 264.2 L673.0 264.2 L675.0 264.2 L677.0 264.2 L679.0 264.3 L681.0 264.3 L683.0 264.4 L685.0 264.4 L687.0 264.5 L689.0 264.5 L691.0 264.6 L693.0 264.7 L695.0 264.7 L697.0 264.8 L699.0 264.9 L701.0 264.9 L703.0 265.0 L705.0 265.0 L707.0 265.1 L709.0 265.1 L711.0 265.1 L713.0 265.1 L715.0 265.1 L717.0 265.1 L719.0 265.2 L721.0 265.2 L723.0 265.2 L725.0 265.2 L727.0 265.2 L729.0 265.2 L731.0 265.2 L733.0 265.2 L735.0 265.2 L737.0 265.2 L739.0 265.2 L741.0 265.2 L743.0 265.2 L745.0 265.3 L747.0 265.3 L749.0 265.3 L751.0 265.4 L753.0 265.5 L755.0 265.7 L757.0 266.0 L759.0 266.3 L761.0 266.6 L763.0 267.0 L765.0 267.3 L767.0 267.6 L769.0 267.9 L771.0 268.2 L773.0 268.3 L775.0 268.4 L777.0 268.4 L779.0 268.3 L781.0 268.2 L783.0 268.1 L785.0 267.9 L787.0 267.7 L789.0 267.4 L791.0 267.1 L793.0 266.8 L795.0 266.4 L797.0 265.7 L799.0 264.8 L801.0 263.9 L803.0 262.9 L805.0 261.9 L807.0 260.7 L809.0 259.4 L811.0 258.2 L813.0 257.2 L815.0 256.7 L817.0 256.3 L819.0 256.1 L821.0 255.8 L823.0 255.4 L825.0 254.6 L827.0 252.9 L829.0 251.2 L831.0 250.9 L833.0 251.7 L835.0 253.0 L837.0 254.8 L839.0 257.4 L841.0 259.6 L843.0 260.5 L845.0 261.3 L847.0 261.9 L849.0 262.5 L851.0 262.9 L853.0 263.3 L855.0 263.6 L857.0 263.8 L859.0 264.1 L861.0 264.3 L863.0 264.5 L865.0 264.6 L867.0 264.8 L869.0 264.9 L871.0 265.1 L873.0 265.2 L875.0 265.3 L877.0 265.5 L879.0 265.6 L881.0 265.7 L883.0 265.8 L885.0 265.9 L887.0 266.0 L889.0 266.1 L891.0 266.2 L893.0 266.3 L895.0 266.4 L897.0 266.5 L899.0 266.6 L901.0 266.6 L903.0 266.7 L905.0 266.8 L907.0 266.9 L909.0 267.0 L911.0 267.1 L913.0 267.1 L915.0 267.2 L917.0 267.3 L919.0 267.4 L921.0 267.5 L923.0 267.6 L925.0 267.6 L927.0 267.7 L929.0 267.8 L931.0 267.9 L933.0 267.9 L935.0 268.0 L937.0 268.0 L939.0 268.1 L941.0 268.2 L943.0 268.2 L945.0 268.3 L947.0 268.3 L949.0 268.3 L951.0 268.4 L953.0 268.4 L955.0 268.4 L957.0 268.4 L959.0 268.4 L961.0 268.4 L963.0 268.4 L965.0 268.3 L967.0 268.3 L969.0 268.2 L971.0 268.1 L973.0 268.1 L975.0 268.0 L977.0 267.9 L979.0 267.8 L981.0 267.7 L983.0 267.6 L985.0 267.5 L987.0 267.4 L989.0 267.3 L991.0 267.2 L993.0 267.1 L995.0 267.0 L997.0 266.9 L999.0 266.8 L1001.0 266.7 L1003.0 266.7 L1005.0 266.6 L1007.0 266.6 L1009.0 266.5 L1011.0 266.5 L1013.0 266.5 L1015.0 266.5 L1017.0 266.6 L1019.0 266.7 L1021.0 266.8 L1023.0 266.9 L1025.0 267.0 L1027.0 267.1 L1029.0 267.3 L1031.0 267.4 L1033.0 267.6 L1035.0 267.8 L1037.0 267.9 L1039.0 268.1 L1041.0 268.2 L1043.0 268.3 L1045.0 268.4 L1047.0 268.5 L1049.0 268.6 L1051.0 268.6 L1053.0 268.6 L1055.0 268.6 L1057.0 268.5 L1059.0 268.5 L1061.0 268.4 L1063.0 268.3 L1065.0 268.2 L1067.0 268.0 L1069.0 267.9 L1071.0 267.8 L1073.0 267.7 L1075.0 267.5 L1077.0 267.4 L1079.0 267.3 L1081.0 267.2 L1083.0 267.1 L1085.0 267.1 L1087.0 267.0 L1089.0 267.0 L1091.0 267.0 L1093.0 267.0 L1095.0 267.0 L1097.0 267.1 L1099.0 267.1 L1101.0 267.2 L1103.0 267.2 L1105.0 267.3 L1107.0 267.3 L1109.0 267.4 L1111.0 267.5 L1113.0 267.6 L1115.0 267.6 L1117.0 267.7 L1119.0 267.8 L1121.0 267.9 L1123.0 268.0 L1125.0 268.1 L1127.0 268.1 L1129.0 268.2 L1131.0 268.3 L1133.0 268.4 L1135.0 268.4 L1137.0 268.5 L1139.0 268.6 L1141.0 268.6 L1143.0 268.7 L1145.0 268.8 L1147.0 268.9 L1149.0 268.9 L1151.0 269.0 L1153.0 269.1 L1155.0 269.1 L1157.0 269.2 L1159.0 269.3 L1161.0 269.4 L1163.0 269.4 L1165.0 269.5 L1167.0 269.6 L1169.0 269.6 L1171.0 269.7 L1173.0 269.8 L1175.0 269.8 L1177.0 269.9 L1179.0 269.9 L1181.0 270.0 L1183.0 270.1 L1185.0 270.1 L1187.0 270.1 L1189.0 270.2 L1191.0 270.2 L1193.0 270.3 L1195.0 270.3 L1197.0 270.4 L1199.0 270.4 L1201.0 270.4 L1203.0 270.5 L1205.0 270.5 L1207.0 270.6 L1209.0 270.6 L1211.0 270.6 L1213.0 270.7 L1213.5 270.7" fill="none" stroke="#DC9700" stroke-width="2.5" stroke-linejoin="round" shape-rendering="crispEdges"/><path d="M115.0 273.8 L116.0 274.2 L117.0 274.2 L118.0 273.2 L119.0 273.0 L120.0 273.7 L121.0 273.5 L122.0 274.6 L123.0 274.3 L124.0 274.2 L125.0 274.1 L126.0 274.3 L127.0 273.3 L128.0 273.9 L129.0 273.3 L130.0 274.8 L131.0 273.1 L132.0 274.7 L133.0 273.2 L134.0 274.4 L135.0 273.7 L136.0 273.9 L137.0 274.8 L138.0 273.1 L139.0 273.2 L140.0 274.9 L141.0 274.1 L142.0 273.3 L143.0 275.1 L144.0 275.0 L145.0 273.4 L146.0 274.0 L147.0 273.4 L148.0 273.8 L149.0 274.4 L150.0 273.5 L151.0 274.6 L152.0 273.3 L153.0 273.6 L154.0 274.9 L155.0 274.0 L156.0 274.1 L157.0 274.5 L158.0 274.2 L159.0 274.0 L160.0 273.3 L161.0 274.7 L162.0 275.2 L163.0 275.3 L164.0 274.6 L165.0 274.0 L166.0 274.1 L167.0 274.7 L168.0 274.7 L169.0 273.6 L170.0 273.8 L171.0 274.1 L172.0 274.4 L173.0 275.0 L174.0 274.4 L175.0 273.4 L176.0 275.0 L177.0 274.2 L178.0 274.4 L179.0 273.8 L180.0 274.2 L181.0 274.2 L182.0 274.9 L183.0 273.6 L184.0 274.5 L185.0 273.8 L186.0 274.8 L187.0 273.5 L188.0 274.0 L189.0 274.1 L190.0 274.7 L191.0 273.5 L192.0 274.3 L193.0 273.8 L194.0 274.0 L195.0 274.3 L196.0 275.3 L197.0 274.3 L198.0 275.3 L199.0 273.7 L200.0 275.2 L201.0 274.1 L202.0 273.7 L203.0 274.8 L204.0 275.2 L205.0 273.4 L206.0 273.9 L207.0 274.9 L208.0 274.0 L209.0 273.8 L210.0 273.3 L211.0 273.4 L212.0 274.5 L213.0 275.2 L214.0 275.3 L215.0 274.3 L216.0 273.3 L217.0 273.9 L218.0 274.8 L219.0 274.9 L220.0 274.5 L221.0 273.7 L222.0 274.2 L223.0 274.1 L224.0 274.4 L225.0 273.7 L226.0 275.0 L227.0 274.9 L228.0 273.4 L229.0 273.7 L230.0 274.8 L231.0 273.6 L232.0 275.0 L233.0 274.1 L234.0 274.4 L235.0 274.4 L236.0 273.4 L237.0 273.6 L238.0 273.5 L239.0 274.3 L240.0 274.3 L241.0 273.2 L242.0 274.7 L243.0 273.7 L244.0 273.4 L245.0 273.7 L246.0 274.8 L247.0 273.9 L248.0 274.0 L249.0 274.6 L250.0 274.6 L251.0 274.2 L252.0 273.5 L253.0 273.8 L254.0 274.3 L255.0 274.1 L256.0 273.6 L257.0 273.1 L258.0 273.1 L259.0 273.7 L260.0 273.3 L261.0 272.2 L262.0 273.5 L263.0 273.8 L264.0 273.6 L265.0 273.7 L266.0 273.7 L267.0 272.9 L268.0 273.3 L269.0 272.4 L270.0 271.8 L271.0 272.2 L272.0 272.1 L273.0 273.3 L274.0 272.7 L275.0 272.4 L276.0 272.5 L277.0 271.4 L278.0 272.2 L279.0 272.5 L280.0 271.8 L281.0 271.4 L282.0 271.7 L283.0 271.5 L284.0 272.2 L285.0 271.0 L286.0 270.9 L287.0 271.3 L288.0 272.0 L289.0 272.1 L290.0 271.8 L291.0 272.3 L292.0 271.1 L293.0 270.3 L294.0 271.1 L295.0 270.9 L296.0 270.3 L297.0 271.1 L298.0 270.4 L299.0 270.0 L300.0 270.0 L301.0 271.1 L302.0 269.0 L303.0 269.6 L304.0 269.2 L305.0 268.9 L306.0 269.1 L307.0 268.5 L308.0 269.6 L309.0 268.6 L310.0 268.7 L311.0 267.3 L312.0 267.6 L313.0 267.5 L314.0 267.7 L315.0 266.1 L316.0 266.2 L317.0 266.5 L318.0 266.0 L319.0 264.3 L320.0 264.4 L321.0 264.3 L322.0 263.0 L323.0 262.9 L324.0 262.3 L325.0 262.3 L326.0 260.8 L327.0 260.4 L328.0 259.0 L329.0 259.0 L330.0 257.4 L331.0 257.0 L332.0 256.0 L333.0 255.1 L334.0 253.9 L335.0 253.3 L336.0 253.1 L337.0 251.6 L338.0 250.4 L339.0 251.1 L340.0 249.2 L341.0 249.7 L342.0 248.1 L343.0 246.9 L344.0 247.2 L345.0 246.8 L346.0 245.3 L347.0 244.6 L348.0 245.4 L349.0 245.6 L350.0 245.1 L351.0 245.6 L352.0 245.0 L353.0 245.7 L354.0 245.3 L355.0 245.8 L356.0 246.2 L357.0 246.8 L358.0 247.4 L359.0 248.8 L360.0 248.0 L361.0 248.5 L362.0 249.0 L363.0 250.8 L364.0 250.2 L365.0 249.6 L366.0 251.5 L367.0 251.9 L368.0 251.9 L369.0 251.1 L370.0 251.9 L371.0 251.0 L372.0 250.5 L373.0 251.9 L374.0 251.7 L375.0 250.3 L376.0 251.4 L377.0 249.5 L378.0 249.8 L379.0 248.8 L380.0 248.6 L381.0 248.0 L382.0 248.5 L383.0 247.1 L384.0 246.4 L385.0 246.0 L386.0 245.8 L387.0 246.5 L388.0 245.7 L389.0 244.5 L390.0 245.7 L391.0 245.4 L392.0 245.4 L393.0 245.7 L394.0 246.1 L395.0 246.7 L396.0 246.8 L397.0 247.9 L398.0 248.6 L399.0 249.8 L400.0 250.1 L401.0 251.0 L402.0 251.9 L403.0 253.0 L404.0 252.9 L405.0 254.9 L406.0 254.8 L407.0 256.3 L408.0 256.8 L409.0 258.1 L410.0 258.5 L411.0 258.8 L412.0 259.5 L413.0 260.6 L414.0 261.5 L415.0 262.1 L416.0 261.0 L417.0 261.3 L418.0 261.7 L419.0 261.9 L420.0 262.1 L421.0 262.3 L422.0 262.9 L423.0 262.8 L424.0 264.1 L425.0 264.1 L426.0 264.9 L427.0 265.0 L428.0 264.7 L429.0 265.2 L430.0 263.5 L431.0 263.9 L432.0 265.4 L433.0 264.6 L434.0 264.1 L435.0 265.3 L436.0 264.7 L437.0 265.0 L438.0 264.6 L439.0 264.5 L440.0 264.2 L441.0 265.2 L442.0 265.9 L443.0 265.9 L444.0 265.4 L445.0 265.7 L446.0 264.5 L447.0 264.3 L448.0 265.4 L449.0 264.7 L450.0 264.8 L451.0 263.3 L452.0 263.7 L453.0 264.1 L454.0 264.5 L455.0 264.6 L456.0 264.3 L457.0 263.3 L458.0 263.3 L459.0 264.1 L460.0 264.2 L461.0 263.0 L462.0 262.2 L463.0 262.8 L464.0 262.4 L465.0 261.8 L466.0 261.3 L467.0 261.2 L468.0 261.1 L469.0 259.5 L470.0 259.5 L471.0 259.4 L472.0 258.1 L473.0 256.3 L474.0 255.8 L475.0 254.4 L476.0 254.9 L477.0 253.8 L478.0 252.1 L479.0 252.0 L480.0 251.4 L481.0 250.6 L482.0 249.6 L483.0 248.9 L484.0 248.3 L485.0 249.0 L486.0 247.3 L487.0 247.6 L488.0 247.6 L489.0 247.1 L490.0 247.7 L491.0 247.5 L492.0 248.0 L493.0 248.5 L494.0 249.0 L495.0 250.6 L496.0 249.6 L497.0 250.0 L498.0 250.9 L499.0 250.5 L500.0 250.9 L501.0 251.2 L502.0 250.0 L503.0 251.0 L504.0 249.6 L505.0 249.6 L506.0 250.3 L507.0 250.2 L508.0 249.1 L509.0 247.5 L510.0 246.7 L511.0 244.7 L512.0 244.3 L513.0 241.6 L514.0 240.0 L515.0 239.3 L516.0 237.6 L517.0 235.9 L518.0 234.1 L519.0 233.4 L520.0 230.6 L521.0 229.6 L522.0 226.2 L523.0 223.5 L524.0 220.0 L525.0 217.0 L526.0 213.2 L527.0 207.6 L528.0 203.4 L529.0 199.1 L530.0 193.9 L531.0 189.1 L532.0 183.0 L533.0 176.9 L534.0 170.2 L535.0 163.9 L536.0 158.4 L537.0 157.2 L538.0 154.8 L539.0 152.1 L540.0 151.0 L541.0 147.3 L542.0 143.1 L543.0 144.8 L544.0 145.1 L545.0 146.3 L546.0 147.9 L547.0 150.7 L548.0 153.2 L549.0 156.9 L550.0 161.6 L551.0 167.8 L552.0 173.4 L553.0 178.5 L554.0 185.2 L555.0 190.2 L556.0 197.4 L557.0 204.2 L558.0 209.9 L559.0 212.8 L560.0 217.2 L561.0 223.1 L562.0 227.9 L563.0 232.1 L564.0 234.7 L565.0 237.0 L566.0 239.0 L567.0 242.6 L568.0 244.4 L569.0 246.0 L570.0 248.5 L571.0 249.1 L572.0 250.9 L573.0 252.7 L574.0 252.0 L575.0 253.9 L576.0 253.7 L577.0 255.7 L578.0 256.3 L579.0 256.5 L580.0 256.6 L581.0 256.3 L582.0 257.7 L583.0 257.8 L584.0 258.3 L585.0 258.0 L586.0 260.0 L587.0 259.5 L588.0 259.8 L589.0 260.6 L590.0 260.9 L591.0 260.5 L592.0 260.7 L593.0 261.5 L594.0 260.7 L595.0 262.0 L596.0 260.4 L597.0 262.1 L598.0 261.8 L599.0 262.1 L600.0 263.0 L601.0 261.7 L602.0 262.2 L603.0 263.2 L604.0 263.2 L605.0 263.0 L606.0 263.6 L607.0 263.6 L608.0 264.1 L609.0 263.8 L610.0 263.4 L611.0 263.4 L612.0 263.1 L613.0 263.4 L614.0 263.3 L615.0 265.3 L616.0 263.8 L617.0 264.8 L618.0 264.0 L619.0 265.8 L620.0 265.1 L621.0 264.5 L622.0 265.9 L623.0 266.1 L624.0 266.5 L625.0 265.1 L626.0 265.6 L627.0 266.2 L628.0 265.6 L629.0 266.3 L630.0 266.7 L631.0 266.9 L632.0 267.2 L633.0 267.1 L634.0 266.3 L635.0 267.3 L636.0 266.8 L637.0 266.3 L638.0 266.1 L639.0 267.4 L640.0 266.9 L641.0 266.4 L642.0 267.3 L643.0 267.1 L644.0 267.0 L645.0 267.4 L646.0 267.3 L647.0 267.3 L648.0 268.1 L649.0 267.8 L650.0 266.5 L651.0 267.6 L652.0 266.3 L653.0 267.4 L654.0 265.5 L655.0 265.9 L656.0 267.0 L657.0 266.3 L658.0 266.2 L659.0 265.0 L660.0 264.7 L661.0 266.2 L662.0 264.3 L663.0 264.3 L664.0 264.7 L665.0 265.4 L666.0 265.0 L667.0 265.5 L668.0 265.0 L669.0 264.2 L670.0 265.1 L671.0 263.9 L672.0 263.3 L673.0 265.1 L674.0 265.0 L675.0 264.5 L676.0 264.2 L677.0 263.6 L678.0 263.7 L679.0 263.4 L680.0 263.5 L681.0 264.3 L682.0 265.1 L683.0 265.2 L684.0 264.4 L685.0 264.8 L686.0 264.4 L687.0 265.0 L688.0 264.9 L689.0 265.5 L690.0 265.3 L691.0 265.0 L692.0 264.8 L693.0 264.0 L694.0 264.7 L695.0 264.6 L696.0 264.1 L697.0 264.2 L698.0 264.7 L699.0 264.2 L700.0 265.2 L701.0 264.6 L702.0 265.9 L703.0 265.4 L704.0 265.0 L705.0 264.9 L706.0 264.8 L707.0 264.5 L708.0 266.0 L709.0 265.9 L710.0 265.4 L711.0 265.4 L712.0 264.4 L713.0 265.2 L714.0 264.5 L715.0 264.8 L716.0 265.3 L717.0 264.5 L718.0 264.6 L719.0 265.6 L720.0 265.1 L721.0 265.9 L722.0 264.5 L723.0 264.3 L724.0 266.1 L725.0 265.4 L726.0 265.6 L727.0 265.3 L728.0 264.5 L729.0 266.1 L730.0 265.2 L731.0 266.0 L732.0 264.5 L733.0 264.8 L734.0 265.3 L735.0 264.7 L736.0 265.9 L737.0 264.7 L738.0 264.4 L739.0 264.6 L740.0 264.8 L741.0 266.1 L742.0 266.0 L743.0 265.6 L744.0 265.1 L745.0 264.3 L746.0 265.9 L747.0 264.5 L748.0 264.7 L749.0 265.2 L750.0 266.0 L751.0 264.7 L752.0 264.5 L753.0 266.3 L754.0 264.6 L755.0 266.2 L756.0 265.1 L757.0 265.6 L758.0 265.6 L759.0 266.2 L760.0 267.3 L761.0 267.3 L762.0 266.9 L763.0 266.2 L764.0 266.5 L765.0 266.9 L766.0 268.1 L767.0 268.5 L768.0 266.8 L769.0 267.6 L770.0 269.0 L771.0 267.5 L772.0 267.4 L773.0 267.8 L774.0 269.1 L775.0 267.9 L776.0 268.8 L777.0 267.6 L778.0 268.7 L779.0 267.7 L780.0 268.5 L781.0 268.7 L782.0 268.9 L783.0 267.9 L784.0 268.9 L785.0 267.7 L786.0 268.7 L787.0 268.5 L788.0 268.5 L789.0 266.6 L790.0 266.8 L791.0 267.5 L792.0 267.7 L793.0 266.3 L794.0 267.2 L795.0 266.3 L796.0 265.1 L797.0 264.9 L798.0 264.3 L799.0 264.3 L800.0 265.2 L801.0 264.3 L802.0 264.1 L803.0 263.8 L804.0 262.2 L805.0 262.3 L806.0 261.7 L807.0 261.1 L808.0 259.3 L809.0 260.2 L810.0 258.1 L811.0 258.1 L812.0 258.0 L813.0 257.7 L814.0 257.6 L815.0 256.3 L816.0 256.1 L817.0 256.8 L818.0 255.3 L819.0 256.8 L820.0 255.6 L821.0 255.6 L822.0 255.2 L823.0 255.8 L824.0 254.5 L825.0 253.9 L826.0 252.9 L827.0 252.1 L828.0 252.2 L829.0 252.2 L830.0 249.9 L831.0 250.8 L832.0 250.9 L833.0 251.3 L834.0 252.0 L835.0 252.3 L836.0 253.6 L837.0 254.3 L838.0 255.1 L839.0 256.6 L840.0 259.5 L841.0 260.0 L842.0 261.1 L843.0 261.2 L844.0 261.4 L845.0 260.8 L846.0 260.9 L847.0 262.9 L848.0 262.6 L849.0 262.9 L850.0 262.0 L851.0 263.5 L852.0 263.2 L853.0 262.4 L854.0 262.8 L855.0 264.5 L856.0 263.9 L857.0 263.0 L858.0 263.1 L859.0 264.6 L860.0 263.9 L861.0 264.2 L862.0 263.6 L863.0 263.8 L864.0 264.5 L865.0 264.5 L866.0 264.1 L867.0 264.1 L868.0 264.8 L869.0 264.2 L870.0 264.1 L871.0 265.0 L872.0 264.3 L873.0 265.7 L874.0 265.8 L875.0 265.8 L876.0 266.3 L877.0 264.8 L878.0 265.4 L879.0 265.4 L880.0 264.8 L881.0 266.4 L882.0 264.8 L883.0 266.8 L884.0 266.2 L885.0 266.9 L886.0 265.1 L887.0 266.8 L888.0 267.0 L889.0 266.7 L890.0 266.3 L891.0 266.5 L892.0 266.2 L893.0 267.0 L894.0 266.5 L895.0 266.5 L896.0 266.2 L897.0 266.7 L898.0 266.7 L899.0 267.4 L900.0 267.1 L901.0 266.3 L902.0 267.1 L903.0 266.2 L904.0 266.7 L905.0 266.9 L906.0 267.3 L907.0 266.0 L908.0 266.2 L909.0 266.3 L910.0 267.3 L911.0 266.4 L912.0 267.2 L913.0 267.9 L914.0 267.0 L915.0 266.7 L916.0 267.5 L917.0 267.1 L918.0 267.2 L919.0 266.7 L920.0 267.8 L921.0 267.2 L922.0 268.5 L923.0 267.5 L924.0 268.0 L925.0 268.5 L926.0 268.6 L927.0 266.7 L928.0 268.6 L929.0 267.0 L930.0 268.7 L931.0 268.4 L932.0 267.4 L933.0 268.4 L934.0 268.1 L935.0 267.9 L936.0 268.3 L937.0 268.0 L938.0 268.4 L939.0 268.5 L940.0 267.1 L941.0 268.4 L942.0 268.6 L943.0 268.9 L944.0 268.3 L945.0 268.3 L946.0 267.6 L947.0 267.7 L948.0 269.1 L949.0 267.4 L950.0 269.1 L951.0 267.6 L952.0 268.1 L953.0 268.6 L954.0 267.4 L955.0 268.3 L956.0 269.0 L957.0 268.2 L958.0 267.8 L959.0 267.5 L960.0 269.3 L961.0 267.6 L962.0 268.7 L963.0 268.6 L964.0 267.9 L965.0 268.4 L966.0 268.7 L967.0 267.7 L968.0 267.7 L969.0 269.1 L970.0 267.6 L971.0 268.1 L972.0 268.0 L973.0 268.6 L974.0 268.7 L975.0 268.5 L976.0 268.2 L977.0 268.0 L978.0 267.0 L979.0 267.9 L980.0 267.6 L981.0 268.2 L982.0 267.4 L983.0 266.8 L984.0 267.3 L985.0 268.1 L986.0 267.4 L987.0 267.7 L988.0 266.4 L989.0 266.7 L990.0 266.7 L991.0 267.1 L992.0 266.3 L993.0 268.0 L994.0 266.7 L995.0 266.0 L996.0 266.4 L997.0 266.9 L998.0 267.1 L999.0 267.4 L1000.0 265.9 L1001.0 267.7 L1002.0 267.4 L1003.0 266.7 L1004.0 266.9 L1005.0 266.2 L1006.0 265.9 L1007.0 265.6 L1008.0 267.5 L1009.0 267.3 L1010.0 266.4 L1011.0 266.7 L1012.0 266.5 L1013.0 266.9 L1014.0 265.7 L1015.0 267.0 L1016.0 265.9 L1017.0 266.8 L1018.0 266.9 L1019.0 267.3 L1020.0 266.9 L1021.0 266.1 L1022.0 267.4 L1023.0 266.6 L1024.0 267.1 L1025.0 267.6 L1026.0 268.0 L1027.0 266.3 L1028.0 267.1 L1029.0 266.9 L1030.0 268.1 L1031.0 267.2 L1032.0 268.3 L1033.0 268.2 L1034.0 267.5 L1035.0 268.3 L1036.0 268.2 L1037.0 267.1 L1038.0 267.6 L1039.0 267.3 L1040.0 268.8 L1041.0 268.0 L1042.0 267.9 L1043.0 268.7 L1044.0 269.3 L1045.0 267.7 L1046.0 268.8 L1047.0 268.0 L1048.0 269.1 L1049.0 269.1 L1050.0 269.1 L1051.0 268.8 L1052.0 267.8 L1053.0 269.3 L1054.0 267.8 L1055.0 268.7 L1056.0 269.5 L1057.0 268.1 L1058.0 268.5 L1059.0 268.8 L1060.0 268.7 L1061.0 268.0 L1062.0 268.2 L1063.0 269.1 L1064.0 268.7 L1065.0 267.5 L1066.0 268.5 L1067.0 268.8 L1068.0 268.2 L1069.0 268.7 L1070.0 267.4 L1071.0 267.4 L1072.0 268.5 L1073.0 267.2 L1074.0 266.9 L1075.0 266.8 L1076.0 268.2 L1077.0 268.1 L1078.0 266.8 L1079.0 267.8 L1080.0 266.7 L1081.0 267.5 L1082.0 266.2 L1083.0 267.3 L1084.0 267.6 L1085.0 267.1 L1086.0 267.3 L1087.0 266.3 L1088.0 266.9 L1089.0 267.6 L1090.0 266.7 L1091.0 267.5 L1092.0 267.2 L1093.0 267.6 L1094.0 267.5 L1095.0 266.6 L1096.0 267.7 L1097.0 267.7 L1098.0 266.9 L1099.0 267.5 L1100.0 267.0 L1101.0 267.3 L1102.0 266.8 L1103.0 267.1 L1104.0 266.9 L1105.0 268.1 L1106.0 267.5 L1107.0 267.6 L1108.0 267.4 L1109.0 267.3 L1110.0 266.8 L1111.0 267.8 L1112.0 267.4 L1113.0 267.3 L1114.0 267.6 L1115.0 266.9 L1116.0 268.0 L1117.0 268.3 L1118.0 267.5 L1119.0 267.1 L1120.0 268.8 L1121.0 268.1 L1122.0 267.6 L1123.0 267.2 L1124.0 268.2 L1125.0 267.5 L1126.0 268.9 L1127.0 268.6 L1128.0 267.7 L1129.0 268.0 L1130.0 267.4 L1131.0 267.7 L1132.0 268.4 L1133.0 269.1 L1134.0 268.3 L1135.0 269.4 L1136.0 268.0 L1137.0 267.7 L1138.0 269.2 L1139.0 268.3 L1140.0 268.2 L1141.0 268.5 L1142.0 268.9 L1143.0 268.2 L1144.0 268.0 L1145.0 269.0 L1146.0 269.1 L1147.0 269.0 L1148.0 268.2 L1149.0 269.7 L1150.0 268.8 L1151.0 269.1 L1152.0 269.8 L1153.0 268.3 L1154.0 269.1 L1155.0 269.0 L1156.0 269.5 L1157.0 268.7 L1158.0 268.7 L1159.0 268.7 L1160.0 269.4 L1161.0 269.0 L1162.0 270.3 L1163.0 270.2 L1164.0 269.9 L1165.0 269.3 L1166.0 270.2 L1167.0 269.7 L1168.0 270.2 L1169.0 270.6 L1170.0 268.9 L1171.0 270.2 L1172.0 270.5 L1173.0 269.6 L1174.0 269.5 L1175.0 268.9 L1176.0 270.7 L1177.0 269.3 L1178.0 268.9 L1179.0 269.1 L1180.0 270.0 L1181.0 270.4 L1182.0 270.8 L1183.0 270.4 L1184.0 269.3 L1185.0 271.0 L1186.0 270.9 L1187.0 270.8 L1188.0 271.0 L1189.0 270.9 L1190.0 270.6 L1191.0 270.8 L1192.0 269.3 L1193.0 271.3 L1194.0 269.3 L1195.0 270.2 L1196.0 270.5 L1197.0 270.4 L1198.0 270.1 L1199.0 270.4 L1200.0 270.1 L1201.0 270.8 L1202.0 269.5 L1203.0 270.2 L1204.0 270.8 L1205.0 270.4 L1206.0 269.6 L1207.0 270.5 L1208.0 271.4 L1209.0 270.7 L1210.0 271.1 L1211.0 270.4 L1212.0 271.6 L1213.0 270.7 L1213.5 271.3" fill="none" stroke="#DC9700" stroke-width="2.3" stroke-linejoin="round" shape-rendering="crispEdges"/>
<g filter="url(#crisp2)"><text transform="translate(237.8,1077) scale(0.96,1)" text-anchor="middle" class="tl">10</text><text transform="translate(481.8,1077) scale(0.96,1)" text-anchor="middle" class="tl">20</text><text transform="translate(726.0,1077) scale(0.96,1)" text-anchor="middle" class="tl">30</text><text transform="translate(970.1,1077) scale(0.96,1)" text-anchor="middle" class="tl">40</text><text transform="translate(1214.2,1077) scale(0.96,1)" text-anchor="middle" class="tl">50</text></g>
<g filter="url(#crisp)">
<rect x="983" y="31" width="67" height="2" fill="#DA9100"/><text x="1057" y="43.9" class="lg">K-L-CNC</text><rect x="983" y="71" width="67" height="2" fill="#B969E0"/><text x="1057" y="84.3" class="lg">L-K-CNC</text><rect x="983" y="112" width="67" height="2" fill="#00A355"/><text x="1057" y="124.8" class="lg">K-CNC</text><rect x="983" y="152" width="67" height="2" fill="#0060E0"/><text x="1057" y="165.2" class="lg">L-CNC</text><rect x="983" y="193" width="67" height="2" fill="#FF2828"/><text x="1057" y="205.7" class="lg">purchased-CNC</text><rect x="983" y="233" width="67" height="2" fill="#626262"/><text x="1057" y="246.2" class="lg">self-made-CNC</text>
</g><g filter="url(#crisp2)"><text class="ax" transform="translate(59,685.5) rotate(-90)">Strength/a.u.</text>
<text class="ax" x="679.5" y="1144.5">2</text><text class="ax" transform="translate(702.5,1146) scale(1.17,1)">θ</text><text class="ax" x="727" y="1146">/</text>
<circle cx="747.4" cy="1122.5" r="3.2" fill="none" stroke="#000" stroke-width="1.2"/>
</g>
</svg>
</body></html>
